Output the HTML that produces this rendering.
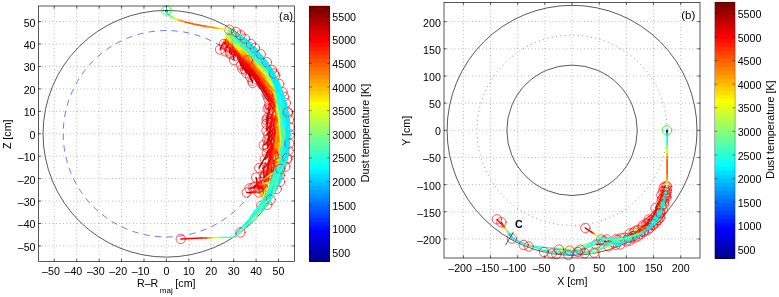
<!DOCTYPE html>
<html><head><meta charset="utf-8"><title>Dust trajectories</title>
<style>html,body{margin:0;padding:0;background:#fff;}svg{display:block}text{font-family:"Liberation Sans",Arial,Helvetica,sans-serif;fill:#000}.j0{stroke:#00008f}.j1{stroke:#00009f}.j2{stroke:#0000af}.j3{stroke:#0000bf}.j4{stroke:#0000cf}.j5{stroke:#0000df}.j6{stroke:#0000ef}.j7{stroke:#0000ff}.j8{stroke:#0010ff}.j9{stroke:#0020ff}.j10{stroke:#0030ff}.j11{stroke:#0040ff}.j12{stroke:#0050ff}.j13{stroke:#0060ff}.j14{stroke:#0070ff}.j15{stroke:#0080ff}.j16{stroke:#008fff}.j17{stroke:#009fff}.j18{stroke:#00afff}.j19{stroke:#00bfff}.j20{stroke:#00cfff}.j21{stroke:#00dfff}.j22{stroke:#00efff}.j23{stroke:#00ffff}.j24{stroke:#10ffef}.j25{stroke:#20ffdf}.j26{stroke:#30ffcf}.j27{stroke:#40ffbf}.j28{stroke:#50ffaf}.j29{stroke:#60ff9f}.j30{stroke:#70ff8f}.j31{stroke:#80ff80}.j32{stroke:#8fff70}.j33{stroke:#9fff60}.j34{stroke:#afff50}.j35{stroke:#bfff40}.j36{stroke:#cfff30}.j37{stroke:#dfff20}.j38{stroke:#efff10}.j39{stroke:#ffff00}.j40{stroke:#ffef00}.j41{stroke:#ffdf00}.j42{stroke:#ffcf00}.j43{stroke:#ffbf00}.j44{stroke:#ffaf00}.j45{stroke:#ff9f00}.j46{stroke:#ff8f00}.j47{stroke:#ff8000}.j48{stroke:#ff7000}.j49{stroke:#ff6000}.j50{stroke:#ff5000}.j51{stroke:#ff4000}.j52{stroke:#ff3000}.j53{stroke:#ff2000}.j54{stroke:#ff1000}.j55{stroke:#ff0000}.j56{stroke:#ef0000}.j57{stroke:#df0000}.j58{stroke:#cf0000}.j59{stroke:#bf0000}.j60{stroke:#af0000}.j61{stroke:#9f0000}.j62{stroke:#8f0000}.j63{stroke:#800000}.rc{stroke:#f00;stroke-width:.65}</style></head><body>
<svg width="779" height="297" viewBox="0 0 779 297">
<rect width="779" height="297" fill="#fff"/>
<rect x="0" y="0" width="1" height="1" fill="#fff" style="mix-blend-mode:multiply"/>
<line x1="54.25" y1="6.00" x2="54.25" y2="261.50" stroke="#000" stroke-width="0.5" stroke-dasharray="0.7 2.8" stroke-opacity="0.8" fill="none"/>
<line x1="76.68" y1="6.00" x2="76.68" y2="261.50" stroke="#000" stroke-width="0.5" stroke-dasharray="0.7 2.8" stroke-opacity="0.8" fill="none"/>
<line x1="99.11" y1="6.00" x2="99.11" y2="261.50" stroke="#000" stroke-width="0.5" stroke-dasharray="0.7 2.8" stroke-opacity="0.8" fill="none"/>
<line x1="121.54" y1="6.00" x2="121.54" y2="261.50" stroke="#000" stroke-width="0.5" stroke-dasharray="0.7 2.8" stroke-opacity="0.8" fill="none"/>
<line x1="143.97" y1="6.00" x2="143.97" y2="261.50" stroke="#000" stroke-width="0.5" stroke-dasharray="0.7 2.8" stroke-opacity="0.8" fill="none"/>
<line x1="166.40" y1="6.00" x2="166.40" y2="261.50" stroke="#000" stroke-width="0.5" stroke-dasharray="0.7 2.8" stroke-opacity="0.8" fill="none"/>
<line x1="188.83" y1="6.00" x2="188.83" y2="261.50" stroke="#000" stroke-width="0.5" stroke-dasharray="0.7 2.8" stroke-opacity="0.8" fill="none"/>
<line x1="211.26" y1="6.00" x2="211.26" y2="261.50" stroke="#000" stroke-width="0.5" stroke-dasharray="0.7 2.8" stroke-opacity="0.8" fill="none"/>
<line x1="233.69" y1="6.00" x2="233.69" y2="261.50" stroke="#000" stroke-width="0.5" stroke-dasharray="0.7 2.8" stroke-opacity="0.8" fill="none"/>
<line x1="256.12" y1="6.00" x2="256.12" y2="261.50" stroke="#000" stroke-width="0.5" stroke-dasharray="0.7 2.8" stroke-opacity="0.8" fill="none"/>
<line x1="278.55" y1="6.00" x2="278.55" y2="261.50" stroke="#000" stroke-width="0.5" stroke-dasharray="0.7 2.8" stroke-opacity="0.8" fill="none"/>
<line x1="38.50" y1="245.90" x2="294.40" y2="245.90" stroke="#000" stroke-width="0.5" stroke-dasharray="0.7 2.8" stroke-opacity="0.8" fill="none"/>
<line x1="38.50" y1="223.47" x2="294.40" y2="223.47" stroke="#000" stroke-width="0.5" stroke-dasharray="0.7 2.8" stroke-opacity="0.8" fill="none"/>
<line x1="38.50" y1="201.04" x2="294.40" y2="201.04" stroke="#000" stroke-width="0.5" stroke-dasharray="0.7 2.8" stroke-opacity="0.8" fill="none"/>
<line x1="38.50" y1="178.61" x2="294.40" y2="178.61" stroke="#000" stroke-width="0.5" stroke-dasharray="0.7 2.8" stroke-opacity="0.8" fill="none"/>
<line x1="38.50" y1="156.18" x2="294.40" y2="156.18" stroke="#000" stroke-width="0.5" stroke-dasharray="0.7 2.8" stroke-opacity="0.8" fill="none"/>
<line x1="38.50" y1="133.75" x2="294.40" y2="133.75" stroke="#000" stroke-width="0.5" stroke-dasharray="0.7 2.8" stroke-opacity="0.8" fill="none"/>
<line x1="38.50" y1="111.32" x2="294.40" y2="111.32" stroke="#000" stroke-width="0.5" stroke-dasharray="0.7 2.8" stroke-opacity="0.8" fill="none"/>
<line x1="38.50" y1="88.89" x2="294.40" y2="88.89" stroke="#000" stroke-width="0.5" stroke-dasharray="0.7 2.8" stroke-opacity="0.8" fill="none"/>
<line x1="38.50" y1="66.46" x2="294.40" y2="66.46" stroke="#000" stroke-width="0.5" stroke-dasharray="0.7 2.8" stroke-opacity="0.8" fill="none"/>
<line x1="38.50" y1="44.03" x2="294.40" y2="44.03" stroke="#000" stroke-width="0.5" stroke-dasharray="0.7 2.8" stroke-opacity="0.8" fill="none"/>
<line x1="38.50" y1="21.60" x2="294.40" y2="21.60" stroke="#000" stroke-width="0.5" stroke-dasharray="0.7 2.8" stroke-opacity="0.8" fill="none"/>
<circle cx="166.4" cy="133.75" r="123.36" fill="none" stroke="#000" stroke-width="0.65"/>
<path d="M269.58 133.75A103.18 103.18 0 1 0 63.22 133.75A103.18 103.18 0 1 0 269.58 133.75" fill="none" stroke="#00f" stroke-width="0.55" stroke-dasharray="6.3 5.27"/>
<g fill="none" stroke-width="1.4" stroke-linecap="round" stroke-linejoin="round">
<circle class="rc" cx="275.2" cy="75.6" r="4.7"/>
<circle class="rc" cx="272.0" cy="69.9" r="4.7"/>
<circle class="rc" cx="279.2" cy="83.9" r="4.7"/>
<circle class="rc" cx="282.5" cy="92.1" r="4.7"/>
<circle class="rc" cx="285.8" cy="102.9" r="4.7"/>
<circle class="rc" cx="288.0" cy="113.2" r="4.7"/>
<circle class="rc" cx="289.6" cy="127.0" r="4.7"/>
<circle class="rc" cx="289.8" cy="134.4" r="4.7"/>
<circle class="rc" cx="289.0" cy="119.7" r="4.7"/>
<circle class="rc" cx="267.3" cy="204.8" r="4.7"/>
<circle class="rc" cx="288.6" cy="150.6" r="4.7"/>
<circle class="rc" cx="285.3" cy="166.7" r="4.7"/>
<circle class="rc" cx="276.7" cy="189.0" r="4.7"/>
<circle class="rc" cx="280.0" cy="181.8" r="4.7"/>
<circle class="rc" cx="261.3" cy="205.7" r="4.7"/>
<circle class="rc" cx="287.1" cy="159.5" r="4.7"/>
<circle class="rc" cx="280.0" cy="175.2" r="4.7"/>
<circle class="rc" cx="284.1" cy="96.9" r="4.7"/>
<path class="j31" d="M229.3 29.7L227 35.8"/>
<path class="j40" d="M227 35.8L226.2 37.9"/>
<path class="j49" d="M226.2 37.9L225.5 39.9"/>
<path class="j55" d="M225.5 39.9L224.7 42"/>
<path class="j58" d="M224.7 42L223.9 44"/>
<path class="j31" d="M229.3 29.7L227.8 35.4"/>
<path class="j34" d="M227.8 35.4L227.3 37.3"/>
<path class="j40" d="M227.3 37.3L226.8 39.2"/>
<path class="j49" d="M226.8 39.2L226.3 41.1"/>
<path class="j55" d="M226.3 41.1L225.8 42.9"/>
<path class="j58" d="M225.8 42.9L225.3 44.8"/>
<path class="j31" d="M229.3 29.7L226.8 35.1"/>
<path class="j34" d="M226.8 35.1L225.9 36.9"/>
<path class="j37" d="M225.9 36.9L225.1 38.7"/>
<path class="j40" d="M225.1 38.7L224.3 40.5"/>
<path class="j46" d="M224.3 40.5L223.4 42.3"/>
<path class="j52" d="M223.4 42.3L222.6 44.1"/>
<path class="j55" d="M222.6 44.1L221.7 45.9"/>
<path class="j58" d="M221.7 45.9L220.9 47.7"/>
<path class="j61" d="M220.9 47.7L220.1 49.5"/>
<path class="j31" d="M229.3 29.7L228.7 35.6"/>
<path class="j34" d="M228.7 35.6L228.5 37.6"/>
<path class="j37" d="M228.5 37.6L228.3 39.6"/>
<path class="j43" d="M228.3 39.6L228.1 41.6"/>
<path class="j52" d="M228.1 41.6L227.9 43.6"/>
<path class="j55" d="M227.9 43.6L227.7 45.5"/>
<path class="j61" d="M227.7 45.5L227.6 47.5"/>
<path class="j31" d="M229.3 29.7L228.2 35.5"/>
<path class="j34" d="M228.2 35.5L227.9 36.9"/>
<path class="j37" d="M227.9 36.9L227.7 38.4"/>
<path class="j40" d="M227.7 38.4L227.4 39.8"/>
<path class="j43" d="M227.4 39.8L227.2 41.2"/>
<path class="j46" d="M227.2 41.2L226.9 42.7"/>
<path class="j49" d="M226.9 42.7L226.5 45.6"/>
<path class="j55" d="M226.5 45.6L226.2 47"/>
<path class="j58" d="M226.2 47L225.8 49.9"/>
<path class="j61" d="M225.8 49.9L225.6 51.4"/>
<path class="j31" d="M229.3 29.7L229.2 32.9M229.1 33.9L229 36"/>
<path class="j28" d="M229.2 32.9L229.1 33.9"/>
<path class="j34" d="M229 36L229 37.1"/>
<path class="j37" d="M229 37.1L229 39.2"/>
<path class="j40" d="M229 39.2L229 40.3"/>
<path class="j43" d="M229 40.3L229 41.3"/>
<path class="j46" d="M229 41.3L229.1 43.4"/>
<path class="j49" d="M229.1 43.4L229.2 45.5"/>
<path class="j52" d="M229.2 45.5L229.3 47.6"/>
<path class="j55" d="M229.3 47.6L229.5 49.8"/>
<path class="j58" d="M229.5 49.8L229.6 50.8"/>
<path class="j61" d="M229.6 50.8L229.8 52.9"/>
<path class="j31" d="M229.3 29.7L229.8 36.8"/>
<path class="j34" d="M229.8 36.8L230 38.5"/>
<path class="j37" d="M230 38.5L230.1 40.3"/>
<path class="j40" d="M230.1 40.3L230.2 42"/>
<path class="j43" d="M230.2 42L230.4 43.8"/>
<path class="j46" d="M230.4 43.8L230.5 45.6"/>
<path class="j49" d="M230.5 45.6L230.7 47.3"/>
<path class="j52" d="M230.7 47.3L230.8 49.1"/>
<path class="j55" d="M230.8 49.1L231 50.9"/>
<path class="j58" d="M231 50.9L231.2 52.6"/>
<path class="j61" d="M231.2 52.6L231.3 54.4"/>
<path class="j31" d="M229.3 29.7L231 37.8"/>
<path class="j34" d="M231 37.8L231.4 39.5"/>
<path class="j37" d="M231.4 39.5L231.7 41.1"/>
<path class="j40" d="M231.7 41.1L232.1 42.7"/>
<path class="j43" d="M232.1 42.7L232.8 46"/>
<path class="j46" d="M232.8 46L233.2 47.6"/>
<path class="j49" d="M233.2 47.6L233.6 49.2"/>
<path class="j52" d="M233.6 49.2L234 50.9"/>
<path class="j55" d="M234 50.9L234.4 52.5"/>
<path class="j58" d="M234.4 52.5L234.8 54.1"/>
<path class="j61" d="M234.8 54.1L235.2 55.7"/>
<path class="j31" d="M229.3 29.7L230.4 37.3"/>
<path class="j34" d="M230.4 37.3L230.7 39.2"/>
<path class="j37" d="M230.7 39.2L231 41.1"/>
<path class="j40" d="M231 41.1L231.3 43"/>
<path class="j43" d="M231.3 43L231.6 44.9"/>
<path class="j46" d="M231.6 44.9L231.9 46.8"/>
<path class="j49" d="M231.9 46.8L232.2 48.7"/>
<path class="j52" d="M232.2 48.7L232.8 52.5"/>
<path class="j55" d="M232.8 52.5L233.1 54.4"/>
<path class="j58" d="M233.1 54.4L233.4 56.3"/>
<path class="j61" d="M233.4 56.3L234 60.1"/>
<path class="j31" d="M229.3 29.7L230.3 33.5M231 36L231.3 37.3"/>
<path class="j28" d="M230.3 33.5L231 36"/>
<path class="j34" d="M231.3 37.3L232.1 39.8"/>
<path class="j37" d="M232.1 39.8L232.4 41.1"/>
<path class="j40" d="M232.4 41.1L232.8 42.3"/>
<path class="j43" d="M232.8 42.3L233.6 44.8"/>
<path class="j46" d="M233.6 44.8L234.4 47.4"/>
<path class="j49" d="M234.4 47.4L234.8 48.6"/>
<path class="j52" d="M234.8 48.6L236.1 52.4"/>
<path class="j55" d="M236.1 52.4L238.4 58.7"/>
<path class="j58" d="M238.4 58.7L240.9 65.1"/>
<path class="j61" d="M240.9 65.1L242.4 68.8"/>
<path class="j31" d="M229.3 29.7L230.1 32.4M231.3 36.5L231.7 37.9"/>
<path class="j28" d="M230.1 32.4L231.3 36.5"/>
<path class="j34" d="M231.7 37.9L232.1 39.2"/>
<path class="j37" d="M232.1 39.2L232.9 42"/>
<path class="j40" d="M232.9 42L233.4 43.3"/>
<path class="j43" d="M233.4 43.3L234.3 46.1"/>
<path class="j46" d="M234.3 46.1L234.7 47.4"/>
<path class="j49" d="M234.7 47.4L235.6 50.2"/>
<path class="j52" d="M235.6 50.2L237.1 54.3"/>
<path class="j55" d="M237.1 54.3L239.1 59.7"/>
<path class="j58" d="M239.1 59.7L240.1 62.4"/>
<path class="j61" d="M240.1 62.4L241.2 65.2"/>
<path class="j31" d="M229.3 29.7L230.6 32.1M233.9 38L235.2 40.3"/>
<path class="j28" d="M230.6 32.1L233.9 38"/>
<path class="j34" d="M235.2 40.3L235.9 41.5"/>
<path class="j37" d="M235.9 41.5L238 45"/>
<path class="j40" d="M238 45L239.5 47.4"/>
<path class="j43" d="M239.5 47.4L240.9 49.7"/>
<path class="j46" d="M240.9 49.7L244 54.5"/>
<path class="j49" d="M244 54.5L244.7 55.6"/>
<path class="j52" d="M244.7 55.6L245.5 56.8"/>
<path class="j55" d="M245.5 56.8L246.3 58"/>
<path class="j58" d="M246.3 58L247.1 59.2"/>
<path class="j61" d="M247.1 59.2L247.9 60.4"/>
<path class="j31" d="M229.3 29.7L230.7 33.7M231.1 35.1L232 37.8"/>
<path class="j28" d="M230.7 33.7L231.1 35.1"/>
<path class="j34" d="M232 37.8L232.5 39.1"/>
<path class="j37" d="M232.5 39.1L233.5 41.8"/>
<path class="j40" d="M233.5 41.8L234 43.2"/>
<path class="j43" d="M234 43.2L235 45.9"/>
<path class="j46" d="M235 45.9L235.5 47.2"/>
<path class="j49" d="M235.5 47.2L236.5 49.9"/>
<path class="j52" d="M236.5 49.9L238.1 54"/>
<path class="j55" d="M238.1 54L240.9 60.7"/>
<path class="j58" d="M240.9 60.7L242.7 64.8"/>
<path class="j61" d="M242.7 64.8L243.9 67.5"/>
<path class="j31" d="M229.3 29.7L231.2 34.7M231.8 36.4L232.4 38"/>
<path class="j28" d="M231.2 34.7L231.8 36.4"/>
<path class="j34" d="M232.4 38L233 39.7"/>
<path class="j37" d="M233 39.7L234.3 43"/>
<path class="j40" d="M234.3 43L234.9 44.7"/>
<path class="j43" d="M234.9 44.7L235.6 46.4"/>
<path class="j46" d="M235.6 46.4L236.9 49.7"/>
<path class="j49" d="M236.9 49.7L237.5 51.4"/>
<path class="j52" d="M237.5 51.4L238.9 54.7"/>
<path class="j55" d="M238.9 54.7L242.2 63.1"/>
<path class="j58" d="M242.2 63.1L244.3 68.1"/>
<path class="j61" d="M244.3 68.1L246.4 73.1"/>
<path class="j31" d="M229.3 29.7L229.7 32.1M230.2 35.4L230.4 36.2"/>
<path class="j28" d="M229.7 32.1L230.2 35.4"/>
<path class="j34" d="M230.4 36.2L230.7 37.8"/>
<path class="j37" d="M230.7 37.8L231.1 39.5"/>
<path class="j40" d="M231.1 39.5L231.5 41.1"/>
<path class="j43" d="M231.5 41.1L232 42.7"/>
<path class="j46" d="M232 42.7L232.5 44.3"/>
<path class="j49" d="M232.5 44.3L233.3 46.8"/>
<path class="j52" d="M233.3 46.8L234.5 50"/>
<path class="j55" d="M234.5 50L238.3 58.2"/>
<path class="j58" d="M238.3 58.2L243.4 67.1"/>
<path class="j61" d="M243.4 67.1L245 69.6"/>
<path class="j31" d="M229.3 29.7L230.5 32.7M232.2 37.1L232.8 38.6"/>
<path class="j28" d="M230.5 32.7L232.2 37.1"/>
<path class="j34" d="M232.8 38.6L233.9 41.5"/>
<path class="j37" d="M233.9 41.5L234.5 43"/>
<path class="j40" d="M234.5 43L235.1 44.5"/>
<path class="j43" d="M235.1 44.5L236.4 47.4"/>
<path class="j46" d="M236.4 47.4L237.6 50.4"/>
<path class="j49" d="M237.6 50.4L238.9 53.4"/>
<path class="j52" d="M238.9 53.4L240.8 57.8"/>
<path class="j55" d="M240.8 57.8L245.5 68.2"/>
<path class="j58" d="M245.5 68.2L250.5 78.5"/>
<path class="j61" d="M250.5 78.5L252.7 82.9"/>
<path class="j31" d="M229.3 29.7L231.4 34.6M232.1 36.3L232.8 37.9"/>
<path class="j28" d="M231.4 34.6L232.1 36.3"/>
<path class="j34" d="M232.8 37.9L234.2 41.2"/>
<path class="j37" d="M234.2 41.2L234.9 42.9"/>
<path class="j40" d="M234.9 42.9L235.7 44.5"/>
<path class="j43" d="M235.7 44.5L237.1 47.8"/>
<path class="j46" d="M237.1 47.8L237.8 49.4"/>
<path class="j49" d="M237.8 49.4L239.3 52.7"/>
<path class="j52" d="M239.3 52.7L241.6 57.7"/>
<path class="j55" d="M241.6 57.7L245.4 65.9"/>
<path class="j58" d="M245.4 65.9L250 75.8"/>
<path class="j61" d="M250 75.8L252.4 80.7"/>
<path class="j31" d="M229.3 29.7L230 32.1M231.1 35.7L231.9 38.1"/>
<path class="j28" d="M230 32.1L231.1 35.7"/>
<path class="j34" d="M231.9 38.1L232.3 39.3"/>
<path class="j37" d="M232.3 39.3L233.1 41.7"/>
<path class="j40" d="M233.1 41.7L233.5 42.9"/>
<path class="j43" d="M233.5 42.9L234.4 45.3"/>
<path class="j46" d="M234.4 45.3L235.3 47.8"/>
<path class="j49" d="M235.3 47.8L236.2 50.2"/>
<path class="j52" d="M236.2 50.2L238.1 55"/>
<path class="j55" d="M238.1 55L241.8 63.4"/>
<path class="j58" d="M241.8 63.4L244 68.2"/>
<path class="j61" d="M244 68.2L245.8 71.8"/>
<path class="j31" d="M229.3 29.7L230.5 32.6M232.2 37.1L232.8 38.6"/>
<path class="j28" d="M230.5 32.6L232.2 37.1"/>
<path class="j34" d="M232.8 38.6L234.1 41.5"/>
<path class="j37" d="M234.1 41.5L234.7 43"/>
<path class="j40" d="M234.7 43L235.3 44.5"/>
<path class="j43" d="M235.3 44.5L236.5 47.4"/>
<path class="j46" d="M236.5 47.4L237.8 50.4"/>
<path class="j49" d="M237.8 50.4L239.1 53.3"/>
<path class="j52" d="M239.1 53.3L241.1 57.8"/>
<path class="j55" d="M241.1 57.8L245.9 68.1"/>
<path class="j58" d="M245.9 68.1L248.8 74"/>
<path class="j61" d="M248.8 74L250.2 77"/>
<path class="j31" d="M229.3 29.7L230.6 32.7M232.6 37.1L233.3 38.6"/>
<path class="j28" d="M230.6 32.7L232.6 37.1"/>
<path class="j34" d="M233.3 38.6L234.6 41.6"/>
<path class="j37" d="M234.6 41.6L235.3 43.1"/>
<path class="j40" d="M235.3 43.1L236.6 46.1"/>
<path class="j43" d="M236.6 46.1L237.3 47.6"/>
<path class="j46" d="M237.3 47.6L238.7 50.5"/>
<path class="j49" d="M238.7 50.5L240.2 53.5"/>
<path class="j52" d="M240.2 53.5L243.1 59.5"/>
<path class="j55" d="M243.1 59.5L248.4 69.9"/>
<path class="j58" d="M248.4 69.9L249.9 72.9"/>
<path class="j61" d="M249.9 72.9L251.5 75.8"/>
<path class="j31" d="M229.3 29.7L230.4 31.3M237 39.8L239 42.2M264.8 67.2L267.6 69.5M271.4 85.2L270.9 86.6"/>
<path class="j28" d="M230.4 31.3L233.9 35.9M235.1 37.5L237 39.8M267.6 69.5L272.4 73.4M272 83.8L271.4 85.2"/>
<path class="j25" d="M233.9 35.9L235.1 37.5M272.4 73.4L275.2 75.6L272 83.8"/>
<path class="j34" d="M239 42.2L242.5 46.1M261.1 64L264.8 67.2M270.9 86.6L270.4 87.9"/>
<path class="j37" d="M242.5 46.1L250.9 54.7L261.1 64M270.4 87.9L269.9 89.3"/>
<path class="j46" d="M269.9 89.3L269.4 90.7"/>
<path class="j52" d="M269.4 90.7L269 92.1"/>
<path class="j55" d="M269 92.1L268.5 93.4"/>
<path class="j58" d="M268.5 93.4L268 94.8"/>
<path class="j31" d="M229.3 29.7L230.8 31.4M242.6 44.1L250.6 51.7L259.1 59.3M269.8 79.7L269.5 81.4"/>
<path class="j28" d="M230.8 31.4L236.1 37.3M238.5 39.8L242.6 44.1M259.1 59.3L266.2 65.2M270.2 78.1L269.8 79.7"/>
<path class="j25" d="M236.1 37.3L238.5 39.8M266.2 65.2L272 69.9L270.2 78.1"/>
<path class="j34" d="M269.5 81.4L269.1 83"/>
<path class="j37" d="M269.1 83L268.8 84.7"/>
<path class="j40" d="M268.8 84.7L268.5 86.3"/>
<path class="j43" d="M268.5 86.3L267.8 89.6"/>
<path class="j49" d="M267.8 89.6L267.5 91.2"/>
<path class="j55" d="M267.5 91.2L267.2 92.8"/>
<path class="j58" d="M267.2 92.8L266.9 94.5"/>
<path class="j61" d="M266.9 94.5L266.6 96.1"/>
<path class="j31" d="M229.3 29.7L230.1 31.7M232.1 36.3L232.8 37.6M274.5 80.5L277.3 82.5M274.8 90.1L274.1 91.1"/>
<path class="j28" d="M230.1 31.7L232.1 36.3M277.3 82.5L279.2 83.9L277.7 85.9M275.5 89L274.8 90.1"/>
<path class="j34" d="M232.8 37.6L233.9 39.6M272.7 79.2L274.5 80.5M274.1 91.1L273.4 92.1"/>
<path class="j37" d="M233.9 39.6L235 41.6M270 77.2L272.7 79.2M273.4 92.1L272.7 93.2"/>
<path class="j40" d="M235 41.6L236.7 44.2M267.4 75.2L270 77.2M272.7 93.2L271.3 95.2"/>
<path class="j43" d="M236.7 44.2L238.6 46.9M264.1 72.6L267.4 75.2"/>
<path class="j46" d="M238.6 46.9L242.2 51.5M259.3 68.6L264.1 72.6"/>
<path class="j49" d="M242.2 51.5L250 60.1L259.3 68.6M271.3 95.2L270.6 96.3"/>
<path class="j25" d="M277.7 85.9L275.5 89"/>
<path class="j52" d="M270.6 96.3L270 97.3"/>
<path class="j58" d="M270 97.3L269.3 98.3"/>
<path class="j61" d="M269.3 98.3L268.7 99.4"/>
<path class="j31" d="M229.3 29.7L230.6 31.9M234.2 37.9L235.3 39.4M272.6 77.6L275.5 79.8M274.1 89L273.4 90.1"/>
<path class="j28" d="M230.6 31.9L234.2 37.9M275.5 79.8L278.5 82.2L277.7 83.3M274.8 87.8L274.1 89"/>
<path class="j34" d="M235.3 39.4L236.8 41.7M269.9 75.4L272.6 77.6M273.4 90.1L272.7 91.2"/>
<path class="j37" d="M236.8 41.7L238.5 43.9M267.2 73.1L269.9 75.4M272.7 91.2L272 92.4"/>
<path class="j40" d="M238.5 43.9L241.5 47.7M262.8 69.4L267.2 73.1M272 92.4L271.3 93.5"/>
<path class="j43" d="M241.5 47.7L248 55.1M254.7 61.9L262.8 69.4M271.3 93.5L270.7 94.6"/>
<path class="j46" d="M248 55.1L254.7 61.9"/>
<path class="j25" d="M277.7 83.3L274.8 87.8"/>
<path class="j49" d="M270.7 94.6L270 95.8"/>
<path class="j52" d="M270 95.8L269.3 96.9"/>
<path class="j58" d="M269.3 96.9L268.7 98"/>
<path class="j61" d="M268.7 98L268 99.1"/>
<path class="j31" d="M229.3 29.7L230 31.5M232.1 36.3L232.7 37.5M272.4 76.2L275.1 78M273.1 85.6L272.4 86.7"/>
<path class="j28" d="M230 31.5L232.1 36.3M275.1 78L277.1 79.3L275.7 81.4M273.7 84.6L273.1 85.6"/>
<path class="j34" d="M232.7 37.5L233.3 38.7M269.7 74.4L272.4 76.2M272.4 86.7L271.8 87.7"/>
<path class="j37" d="M233.3 38.7L234.8 41.2M268 73.1L269.7 74.4M271.8 87.7L270.6 89.8"/>
<path class="j40" d="M234.8 41.2L236.4 43.6M264.6 70.7L268 73.1M270.6 89.8L269.9 90.9"/>
<path class="j43" d="M236.4 43.6L238.6 46.6M260.6 67.7L264.6 70.7"/>
<path class="j46" d="M238.6 46.6L243.2 52M253.9 62.3L260.6 67.7M269.9 90.9L269.3 92"/>
<path class="j49" d="M243.2 52L247.9 56.9L253.9 62.3"/>
<path class="j25" d="M275.7 81.4L273.7 84.6"/>
<path class="j52" d="M269.3 92L268.7 93"/>
<path class="j58" d="M268.7 93L268.1 94.1"/>
<path class="j61" d="M268.1 94.1L267.6 95.1"/>
<path class="j31" d="M229.3 29.7L229.8 30.9M232.1 36.6L232.7 37.8M272.6 77.8L275.3 79.7M274.4 90.6L273.9 91.7"/>
<path class="j28" d="M229.8 30.9L232.1 36.6M275.3 79.7L278.2 81.6M274.8 89.4L274.4 90.6"/>
<path class="j34" d="M232.7 37.8L233.8 39.7M270.8 76.6L272.6 77.8M273.9 91.7L273.5 92.8"/>
<path class="j37" d="M233.8 39.7L234.9 41.6M268.2 74.7L270.8 76.6M273.5 92.8L272.6 95"/>
<path class="j40" d="M234.9 41.6L236.9 44.7M265.7 72.8L268.2 74.7M272.6 95L272.2 96.1"/>
<path class="j43" d="M236.9 44.7L239.2 47.8M260.8 69.1L265.7 72.8M272.2 96.1L271.8 97.3"/>
<path class="j46" d="M239.2 47.8L243.9 53.4M254.1 63.4L260.8 69.1M271.8 97.3L271 99.5"/>
<path class="j49" d="M243.9 53.4L248.7 58.4L254.1 63.4M271 99.5L270.6 100.6"/>
<path class="j25" d="M278.2 81.6L274.8 89.4"/>
<path class="j52" d="M270.6 100.6L270.2 101.7"/>
<path class="j55" d="M270.2 101.7L269.8 102.8"/>
<path class="j58" d="M269.8 102.8L269.5 104"/>
<path class="j61" d="M269.5 104L269.1 105.1"/>
<path class="j31" d="M229.3 29.7L230 31.8M231.7 36.2L232.3 37.6M279.7 90L282.5 92.1M277.1 98L276.1 99.2"/>
<path class="j28" d="M230 31.8L231.7 36.2M282.5 92.1L277.1 98"/>
<path class="j34" d="M232.3 37.6L233 39M276.9 87.9L279.7 90M276.1 99.2L275 100.4"/>
<path class="j37" d="M233 39L233.7 40.5M275.1 86.4L276.9 87.9M275 100.4L273.9 101.6"/>
<path class="j40" d="M233.7 40.5L234.8 42.6M273.3 85L275.1 86.4M273.9 101.6L272.9 102.8"/>
<path class="j43" d="M234.8 42.6L236.5 45.5M270.7 82.8L273.3 85"/>
<path class="j46" d="M236.5 45.5L238.2 48.4M267.2 80L270.7 82.8M272.9 102.8L271.8 104"/>
<path class="j49" d="M238.2 48.4L241.2 52.7M263.1 76.4L267.2 80M271.8 104L270.8 105.2"/>
<path class="j52" d="M241.2 52.7L245.7 58.4L250.7 64.2L256.2 69.9L263.1 76.4"/>
<path class="j55" d="M270.8 105.2L269.8 106.3"/>
<path class="j58" d="M269.8 106.3L268.7 107.5"/>
<path class="j61" d="M268.7 107.5L267.7 108.7"/>
<path class="j31" d="M229.3 29.7L231.1 32.4M235.4 38.6L236.7 40.4M273.4 79.7L277.4 83.2M276.4 93.1L275.2 95.7"/>
<path class="j28" d="M231.1 32.4L235.4 38.6M277.4 83.2L279.9 85.4L278.7 88M276.9 91.8L276.4 93.1"/>
<path class="j34" d="M236.7 40.4L238.8 43.1M271.4 77.9L273.4 79.7M275.2 95.7L274.7 97"/>
<path class="j37" d="M238.8 43.1L240.9 45.8M268.5 75.2L271.4 77.9M274.7 97L274.1 98.2"/>
<path class="j40" d="M240.9 45.8L245.3 51.1M263.8 70.7L268.5 75.2M274.1 98.2L273.6 99.5"/>
<path class="j43" d="M245.3 51.1L254.1 60.9L263.8 70.7M273.6 99.5L273.1 100.8"/>
<path class="j25" d="M278.7 88L276.9 91.8"/>
<path class="j46" d="M273.1 100.8L272 103.4"/>
<path class="j49" d="M272 103.4L271.5 104.6"/>
<path class="j52" d="M271.5 104.6L271 105.9"/>
<path class="j55" d="M271 105.9L270.5 107.2"/>
<path class="j58" d="M270.5 107.2L270 108.5"/>
<path class="j61" d="M270 108.5L269.5 109.8"/>
<path class="j31" d="M229.3 29.7L230.5 31.4M236.1 39.3L237.4 41.1M271.5 76.9L274.4 79.5M275.6 93.4L275 95"/>
<path class="j28" d="M230.5 31.4L236.1 39.3M274.4 79.5L279.1 83.6M276.1 91.8L275.6 93.4"/>
<path class="j34" d="M237.4 41.1L239.4 43.7M269.5 75.2L271.5 76.9M275 95L274.4 96.7"/>
<path class="j37" d="M239.4 43.7L243 48.1M265.7 71.7L269.5 75.2M274.4 96.7L273.8 98.3"/>
<path class="j40" d="M243 48.1L249.2 55M256.7 62.9L265.7 71.7M273.8 98.3L273.3 99.9"/>
<path class="j43" d="M249.2 55L256.7 62.9M273.3 99.9L272.7 101.6"/>
<path class="j25" d="M279.1 83.6L276.1 91.8"/>
<path class="j46" d="M272.7 101.6L271.6 104.9"/>
<path class="j49" d="M271.6 104.9L271.1 106.5"/>
<path class="j52" d="M271.1 106.5L269.5 111.4"/>
<path class="j55" d="M269.5 111.4L268.9 113.1"/>
<path class="j58" d="M268.9 113.1L268.4 114.7"/>
<path class="j61" d="M268.4 114.7L267.4 118"/>
<path class="j31" d="M229.3 29.7L230.7 32.6M232.7 36.4L233.7 38.4M283.9 101L285.8 102.9L284.8 104.2M280.6 109.5L279.6 110.9"/>
<path class="j28" d="M230.7 32.6L232.7 36.4M284.8 104.2L280.6 109.5"/>
<path class="j34" d="M233.7 38.4L234.8 40.3M281.9 99.1L283.9 101M279.6 110.9L278.6 112.2"/>
<path class="j37" d="M234.8 40.3L235.9 42.2M280 97.1L281.9 99.1M278.6 112.2L277.5 113.5"/>
<path class="j40" d="M235.9 42.2L237.6 45.1M278 95.2L280 97.1M277.5 113.5L276.5 114.8"/>
<path class="j43" d="M237.6 45.1L239.4 48M275.2 92.3L278 95.2"/>
<path class="j46" d="M239.4 48L241.2 50.9M272.4 89.4L275.2 92.3M276.5 114.8L275.5 116.2"/>
<path class="j49" d="M241.2 50.9L244.5 55.7M267.9 84.6L272.4 89.4"/>
<path class="j52" d="M244.5 55.7L253.1 67.3M256.9 72.1L267.9 84.6M275.5 116.2L274.5 117.5"/>
<path class="j55" d="M253.1 67.3L256.9 72.1"/>
<path class="j58" d="M274.5 117.5L273.5 118.8"/>
<path class="j61" d="M273.5 118.8L272.5 120.2"/>
<path class="j31" d="M229.3 29.7L230.9 31.7M240.1 42.5L241.9 44.4M265.2 68L268.3 71M273.8 88.6L273.5 90"/>
<path class="j28" d="M230.9 31.7L235.8 37.6M236.7 38.5L240.1 42.5M268.3 71L273.7 75.9M274.2 87.2L273.8 88.6"/>
<path class="j25" d="M235.8 37.6L236.7 38.5M273.7 75.9L276.7 78.6L274.2 87.2"/>
<path class="j34" d="M241.9 44.4L247.3 50.3M260 63.1L265.2 68M273.5 90L272.7 92.9"/>
<path class="j37" d="M247.3 50.3L260 63.1M272.7 92.9L272.3 94.3"/>
<path class="j40" d="M272.3 94.3L272 95.8"/>
<path class="j43" d="M272 95.8L271.6 97.2"/>
<path class="j46" d="M271.6 97.2L270.9 100.1"/>
<path class="j49" d="M270.9 100.1L270.2 102.9"/>
<path class="j52" d="M270.2 102.9L269.2 107.2"/>
<path class="j55" d="M269.2 107.2L267.7 114.4"/>
<path class="j58" d="M267.7 114.4L267.1 117.3"/>
<path class="j61" d="M267.1 117.3L266.6 120.1"/>
<path class="j31" d="M229.3 29.7L230.1 31.9M231.5 35.7L232.1 37.2M281.1 93.4L283.6 95.4M279.4 102.3L278.6 103.7"/>
<path class="j28" d="M230.1 31.9L231.5 35.7M283.6 95.4L279.4 102.3"/>
<path class="j34" d="M232.1 37.2L232.8 38.7M279.2 91.9L281.1 93.4M278.6 103.7L277.7 105.1"/>
<path class="j37" d="M232.8 38.7L233.8 40.9M277.4 90.4L279.2 91.9M277.7 105.1L276.1 107.9"/>
<path class="j40" d="M233.8 40.9L234.6 42.4M275.5 88.9L277.4 90.4M276.1 107.9L275.3 109.2"/>
<path class="j43" d="M234.6 42.4L236.2 45.4M272.8 86.7L275.5 88.9M275.3 109.2L274.4 110.6"/>
<path class="j46" d="M236.2 45.4L237.5 47.7M270.2 84.4L272.8 86.7M274.4 110.6L273.6 112"/>
<path class="j49" d="M237.5 47.7L239.9 51.4M266 80.7L270.2 84.4M273.6 112L272.8 113.4"/>
<path class="j52" d="M239.9 51.4L244.8 58.2M259.6 74.7L266 80.7M272.8 113.4L272 114.8"/>
<path class="j55" d="M244.8 58.2L251.7 66.4L259.6 74.7"/>
<path class="j58" d="M272 114.8L270.5 117.6"/>
<path class="j61" d="M270.5 117.6L269.7 118.9"/>
<path class="j31" d="M229.3 29.7L230.8 32.1M235.2 38.4L236.4 40M270.8 74.9L273.7 77.2M274.8 90.4L274.3 92.1"/>
<path class="j28" d="M230.8 32.1L235.2 38.4M273.7 77.2L277.6 80.4M275.3 88.8L274.8 90.4"/>
<path class="j34" d="M236.4 40L238.3 42.4M268 72.5L270.8 74.9M274.3 92.1L273.9 93.8"/>
<path class="j37" d="M238.3 42.4L240.8 45.5M264.3 69.3L268 72.5M273.9 93.8L273.4 95.5"/>
<path class="j40" d="M240.8 45.5L246.4 51.9M257.4 63L264.3 69.3M273.4 95.5L273 97.1"/>
<path class="j43" d="M246.4 51.9L257.4 63M273 97.1L272.1 100.5"/>
<path class="j25" d="M277.6 80.4L275.3 88.8"/>
<path class="j46" d="M272.1 100.5L271.7 102.1"/>
<path class="j49" d="M271.7 102.1L270.8 105.5"/>
<path class="j52" d="M270.8 105.5L270 108.8"/>
<path class="j55" d="M270 108.8L268.3 115.5"/>
<path class="j58" d="M268.3 115.5L267.5 118.9"/>
<path class="j61" d="M267.5 118.9L266.4 123.9"/>
<path class="j31" d="M229.3 29.7L231 31.6M241.4 43.4L244.2 46.3M262.1 63.9L265.3 66.9M273 88.2L272.7 90"/>
<path class="j28" d="M231 31.6L236.1 37.5M237.8 39.5L241.4 43.4M265.3 66.9L271.8 72.7M273.3 86.5L273 88.2"/>
<path class="j25" d="M236.1 37.5L237.8 39.5M271.8 72.7L275.3 75.8L273.3 86.5"/>
<path class="j34" d="M244.2 46.3L252.9 55.1L262.1 63.9M272.7 90L272.4 91.8"/>
<path class="j37" d="M272.4 91.8L272.1 93.5"/>
<path class="j40" d="M272.1 93.5L271.8 95.3"/>
<path class="j43" d="M271.8 95.3L271.5 97.1"/>
<path class="j46" d="M271.5 97.1L270.9 100.6"/>
<path class="j49" d="M270.9 100.6L270.3 104.2"/>
<path class="j52" d="M270.3 104.2L269.5 109.5"/>
<path class="j55" d="M269.5 109.5L267.9 120.1"/>
<path class="j58" d="M267.9 120.1L267.2 125.4"/>
<path class="j61" d="M267.2 125.4L266.5 130.7"/>
<path class="j31" d="M229.3 29.7L231 33.1M233.4 37.7L234 38.8M287 112L288 113.2L286.9 114.5M282.1 119.6L280.9 120.8"/>
<path class="j28" d="M231 33.1L233.4 37.7M286.9 114.5L282.1 119.6"/>
<path class="j34" d="M234 38.8L235.3 41.1M284.9 109.7L287 112M280.9 120.8L279.8 122.1"/>
<path class="j37" d="M235.3 41.1L236.6 43.4M282.9 107.4L284.9 109.7M279.8 122.1L278.6 123.4"/>
<path class="j40" d="M236.6 43.4L237.9 45.7M281 105.2L282.9 107.4M278.6 123.4L277.4 124.6"/>
<path class="j43" d="M237.9 45.7L239.2 48M279 102.9L281 105.2M277.4 124.6L276.3 125.9"/>
<path class="j46" d="M239.2 48L241.2 51.4M276.1 99.4L279 102.9M276.3 125.9L275.1 127.2"/>
<path class="j49" d="M241.2 51.4L244.1 56M273.3 96L276.1 99.4M275.1 127.2L274 128.4"/>
<path class="j52" d="M244.1 56L248.5 62.9M267.7 89.1L273.3 96M274 128.4L272.8 129.7"/>
<path class="j55" d="M248.5 62.9L257.3 75.4L267.7 89.1M272.8 129.7L271.7 131"/>
<path class="j58" d="M271.7 131L269.4 133.5"/>
<path class="j61" d="M269.4 133.5L268.3 134.8"/>
<path class="j31" d="M229.3 29.7L230.3 32.2M232 36.5L232.4 37.3M283.4 99.9L285.5 101.7M280.5 109.3L279.5 110.8"/>
<path class="j28" d="M230.3 32.2L232 36.5M285.5 101.7L280.5 109.3"/>
<path class="j34" d="M232.4 37.3L233.2 39M281.5 98.2L283.4 99.9M279.5 110.8L278.5 112.3"/>
<path class="j37" d="M233.2 39L234.4 41.5M279.6 96.5L281.5 98.2M278.5 112.3L277.5 113.8"/>
<path class="j40" d="M234.4 41.5L235.3 43.2M277.7 94.8L279.6 96.5M277.5 113.8L276.5 115.3"/>
<path class="j43" d="M235.3 43.2L236.6 45.8M275.9 93.1L277.7 94.8M276.5 115.3L275.5 116.8"/>
<path class="j46" d="M236.6 45.8L238.1 48.3M273.2 90.6L275.9 93.1M275.5 116.8L274.5 118.3"/>
<path class="j49" d="M238.1 48.3L240.1 51.7M269.7 87.2L273.2 90.6M274.5 118.3L273.5 119.8"/>
<path class="j52" d="M240.1 51.7L244.1 57.6M263.8 81.3L269.7 87.2M273.5 119.8L271.6 122.8"/>
<path class="j55" d="M244.1 57.6L253.2 69.5L263.8 81.3M271.6 122.8L270.6 124.3"/>
<path class="j58" d="M270.6 124.3L268.7 127.3"/>
<path class="j61" d="M268.7 127.3L266.8 130.3"/>
<path class="j31" d="M229.3 29.7L230.6 31.9M234.4 38.4L235.8 40.6M282.3 99.6L285.5 102.9M280.6 112L279.7 113.4"/>
<path class="j28" d="M230.6 31.9L234.4 38.4M285.5 102.9L286 103.5L280.6 112"/>
<path class="j34" d="M235.8 40.6L237.2 42.8M280.3 97.4L282.3 99.6M279.7 113.4L278.8 114.8"/>
<path class="j37" d="M237.2 42.8L238.6 45M278.3 95.3L280.3 97.4M278.8 114.8L277.9 116.3"/>
<path class="j40" d="M238.6 45L240.7 48.3M276.3 93.1L278.3 95.3M277.9 116.3L277.1 117.7"/>
<path class="j43" d="M240.7 48.3L243 51.5M273.3 89.8L276.3 93.1M277.1 117.7L276.2 119.1"/>
<path class="j46" d="M243 51.5L246.8 57M268.5 84.3L273.3 89.8M276.2 119.1L274.5 121.9"/>
<path class="j49" d="M246.8 57L256.7 70.1L268.5 84.3M274.5 121.9L273.6 123.4"/>
<path class="j52" d="M273.6 123.4L271.1 127.6"/>
<path class="j55" d="M271.1 127.6L269.4 130.5"/>
<path class="j58" d="M269.4 130.5L268.6 131.9"/>
<path class="j61" d="M268.6 131.9L266.9 134.7"/>
<path class="j31" d="M229.3 29.7L230.7 33M232.2 36.3L233.2 38.5M288.7 117.5L285.5 120.7M283.4 122.8L282.3 123.9"/>
<path class="j28" d="M230.7 33L232.2 36.3M285.5 120.7L283.4 122.8"/>
<path class="j34" d="M233.2 38.5L234.3 40.7M285.7 114.2L288.7 117.5M282.3 123.9L280.3 126"/>
<path class="j37" d="M234.3 40.7L234.8 41.8M284.7 113.1L285.7 114.2M280.3 126L279.2 127.1"/>
<path class="j40" d="M234.8 41.8L235.9 44M282.8 110.9L284.7 113.1M279.2 127.1L278.2 128.1"/>
<path class="j43" d="M235.9 44L237.6 47.3M280.9 108.7L282.8 110.9M278.2 128.1L277.2 129.2"/>
<path class="j46" d="M237.6 47.3L238.8 49.4M279 106.5L280.9 108.7M277.2 129.2L276.2 130.2"/>
<path class="j49" d="M238.8 49.4L240.6 52.7M276.2 103.2L279 106.5M276.2 130.2L274.2 132.4"/>
<path class="j52" d="M240.6 52.7L243.8 58.2M271.7 97.7L276.2 103.2M274.2 132.4L272.2 134.5"/>
<path class="j55" d="M243.8 58.2L249.9 68.1L256.6 78L263.9 87.9L271.7 97.7M272.2 134.5L271.2 135.6"/>
<path class="j58" d="M271.2 135.6L269.2 137.7"/>
<path class="j61" d="M269.2 137.7L267.3 139.8"/>
<path class="j31" d="M229.3 29.7L230.8 31.6M238.7 41.3L240.3 43.2M267.4 71.3L271.6 75.1M275.7 93.7L275.4 95.6"/>
<path class="j28" d="M230.8 31.6L238.7 41.3M271.6 75.1L275.9 79M276 91.9L275.7 93.7"/>
<path class="j34" d="M240.3 43.2L243.7 47.1M264.4 68.4L267.4 71.3M275.4 95.6L275.1 97.5"/>
<path class="j37" d="M243.7 47.1L253.6 57.7L264.4 68.4M275.1 97.5L274.5 101.2"/>
<path class="j25" d="M275.9 79L277.8 80.7L276 91.9"/>
<path class="j40" d="M274.5 101.2L274.3 103"/>
<path class="j43" d="M274.3 103L274 104.9"/>
<path class="j46" d="M274 104.9L273.5 108.6"/>
<path class="j49" d="M273.5 108.6L272.9 112.4"/>
<path class="j52" d="M272.9 112.4L272.2 117.9"/>
<path class="j55" d="M272.2 117.9L270.3 132.8"/>
<path class="j58" d="M270.3 132.8L269.8 136.6"/>
<path class="j61" d="M269.8 136.6L269.4 140.3"/>
<path class="j31" d="M229.3 29.7L230.5 31.4M235.9 39.3L237.2 41M271.8 77.5L274.8 80.1M276.6 95.5L276.2 97.1"/>
<path class="j28" d="M230.5 31.4L235.9 39.3M274.8 80.1L279.3 84M277 93.8L276.6 95.5"/>
<path class="j34" d="M237.2 41L239.2 43.6M269.9 75.8L271.8 77.5M276.2 97.1L275.5 100.3"/>
<path class="j37" d="M239.2 43.6L242 47.1M266.1 72.3L269.9 75.8M275.5 100.3L275.2 102"/>
<path class="j40" d="M242 47.1L247.3 53.2M258.8 65.3L266.1 72.3M275.2 102L274.8 103.6"/>
<path class="j43" d="M247.3 53.2L258.8 65.3M274.8 103.6L274.1 106.9"/>
<path class="j25" d="M279.3 84L277 93.8"/>
<path class="j46" d="M274.1 106.9L273.8 108.5"/>
<path class="j49" d="M273.8 108.5L273.1 111.8"/>
<path class="j52" d="M273.1 111.8L271.9 118.3"/>
<path class="j55" d="M271.9 118.3L269.6 131.4"/>
<path class="j58" d="M269.6 131.4L268 141.2"/>
<path class="j61" d="M268 141.2L267.3 146.1"/>
<path class="j31" d="M229.3 29.7L231.1 33.6M232.4 36.2L233.6 38.9M289.6 127L281.9 132.3"/>
<path class="j28" d="M231.1 33.6L232.4 36.2"/>
<path class="j34" d="M233.6 38.9L234.3 40.2M288.2 125.2L289.6 127M281.9 132.3L280.3 133.4"/>
<path class="j37" d="M234.3 40.2L235.6 42.8M286.2 122.6L288.2 125.2M280.3 133.4L278.8 134.5"/>
<path class="j40" d="M235.6 42.8L236.9 45.4M285.3 121.3L286.2 122.6M278.8 134.5L277.3 135.5"/>
<path class="j43" d="M236.9 45.4L238.3 48M283.3 118.7L285.3 121.3"/>
<path class="j46" d="M238.3 48L239.6 50.6M281.4 116.1L283.3 118.7M277.3 135.5L275.8 136.6"/>
<path class="j49" d="M239.6 50.6L241 53.3M278.5 112.1L281.4 116.1M275.8 136.6L272.7 138.7"/>
<path class="j52" d="M241 53.3L243.9 58.5M275.7 108.2L278.5 112.1M272.7 138.7L271.2 139.8"/>
<path class="j55" d="M243.9 58.5L251.5 71.6M266.6 95.1L275.7 108.2M271.2 139.8L269.7 140.8"/>
<path class="j58" d="M251.5 71.6L258.8 83.4L266.6 95.1M269.7 140.8L266.7 143"/>
<path class="j61" d="M266.7 143L263.7 145.1"/>
<path class="j31" d="M229.3 29.7L231 33M233.3 37.4L234.4 39.6M285.8 108.9L287.6 110.9L286.7 112.5M282.2 120.6L281.3 122.2"/>
<path class="j28" d="M231 33L233.3 37.4M286.7 112.5L282.2 120.6"/>
<path class="j34" d="M234.4 39.6L235 40.7M283.8 106.7L285.8 108.9M281.3 122.2L280.4 123.8"/>
<path class="j37" d="M235 40.7L236.3 42.9M281.8 104.5L283.8 106.7M280.4 123.8L279.5 125.4"/>
<path class="j40" d="M236.3 42.9L238.2 46.2M280.9 103.4L281.8 104.5M279.5 125.4L278.7 127.1"/>
<path class="j43" d="M238.2 46.2L239.5 48.4M277.9 100.1L280.9 103.4M278.7 127.1L276.9 130.3"/>
<path class="j46" d="M239.5 48.4L241.5 51.7M275.1 96.8L277.9 100.1M276.9 130.3L276 131.9"/>
<path class="j49" d="M241.5 51.7L244.3 56.1M271.3 92.4L275.1 96.8M276 131.9L274.3 135.2"/>
<path class="j52" d="M244.3 56.1L249.4 63.8M265 84.7L271.3 92.4M274.3 135.2L272.6 138.4"/>
<path class="j55" d="M249.4 63.8L256.5 73.7L265 84.7M272.6 138.4L270.9 141.6"/>
<path class="j58" d="M270.9 141.6L269.2 144.9"/>
<path class="j61" d="M269.2 144.9L267.5 148.1"/>
<path class="j31" d="M229.3 29.7L230.3 32M232.3 36.6L233.4 39M289.2 122.4L288.3 123.7M283.5 129.8L281.7 132.3"/>
<path class="j28" d="M230.3 32L232.3 36.6M288.3 123.7L283.5 129.8"/>
<path class="j34" d="M233.4 39L233.9 40.1M287.2 120.1L289.2 122.4M281.7 132.3L280.8 133.5"/>
<path class="j37" d="M233.9 40.1L235 42.4M285.3 117.7L287.2 120.1M280.8 133.5L279.8 134.7"/>
<path class="j40" d="M235 42.4L236.1 44.8M283.3 115.4L285.3 117.7M279.8 134.7L278.9 135.9"/>
<path class="j43" d="M236.1 44.8L237.3 47.1M282.4 114.3L283.3 115.4M278.9 135.9L277.1 138.4"/>
<path class="j46" d="M237.3 47.1L238.5 49.4M279.5 110.8L282.4 114.3M277.1 138.4L276.2 139.6"/>
<path class="j49" d="M238.5 49.4L240.3 52.9M276.8 107.3L279.5 110.8M276.2 139.6L274.4 142.1"/>
<path class="j52" d="M240.3 52.9L243.5 58.7M273.1 102.7L276.8 107.3M274.4 142.1L271.8 145.8"/>
<path class="j55" d="M243.5 58.7L249.7 69.1L257.2 80.7L264.4 91.1L273.1 102.7M271.8 145.8L270.1 148.2"/>
<path class="j58" d="M270.1 148.2L268.4 150.7"/>
<path class="j61" d="M268.4 150.7L266.7 153.1"/>
<path class="j31" d="M229.3 29.7L230.5 31.4M236 39L238 41.5M269.4 73.6L273.4 76.9M282.4 141.4L281.4 142.4"/>
<path class="j28" d="M230.5 31.4L236 39M273.4 76.9L277.4 80.3M283.4 140.4L282.4 141.4"/>
<path class="j34" d="M238 41.5L240.1 44M266.6 71L269.4 73.6M281.4 142.4L280.4 143.4"/>
<path class="j37" d="M240.1 44L243.7 48.3M262.9 67.7L266.6 71M280.4 143.4L279.3 144.4"/>
<path class="j40" d="M243.7 48.3L252.4 57.5L262.9 67.7M279.3 144.4L278.3 145.4"/>
<path class="j25" d="M277.4 80.3L277.7 80.6L279.8 94.8L282.7 109L286 121.9L289.8 134.4M286.6 137.4L283.4 140.4"/>
<path class="j22" d="M289.8 134.4L286.6 137.4"/>
<path class="j43" d="M278.3 145.4L276.3 147.4"/>
<path class="j46" d="M276.3 147.4L275.3 148.4"/>
<path class="j49" d="M275.3 148.4L273.4 150.4"/>
<path class="j52" d="M273.4 150.4L271.4 152.4"/>
<path class="j55" d="M271.4 152.4L268.6 155.4"/>
<path class="j58" d="M268.6 155.4L266.7 157.4"/>
<path class="j61" d="M266.7 157.4L264.8 159.4"/>
<path class="j31" d="M229.3 29.7L230.6 31.3M237.9 40.4L240.1 42.8M263.7 65.8L267.6 69.1M283.1 137.8L282 138.9"/>
<path class="j28" d="M230.6 31.3L237.9 40.4M267.6 69.1L272.6 73.2M280.3 101.6L283.5 112.9"/>
<path class="j34" d="M240.1 42.8L243.8 46.9M260 62.6L263.7 65.8M282 138.9L280.9 140"/>
<path class="j37" d="M243.8 46.9L251.2 54.3L260 62.6M280.9 140L278.7 142.3"/>
<path class="j25" d="M272.6 73.2L275 75.2L277.1 87.7L280.3 101.6M283.5 112.9L289.7 131.1L283.1 137.8"/>
<path class="j40" d="M278.7 142.3L277.6 143.4"/>
<path class="j43" d="M277.6 143.4L276.6 144.5"/>
<path class="j46" d="M276.6 144.5L275.5 145.7"/>
<path class="j49" d="M275.5 145.7L273.4 147.9"/>
<path class="j52" d="M273.4 147.9L271.3 150.1"/>
<path class="j55" d="M271.3 150.1L270.3 151.3"/>
<path class="j58" d="M270.3 151.3L269.3 152.4"/>
<path class="j61" d="M269.3 152.4L267.2 154.6"/>
<path class="j31" d="M229.3 29.7L230.9 33.2M232.5 36.6L233.6 39M288.3 118.9L289 119.7L287.9 122.4M283.4 134.8L283 136.2M267.9 199.3L267.4 203.4M265.6 194.9L265.5 193.7"/>
<path class="j28" d="M230.9 33.2L232.5 36.6M287.9 122.4L283.4 134.8M267.4 203.4L267.3 204.8L266.4 199.8M266 197.4L265.6 194.9"/>
<path class="j34" d="M233.6 39L234.7 41.3M286.3 116.6L288.3 118.9M283 136.2L282.1 138.9M268.5 195.2L267.9 199.3M265.5 193.7L265.3 192.4"/>
<path class="j37" d="M234.7 41.3L235.3 42.4M284.3 114.2L286.3 116.6M282.1 138.9L280.7 143M268.9 192.5L268.5 195.2M265.3 192.4L265 189.9"/>
<path class="j40" d="M235.3 42.4L236.5 44.7M283.3 113.1L284.3 114.2M280.7 143L279.5 147.1M269.6 188.3L268.9 192.5M265 189.9L264.9 188.7"/>
<path class="j43" d="M236.5 44.7L237.7 47.1M281.4 110.8L283.3 113.1M279.5 147.1L277.4 154M271.2 180.1L269.6 188.3M264.9 188.7L264.6 186.2"/>
<path class="j46" d="M237.7 47.1L239.6 50.5M278.6 107.3L281.4 110.8M277.4 154L273.9 167.7L271.2 180.1M264.6 186.2L264.5 185"/>
<path class="j49" d="M239.6 50.5L241.5 54M275.8 103.8L278.6 107.3M264.5 185L264.2 181.3"/>
<path class="j52" d="M241.5 54L244.2 58.6M272.1 99.2L275.8 103.8M264.2 181.3L264 178.8"/>
<path class="j55" d="M244.2 58.6L249.9 67.9L256.8 78.3L264.2 88.8L272.1 99.2M264 178.8L263.7 172.6"/>
<path class="j25" d="M266.4 199.8L266 197.4"/>
<path class="j58" d="M263.7 172.6L263.6 170.2"/>
<path class="j61" d="M263.6 170.2L263.6 167.7"/>
<path class="j31" d="M229.3 29.7L231.6 32.8M237.3 40L238.9 42M272.4 78L275.7 81.1M282.2 112.4L285.4 133.8M280.7 155.9L279.4 156.8"/>
<path class="j28" d="M231.6 32.8L237.3 40M275.7 81.1L279.7 84.9L279.8 86.4M281.7 107.8L282.2 112.4M285.4 133.8L287.1 142.9M282 155L280.7 155.9"/>
<path class="j34" d="M238.9 42L241.5 45.1M269.3 74.9L272.4 78M279.4 156.8L278.1 157.6"/>
<path class="j37" d="M241.5 45.1L245.9 50.3M265.1 70.8L269.3 74.9M278.1 157.6L276.8 158.5"/>
<path class="j40" d="M245.9 50.3L255.2 60.5L265.1 70.8M276.8 158.5L275.5 159.4"/>
<path class="j25" d="M279.8 86.4L281.7 107.8M287.1 142.9L288.6 150.6L282 155"/>
<path class="j43" d="M275.5 159.4L274.2 160.3"/>
<path class="j46" d="M274.2 160.3L272.9 161.2"/>
<path class="j49" d="M272.9 161.2L270.3 163"/>
<path class="j52" d="M270.3 163L267.8 164.7"/>
<path class="j55" d="M267.8 164.7L266.6 165.6"/>
<path class="j58" d="M266.6 165.6L265.3 166.5"/>
<path class="j61" d="M265.3 166.5L262.8 168.3"/>
<path class="j31" d="M229.3 29.7L229.8 30.9M232.2 36.6L232.8 37.8M272.1 77.3L274.8 79.2M276.7 94.2L276.5 96.5M283.6 161.2L284.7 164.7M277.3 169.9L275.7 170.5"/>
<path class="j28" d="M229.8 30.9L232.2 36.6M274.8 79.2L278.1 81.5L278 82.6M276.8 93L276.7 94.2M284.7 164.7L285.3 166.7L280.5 168.6M278.9 169.3L277.3 169.9"/>
<path class="j34" d="M232.8 37.8L233.8 39.7M270.3 76.1L272.1 77.3M276.5 96.5L276.4 98.8M283 158.9L283.6 161.2M275.7 170.5L274.2 171.2"/>
<path class="j37" d="M233.8 39.7L235 41.6M268.6 74.8L270.3 76.1M276.4 98.8L276.3 101.1M282.4 156.6L283 158.9M274.2 171.2L272.6 171.8"/>
<path class="j40" d="M235 41.6L237 44.7M265.2 72.3L268.6 74.8M276.3 101.1L276.2 104.6M281.5 153.1L282.4 156.6M272.6 171.8L271 172.5"/>
<path class="j43" d="M237 44.7L239.4 47.9M261.1 69.2L265.2 72.3M276.2 104.6L276.1 109.2M280.4 148.5L281.5 153.1"/>
<path class="j46" d="M239.4 47.9L244.7 54.1M253.7 62.9L261.1 69.2M276.1 109.2L276.2 115M279.3 142.7L280.4 148.5M271 172.5L269.4 173.1"/>
<path class="j49" d="M244.7 54.1L253.7 62.9M276.2 115L277.2 128.8L279.3 142.7"/>
<path class="j25" d="M278 82.6L276.8 93M280.5 168.6L278.9 169.3"/>
<path class="j52" d="M269.4 173.1L267.9 173.8"/>
<path class="j58" d="M267.9 173.8L266.3 174.4"/>
<path class="j61" d="M266.3 174.4L264.8 175.1"/>
<path class="j31" d="M229.3 29.7L231.2 33.3M233.1 37L234.4 39.4M288.3 116L288.5 116.3L286.6 119.5M283.7 124.4L281.8 127.6"/>
<path class="j28" d="M231.2 33.3L233.1 37M286.6 119.5L283.7 124.4"/>
<path class="j34" d="M234.4 39.4L235.1 40.6M286.2 113.6L288.3 116M281.8 127.6L280.9 129.2"/>
<path class="j37" d="M235.1 40.6L236.4 43.1M284.2 111.2L286.2 113.6M280.9 129.2L280 130.9"/>
<path class="j40" d="M236.4 43.1L237.8 45.5M282.2 108.7L284.2 111.2M280 130.9L279 132.5"/>
<path class="j43" d="M237.8 45.5L239.2 47.9M280.2 106.3L282.2 108.7M279 132.5L278.1 134.1"/>
<path class="j46" d="M239.2 47.9L241.4 51.6M278.3 103.9L280.2 106.3M278.1 134.1L276.2 137.3"/>
<path class="j49" d="M241.4 51.6L243.6 55.2M274.4 99L278.3 103.9M276.2 137.3L275.3 138.9"/>
<path class="j52" d="M243.6 55.2L247.4 61.3M269.7 92.9L274.4 99M275.3 138.9L272.5 143.8"/>
<path class="j55" d="M247.4 61.3L258 77.1L269.7 92.9M272.5 143.8L268.9 150.3"/>
<path class="j58" d="M268.9 150.3L261.8 163.2"/>
<path class="j61" d="M261.8 163.2L259.2 168"/>
<path class="j31" d="M229.3 29.7L229.8 31.1M231.5 36.2L232.1 37.6M280 91.5L282.8 93.7M281.5 112.3L281.5 113.6M283 158.3L283.7 163.5M276.6 172.3L275.3 172.8"/>
<path class="j28" d="M229.8 31.1L231.5 36.2M282.8 93.7L283.2 93.9L282.7 97.8M281.8 108.4L281.5 112.3M283.7 163.5L284.5 168.8M277.9 171.8L276.6 172.3"/>
<path class="j34" d="M232.1 37.6L232.7 39M278.1 90.1L280 91.5M281.5 113.6L281.2 118.9M282.7 155.6L283 158.3M275.3 172.8L272.7 173.8"/>
<path class="j37" d="M232.7 39L233.7 41.2M276.3 88.6L278.1 90.1M281.2 118.9L281.1 124.1M282.1 149.1L282.7 155.6M272.7 173.8L271.4 174.3"/>
<path class="j40" d="M233.7 41.2L234.8 43.4M274.5 87.2L276.3 88.6M281.1 124.1L281.3 135.9L282.1 149.1M271.4 174.3L270.2 174.8"/>
<path class="j43" d="M234.8 43.4L236 45.5M271.8 85.1L274.5 87.2M270.2 174.8L268.9 175.3"/>
<path class="j46" d="M236 45.5L237.7 48.4M268.3 82.2L271.8 85.1"/>
<path class="j49" d="M237.7 48.4L240.5 52.7M264.2 78.6L268.3 82.2M268.9 175.3L267.6 175.8"/>
<path class="j52" d="M240.5 52.7L247.2 61.3M253.7 68.5L264.2 78.6"/>
<path class="j55" d="M247.2 61.3L253.7 68.5M267.6 175.8L266.4 176.3"/>
<path class="j25" d="M282.7 97.8L281.8 108.4M284.5 168.8L284.5 169.2L277.9 171.8"/>
<path class="j58" d="M266.4 176.3L265.1 176.8"/>
<path class="j61" d="M265.1 176.8L263.9 177.3"/>
<path class="j31" d="M229.3 29.7L231.1 33.2M232.9 36.7L234.1 39M287.5 113.5L288.2 114.4L287.2 117.5M283.4 129.6L282.9 131.1M267.5 200.9L266.9 205.3M264.5 196.7L264.2 195.5"/>
<path class="j28" d="M231.1 33.2L232.9 36.7M287.2 117.5L283.4 129.6M266.9 205.3L264.5 196.7"/>
<path class="j34" d="M234.1 39L235.4 41.3M285.4 111.2L287.5 113.5M282.9 131.1L282 134.1M268.2 196.3L267.5 200.9M264.2 195.5L263.9 194.3"/>
<path class="j37" d="M235.4 41.3L236.7 43.7M283.4 108.9L285.4 111.2M282 134.1L280.7 138.7M268.6 193.3L268.2 196.3M263.9 194.3L263.6 193"/>
<path class="j40" d="M236.7 43.7L238 46M281.4 106.6L283.4 108.9M280.7 138.7L279.9 141.7M269.1 190.3L268.6 193.3M263.6 193L263 190.6"/>
<path class="j43" d="M238 46L239.4 48.3M279.5 104.2L281.4 106.6M279.9 141.7L278.3 147.8M270.4 182.7L269.1 190.3M263 190.6L262.7 189.3"/>
<path class="j46" d="M239.4 48.3L241.4 51.8M276.6 100.7L279.5 104.2M278.3 147.8L275.6 158.4M272.8 170.6L270.4 182.7M262.7 189.3L262.4 188.1"/>
<path class="j49" d="M241.4 51.8L244.3 56.5M273.7 97.2L276.6 100.7M275.6 158.4L272.8 170.6M262.4 188.1L262.2 186.9"/>
<path class="j52" d="M244.3 56.5L248.8 63.5M268.2 90.3L273.7 97.2M262.2 186.9L261.9 185.7"/>
<path class="j55" d="M248.8 63.5L257.7 76.3L268.2 90.3M261.9 185.7L261.7 184.4"/>
<path class="j58" d="M261.7 184.4L261.4 183.2"/>
<path class="j61" d="M261.4 183.2L261.2 182"/>
<path class="j31" d="M229.3 29.7L230.3 32.5M231.8 36.3L232.6 38.2M286.9 110.6L287.7 111.4L286.6 113.5M282.8 121.1L282.3 122.2M265.7 204.6L265.9 206.7L265.5 205.8M262.7 199.8L262.3 199"/>
<path class="j28" d="M230.3 32.5L231.8 36.3M286.6 113.5L282.8 121.1M265.5 205.8L262.7 199.8"/>
<path class="j34" d="M232.6 38.2L233 39.1M284.9 108.7L286.9 110.6M282.3 122.2L281.3 124.4M265.6 202.5L265.7 204.6M262.3 199L262 198.1"/>
<path class="j37" d="M233 39.1L233.8 41M283 106.8L284.9 108.7M281.3 124.4L280.4 126.5M265.5 200.3L265.6 202.5M262 198.1L261.3 196.4"/>
<path class="j40" d="M233.8 41L235.1 43.8M281.1 104.9L283 106.8M280.4 126.5L279.4 128.7M265.4 198.1L265.5 200.3M261.3 196.4L261 195.5"/>
<path class="j43" d="M235.1 43.8L236 45.7M279.3 103L281.1 104.9M279.4 128.7L278.5 130.9M265.4 196L265.4 198.1M261 195.5L260.3 193.8"/>
<path class="j46" d="M236 45.7L237.5 48.5M277.4 101.2L279.3 103M278.5 130.9L277.7 133M265.4 192.7L265.4 196M260.3 193.8L259.8 192.1"/>
<path class="j49" d="M237.5 48.5L239 51.3M273.8 97.4L277.4 101.2M277.7 133L276 137.4M265.4 189.4L265.4 192.7M259.8 192.1L259.2 190.4"/>
<path class="j52" d="M239 51.3L241.7 56M270.3 93.6L273.8 97.4M276 137.4L274.4 141.7M265.8 182.9L265.4 189.4M259.2 190.4L258.7 188.7"/>
<path class="j55" d="M241.7 56L247.7 65.4L254.5 74.8L262 84.2L270.3 93.6M274.4 141.7L271.1 152.6L268.7 162.3L266.8 173.2L265.8 182.9M258.7 188.7L257.3 183.5"/>
<path class="j58" d="M257.3 183.5L256.6 180.1"/>
<path class="j61" d="M256.6 180.1L256.1 177.5"/>
<path class="j31" d="M229.3 29.7L230.6 31.9M234.5 38.4L235.9 40.6M281.9 98.2L285 101.5M281.6 116.1L281.2 117.6M265.5 204.8L265.3 207.5L265 205.9M263.6 197.9L263.3 196.3"/>
<path class="j28" d="M230.6 31.9L234.5 38.4M285 101.5L285.6 102.1L284.2 106.7M282.5 113L281.6 116.1M265 205.9L263.6 197.9"/>
<path class="j34" d="M235.9 40.6L237.3 42.7M279.9 96L281.9 98.2M281.2 117.6L280.4 120.7M265.8 201.7L265.5 204.8M263.3 196.3L263.1 194.7"/>
<path class="j37" d="M237.3 42.7L238.7 44.9M277.9 93.9L279.9 96M280.4 120.7L280 122.3M266.1 198.5L265.8 201.7M263.1 194.7L262.8 193.1"/>
<path class="j40" d="M238.7 44.9L240.9 48.2M275.8 91.7L277.9 93.9M280 122.3L279.2 125.4M266.3 197L266.1 198.5M262.8 193.1L262.6 191.5"/>
<path class="j43" d="M240.9 48.2L243.9 52.5M271.9 87.3L275.8 91.7M279.2 125.4L278.4 128.5M266.8 192.3L266.3 197"/>
<path class="j46" d="M243.9 52.5L247.9 58M267.1 81.9L271.9 87.3M278.4 128.5L277.2 133.2M267.3 187.6L266.8 192.3M262.6 191.5L262.3 189.9"/>
<path class="j49" d="M247.9 58L257.1 69.9L267.1 81.9M277.2 133.2L275.8 139.4M268.2 181.4L267.3 187.6"/>
<path class="j25" d="M284.2 106.7L282.5 113"/>
<path class="j52" d="M275.8 139.4L273.1 151.9M270.3 167.4L268.2 181.4M262.3 189.9L262.1 188.3"/>
<path class="j55" d="M273.1 151.9L270.3 167.4M262.1 188.3L261.9 186.7"/>
<path class="j61" d="M261.9 186.7L261.6 185.1"/>
<path class="j31" d="M229.3 29.7L230 32M231.2 35.9L231.8 37.4M284.1 99.8L285.3 100.8L284.8 101.8M281.3 110.9L280.9 111.9M276 186.1L276.7 189L275.3 189M269.8 188.6L268.5 188.5"/>
<path class="j28" d="M230 32L231.2 35.9M284.8 101.8L281.3 110.9M275.3 189L269.8 188.6"/>
<path class="j34" d="M231.8 37.4L232.1 38.2M281.2 97.5L284.1 99.8M280.9 111.9L280.2 114M275.6 184.1L276 186.1M268.5 188.5L267.1 188.5"/>
<path class="j37" d="M232.1 38.2L233 40.5M279.3 96L281.2 97.5M280.2 114L279.6 116M275.2 182L275.6 184.1M267.1 188.5L265.8 188.4"/>
<path class="j40" d="M233 40.5L233.7 42M278.4 95.2L279.3 96M279.6 116L278.9 118M274.8 180L275.2 182M265.8 188.4L264.5 188.3"/>
<path class="j43" d="M233.7 42L234.8 44.3M275.7 92.9L278.4 95.2M278.9 118L278 121.1M274.5 178L274.8 180"/>
<path class="j46" d="M234.8 44.3L235.9 46.6M273 90.6L275.7 92.9M278 121.1L277.2 124.1M274 174.9L274.5 178M264.5 188.3L263.1 188.2"/>
<path class="j49" d="M235.9 46.6L237.6 49.7M270.4 88.3L273 90.6M277.2 124.1L276.5 127.2M273.5 170.8L274 174.9"/>
<path class="j52" d="M237.6 49.7L240.4 54.4M265.4 83.6L270.4 88.3M276.5 127.2L275.2 133.3M273 163.7L273.5 170.8M263.1 188.2L261.8 188.1"/>
<path class="j55" d="M240.4 54.4L245.2 61.3L251.4 69L257.7 75.9L265.4 83.6M275.2 133.3L273.9 141.4L273.2 148.5L272.9 156.6L273 163.7"/>
<path class="j58" d="M261.8 188.1L260.5 188"/>
<path class="j61" d="M260.5 188L259.2 188"/>
<path class="j31" d="M229.3 29.7L229.7 31M231.8 36.3L232.4 37.6M275.8 83.3L278.5 85.3M277.8 98.4L277.6 99.6M279.4 178.9L279.9 181.3M271.8 183.5L270.4 183.8"/>
<path class="j28" d="M229.7 31L231.8 36.3M278.5 85.3L280.4 86.6L279.8 88.9M278 97.2L277.8 98.4M279.9 181.3L280 181.8L271.8 183.5"/>
<path class="j34" d="M232.4 37.6L233.4 39.6M273.9 82L275.8 83.3M277.6 99.6L277.2 101.9M278.6 175.4L279.4 178.9M270.4 183.8L269 184.1"/>
<path class="j37" d="M233.4 39.6L234.4 41.6M272.1 80.6L273.9 82M277.2 101.9L276.8 104.3M278.3 174.2L278.6 175.4M269 184.1L267.7 184.4"/>
<path class="j40" d="M234.4 41.6L235.6 43.6M269.5 78.6L272.1 80.6M276.8 104.3L276.4 106.7M277.9 171.8L278.3 174.2M267.7 184.4L266.4 184.7"/>
<path class="j43" d="M235.6 43.6L237.3 46.2M266.1 76L269.5 78.6M276.4 106.7L275.9 110.2M277.2 168.3L277.9 171.8M266.4 184.7L263.7 185.3"/>
<path class="j46" d="M237.3 46.2L240.1 50.2M262.1 72.7L266.1 76M275.9 110.2L275.5 113.8M276.7 164.7L277.2 168.3M263.7 185.3L262.4 185.5"/>
<path class="j49" d="M240.1 50.2L246.1 57.5M252.5 64.1L262.1 72.7M275.5 113.8L275.1 118.5M275.8 158.8L276.7 164.7M262.4 185.5L261.1 185.8"/>
<path class="j52" d="M246.1 57.5L252.5 64.1M275.1 118.5L274.5 128M274.8 148.1L275.8 158.8M261.1 185.8L257.2 186.7"/>
<path class="j25" d="M279.8 88.9L278 97.2"/>
<path class="j55" d="M274.5 128L274.4 137.5L274.8 148.1M257.2 186.7L254.6 187.3"/>
<path class="j58" d="M254.6 187.3L252.1 187.8"/>
<path class="j61" d="M252.1 187.8L249.6 188.4"/>
<path class="j31" d="M229.3 29.7L229.8 31.4M231.5 36.4L231.8 37.2M285.3 105.1L286.7 106.2M282.9 120.6L282.4 123M278 178L278.2 181.6M268.6 188.9L266.9 189.5"/>
<path class="j28" d="M229.8 31.4L231.5 36.4M286.7 106.2L285 112.2M283.5 118.2L282.9 120.6M278.2 181.6L278.5 185.3M270.2 188.3L268.6 188.9"/>
<path class="j34" d="M231.8 37.2L232.5 38.9M282.4 102.6L285.3 105.1M282.4 123L281.9 125.4M277.8 175.6L278 178M266.9 189.5L265.3 190.1"/>
<path class="j37" d="M232.5 38.9L233.5 41.4M281.5 101.7L282.4 102.6M281.9 125.4L281.2 129M277.7 172L277.8 175.6"/>
<path class="j40" d="M233.5 41.4L234.3 43.1M279.6 100L281.5 101.7M281.2 129L280.3 133.7M277.6 167.2L277.7 172"/>
<path class="j43" d="M234.3 43.1L235 44.8M277.8 98.4L279.6 100M280.3 133.7L279.1 142.1M277.9 156.5L277.6 167.2M265.3 190.1L263.6 190.7"/>
<path class="j46" d="M235 44.8L236.3 47.3M275.1 95.9L277.8 98.4M279.1 142.1L277.9 156.5"/>
<path class="j49" d="M236.3 47.3L238 50.6M271.6 92.5L275.1 95.9M263.6 190.7L262 191.3"/>
<path class="j52" d="M238 50.6L241 55.7M267.3 88.3L271.6 92.5"/>
<path class="j55" d="M241 55.7L245.9 63.2L252.3 71.6L259.4 79.9L267.3 88.3M262 191.3L260.4 191.9"/>
<path class="j25" d="M285 112.2L283.5 118.2M278.5 185.3L270.2 188.3"/>
<path class="j58" d="M260.4 191.9L258.8 192.5"/>
<path class="j31" d="M229.3 29.7L230.1 31.3M232.8 36.9L233.7 38.5M277.8 87.9L280.6 90.3M279 101.9L278.3 104.2M274.5 190.4L274.9 192.4L273.4 192.4M267.3 192.4L265.8 192.4"/>
<path class="j28" d="M230.1 31.3L232.8 36.9M280.6 90.3L282.4 91.7L281.2 95.1M279.3 100.8L279 101.9M273.4 192.4L267.3 192.4"/>
<path class="j34" d="M233.7 38.5L235.1 40.9M275.9 86.3L277.8 87.9M278.3 104.2L278 105.3M274 188.1L274.5 190.4M265.8 192.4L264.3 192.4"/>
<path class="j37" d="M235.1 40.9L236.6 43.3M274 84.7L275.9 86.3M278 105.3L277.3 107.6M273.6 185.8L274 188.1M264.3 192.4L262.8 192.4"/>
<path class="j40" d="M236.6 43.3L238.1 45.6M271.3 82.3L274 84.7M277.3 107.6L276.7 109.9M273.2 183.6L273.6 185.8M262.8 192.4L261.4 192.4"/>
<path class="j43" d="M238.1 45.6L240.3 48.8M267.7 79.1L271.3 82.3M276.7 109.9L276.2 112.1M272.9 181.3L273.2 183.6M261.4 192.4L259.9 192.4"/>
<path class="j46" d="M240.3 48.8L243.8 53.6M263.5 75.1L267.7 79.1M276.2 112.1L275.6 114.4M272.5 179L272.9 181.3M259.9 192.4L258.4 192.4"/>
<path class="j49" d="M243.8 53.6L252.6 64L263.5 75.1M275.6 114.4L274.6 118.9M271.9 174.5L272.5 179M258.4 192.4L255.5 192.5"/>
<path class="j25" d="M281.2 95.1L279.3 100.8"/>
<path class="j52" d="M274.6 118.9L273.7 123.5M271.4 168.8L271.9 174.5M255.5 192.5L252.6 192.5"/>
<path class="j55" d="M273.7 123.5L272 134.8L271 146.2L270.8 157.5L271.4 168.8M252.6 192.5L251.1 192.5"/>
<path class="j58" d="M251.1 192.5L249.7 192.5"/>
<path class="j61" d="M249.7 192.5L246.8 192.5"/>
<path class="j31" d="M229.3 29.7L231.3 32.8M234.8 38L236.2 40.1M279.8 91.1L282.9 94.3M282 113L281.9 115.8M283.1 159.3L283.6 165"/>
<path class="j28" d="M231.3 32.8L234.8 38M282.9 94.3L283.4 94.8L282.9 100.4M282.2 110.2L282 113M283.6 165L284.2 170.3L283.4 171.4M270.2 190.9L261.3 205.7"/>
<path class="j34" d="M236.2 40.1L237.6 42.2M276.7 88L279.8 91.1M281.9 115.8L281.8 120M282.7 155.1L283.1 159.3"/>
<path class="j37" d="M237.6 42.2L239.9 45.3M274.6 85.9L276.7 88M281.8 120L281.7 127M282.2 148.1L282.7 155.1"/>
<path class="j40" d="M239.9 45.3L243 49.5M271.6 82.8L274.6 85.9M281.7 127L282.2 148.1"/>
<path class="j43" d="M243 49.5L246.2 53.6M266.7 77.6L271.6 82.8"/>
<path class="j46" d="M246.2 53.6L255.6 65.1L266.7 77.6"/>
<path class="j25" d="M282.9 100.4L282.2 110.2M283.4 171.4L276.2 181.7L270.2 190.9"/>
<path class="j31" d="M229.3 29.7L229.8 31.4M233.2 41.8L233.5 42.7M282.2 106.7L285.1 109.3M280 129.2L279.1 131.5"/>
<path class="j28" d="M229.8 31.4L231.3 36.6M232.5 40.1L233.2 41.8M285.1 109.3L287.8 111.7L286.7 114M280.5 128L280 129.2"/>
<path class="j25" d="M231.3 36.6L232.5 40.1M286.7 114L280.5 128"/>
<path class="j34" d="M233.5 42.7L234.2 44.4M280.4 104.9L282.2 106.7M279.1 131.5L278.6 132.7"/>
<path class="j37" d="M234.2 44.4L235 46.1M278.5 103.2L280.4 104.9M278.6 132.7L277.8 135"/>
<path class="j40" d="M235 46.1L235.8 47.9M276.7 101.5L278.5 103.2M277.8 135L276.9 137.4"/>
<path class="j43" d="M235.8 47.9L236.6 49.6M274.9 99.8L276.7 101.5M276.9 137.4L275.7 140.9"/>
<path class="j46" d="M236.6 49.6L237.5 51.3M273.2 98L274.9 99.8M275.7 140.9L274.9 143.2"/>
<path class="j49" d="M237.5 51.3L238.8 53.9M270.6 95.4L273.2 98M274.9 143.2L273.4 147.9"/>
<path class="j52" d="M238.8 53.9L240.7 57.4M267.3 92L270.6 95.4M273.4 147.9L271.1 156.1M267.7 171.2L267.5 172.4"/>
<path class="j55" d="M240.7 57.4L246.7 66.9M258.7 82.5L267.3 92M271.1 156.1L267.7 171.2"/>
<path class="j58" d="M246.7 66.9L252.4 74.7L258.7 82.5"/>
<path class="j31" d="M229.3 29.7L230.1 31.6M236.2 43.8L237.3 45.7M278.6 97.5L281.5 100.3"/>
<path class="j28" d="M230.1 31.6L232.8 37.2M235.2 41.9L236.2 43.8M281.5 100.3L286.4 105"/>
<path class="j25" d="M232.8 37.2L235.2 41.9"/>
<path class="j34" d="M237.3 45.7L238.4 47.6M275.8 94.6L278.6 97.5"/>
<path class="j37" d="M238.4 47.6L239.5 49.5M274 92.8L275.8 94.6"/>
<path class="j40" d="M239.5 49.5L241.3 52.3M272.1 90.9L274 92.8"/>
<path class="j43" d="M241.3 52.3L243.1 55.1M269.5 88.1L272.1 90.9"/>
<path class="j46" d="M243.1 55.1L245.6 58.9M266 84.3L269.5 88.1"/>
<path class="j49" d="M245.6 58.9L249.7 64.5M260.2 77.7L266 84.3"/>
<path class="j52" d="M249.7 64.5L260.2 77.7"/>
<path class="j31" d="M229.3 29.7L230.7 32.9M235.7 43.4L236.2 44.5M283.1 108.8L286.1 112M280.4 133.5L279.5 136.1"/>
<path class="j28" d="M230.7 32.9L235.7 43.4M286.1 112L288.2 114.3L287.1 116.9M280.9 132.2L280.4 133.5"/>
<path class="j34" d="M236.2 44.5L237.4 46.6M280.2 105.7L283.1 108.8M279.5 136.1L278.6 138.6"/>
<path class="j37" d="M237.4 46.6L238.5 48.7M278.4 103.6L280.2 105.7M278.6 138.6L277.7 141.2"/>
<path class="j40" d="M238.5 48.7L239.7 50.8M276.5 101.5L278.4 103.6M277.7 141.2L276.9 143.7"/>
<path class="j43" d="M239.7 50.8L240.9 52.9M274.7 99.3L276.5 101.5M276.9 143.7L275.6 147.6"/>
<path class="j46" d="M240.9 52.9L242.8 56.1M272.8 97.2L274.7 99.3M275.6 147.6L274.1 152.7"/>
<path class="j49" d="M242.8 56.1L244.7 59.2M270.2 94.1L272.8 97.2M274.1 152.7L270.3 166.7"/>
<path class="j52" d="M244.7 59.2L247.4 63.5M265.8 88.8L270.2 94.1"/>
<path class="j55" d="M247.4 63.5L256.1 76.1L265.8 88.8"/>
<path class="j25" d="M287.1 116.9L280.9 132.2"/>
<path class="j31" d="M229.3 29.7L230 31.6M234.9 42.8L235.8 44.7M280.3 102.6L284.2 106.4M280 128.5L279.5 129.8"/>
<path class="j28" d="M230 31.6L232.7 38.1M234 40.9L234.9 42.8M284.2 106.4L287.3 109.4M280.4 127.2L280 128.5"/>
<path class="j25" d="M232.7 38.1L234 40.9M287.3 109.4L280.4 127.2"/>
<path class="j34" d="M235.8 44.7L236.3 45.6M278.5 100.8L280.3 102.6M279.5 129.8L278.7 132.3"/>
<path class="j37" d="M236.3 45.6L237.8 48.4M276.6 98.9L278.5 100.8M278.7 132.3L277.8 134.9"/>
<path class="j40" d="M237.8 48.4L238.8 50.3M274.8 97L276.6 98.9M277.8 134.9L277 137.4"/>
<path class="j43" d="M238.8 50.3L239.9 52.1M273 95.2L274.8 97M277 137.4L275.8 141.2"/>
<path class="j46" d="M239.9 52.1L241.5 54.9M270.4 92.4L273 95.2M275.8 141.2L274.7 145.1"/>
<path class="j49" d="M241.5 54.9L243.3 57.8M267.8 89.5L270.4 92.4M274.7 145.1L273.3 150.1"/>
<path class="j52" d="M243.3 57.8L247 63.4M262.9 83.9L267.8 89.5M273.3 150.1L272.7 152.7"/>
<path class="j55" d="M247 63.4L254.5 73.6L262.9 83.9"/>
<path class="j31" d="M229.3 29.7L230.5 32.1M236.5 44L237.8 46.4M283.4 111.9L286.4 115.4M279.6 146.3L278.8 149.1"/>
<path class="j28" d="M230.5 32.1L234.6 40.4M235.9 42.8L236.5 44M286.4 115.4L288.8 118.3L288.3 119.7M280.4 143.5L279.6 146.3"/>
<path class="j25" d="M234.6 40.4L235.9 42.8M288.3 119.7L283.9 132.3L280.4 143.5"/>
<path class="j34" d="M237.8 46.4L239.2 48.7M280.5 108.3L283.4 111.9M278.8 149.1L277.7 153.3"/>
<path class="j37" d="M239.2 48.7L239.8 49.9M278.5 105.9L280.5 108.3M277.7 153.3L276.6 157.5"/>
<path class="j40" d="M239.8 49.9L241.2 52.3M277.6 104.7L278.5 105.9"/>
<path class="j43" d="M241.2 52.3L243.3 55.9M275.7 102.3L277.6 104.7"/>
<path class="j46" d="M243.3 55.9L244.7 58.3M272.9 98.8L275.7 102.3"/>
<path class="j49" d="M244.7 58.3L246.9 61.8M270.1 95.2L272.9 98.8"/>
<path class="j52" d="M246.9 61.8L251.5 69M264.8 88L270.1 95.2"/>
<path class="j55" d="M251.5 69L264.8 88"/>
<path class="j31" d="M229.3 29.7L230.3 32.4M234.6 42.4L235.5 44.2M281.2 102.2L284 105M279.8 124.5L279.4 125.7"/>
<path class="j28" d="M230.3 32.4L234.6 42.4M284 105L287 107.7L285.9 110.1M280.3 123.3L279.8 124.5"/>
<path class="j34" d="M235.5 44.2L236 45.1M278.4 99.5L281.2 102.2M279.4 125.7L278.5 128.1"/>
<path class="j37" d="M236 45.1L236.9 46.9M276.5 97.7L278.4 99.5M278.5 128.1L278 129.3"/>
<path class="j40" d="M236.9 46.9L238.4 49.6M274.7 95.9L276.5 97.7M278 129.3L277.2 131.7"/>
<path class="j43" d="M238.4 49.6L239.5 51.5M272.9 94.1L274.7 95.9M277.2 131.7L276.3 134.1"/>
<path class="j46" d="M239.5 51.5L241.1 54.2M270.3 91.4L272.9 94.1M276.3 134.1L275.1 137.7"/>
<path class="j49" d="M241.1 54.2L242.8 56.9M267.7 88.6L270.3 91.4M275.1 137.7L274.4 140.1"/>
<path class="j52" d="M242.8 56.9L245.7 61.4M263.6 84.1L267.7 88.6M274.4 140.1L272.9 144.9"/>
<path class="j55" d="M245.7 61.4L253.7 72.3L263.6 84.1M272.9 144.9L269.2 159.3M268.5 162.9L267.5 167.7"/>
<path class="j25" d="M285.9 110.1L280.3 123.3"/>
<path class="j58" d="M269.2 159.3L268.5 162.9"/>
<path class="j31" d="M229.3 29.7L230.2 31.7M235.8 43.6L236.9 45.6M280.8 103.1L283.7 106.1M280 129.4L279.6 130.6"/>
<path class="j28" d="M230.2 31.7L233.3 38.6M234.8 41.6L235.8 43.6M283.7 106.1L287.4 109.9L286.9 111.1M280.4 128.2L280 129.4"/>
<path class="j25" d="M233.3 38.6L234.8 41.6M286.9 111.1L280.4 128.2"/>
<path class="j34" d="M236.9 45.6L237.4 46.6M277.9 100.1L280.8 103.1M279.6 130.6L278.8 133.1"/>
<path class="j37" d="M237.4 46.6L239.1 49.5M276.1 98.1L277.9 100.1M278.8 133.1L278.1 135.5"/>
<path class="j40" d="M239.1 49.5L240.3 51.5M275.1 97.1L276.1 98.1M278.1 135.5L277 139.2"/>
<path class="j43" d="M240.3 51.5L241.5 53.5M272.4 94.2L275.1 97.1M277 139.2L275.9 142.8"/>
<path class="j46" d="M241.5 53.5L243.3 56.5M269.8 91.2L272.4 94.2M275.9 142.8L274.6 147.7"/>
<path class="j49" d="M243.3 56.5L245.9 60.4M266.3 87.2L269.8 91.2M274.6 147.7L271.7 161.2L269.5 174.6"/>
<path class="j52" d="M245.9 60.4L251.4 68.4M259.7 79.3L266.3 87.2"/>
<path class="j55" d="M251.4 68.4L259.7 79.3"/>
<path class="j31" d="M229.3 29.7L230.9 32.8M237.2 44.2L238.4 46.3M278.7 98L282.7 102.2M280 127.6L279.7 128.9"/>
<path class="j28" d="M230.9 32.8L235.4 41.1M235.9 42.1L237.2 44.2M282.7 102.2L286.7 106.3L286.2 107.6M280.8 124.9L280 127.6"/>
<path class="j25" d="M235.4 41.1L235.9 42.1M286.2 107.6L280.8 124.9"/>
<path class="j34" d="M238.4 46.3L239.7 48.3M275.8 94.9L278.7 98M279.7 128.9L279 131.6"/>
<path class="j37" d="M239.7 48.3L241 50.4M274 92.9L275.8 94.9M279 131.6L278.3 134.3"/>
<path class="j40" d="M241 50.4L243 53.5M272.1 90.8L274 92.9M278.3 134.3L277.3 138.3"/>
<path class="j43" d="M243 53.5L245.1 56.6M269.3 87.7L272.1 90.8M277.3 138.3L276.1 143.6"/>
<path class="j46" d="M245.1 56.6L247.9 60.8M264.9 82.5L269.3 87.7M276.1 143.6L274.7 150.2"/>
<path class="j49" d="M247.9 60.8L255.6 71.1L264.9 82.5M274.7 150.2L273.8 155.6"/>
<path class="j31" d="M229.3 29.7L230.5 32.4M235.3 43L236.6 45.7M286.2 127L289.1 131"/>
<path class="j28" d="M230.5 32.4L235.3 43M289.1 131L289.8 132"/>
<path class="j34" d="M236.6 45.7L237.2 47M284.2 124.4L286.2 127"/>
<path class="j37" d="M237.2 47L238.5 49.7M282.3 121.7L284.2 124.4"/>
<path class="j40" d="M238.5 49.7L239.2 51M281.4 120.4L282.3 121.7"/>
<path class="j43" d="M239.2 51L240.6 53.7M279.5 117.7L281.4 120.4"/>
<path class="j46" d="M240.6 53.7L241.9 56.4M277.6 115L279.5 117.7"/>
<path class="j49" d="M241.9 56.4L243.3 59M275.8 112.4L277.6 115"/>
<path class="j52" d="M243.3 59L245.4 63M273.1 108.4L275.8 112.4"/>
<path class="j55" d="M245.4 63L250.6 72.4M266.9 99L273.1 108.4"/>
<path class="j58" d="M250.6 72.4L258.5 85.7L266.9 99"/>
<path class="j31" d="M229.3 29.7L231 33.5M235.8 43.5L236.5 44.8M286.3 121.5L289.3 125.3"/>
<path class="j28" d="M231 33.5L235.8 43.5M289.3 125.3L289.5 125.6"/>
<path class="j34" d="M236.5 44.8L237.7 47.3M283.4 117.8L286.3 121.5"/>
<path class="j37" d="M237.7 47.3L238.4 48.6M281.4 115.2L283.4 117.8"/>
<path class="j40" d="M238.4 48.6L239.7 51.1M280.5 114L281.4 115.2"/>
<path class="j43" d="M239.7 51.1L241.1 53.6M278.6 111.5L280.5 114"/>
<path class="j46" d="M241.1 53.6L242.4 56.1M276.7 108.9L278.6 111.5"/>
<path class="j49" d="M242.4 56.1L243.8 58.6M274.9 106.4L276.7 108.9"/>
<path class="j52" d="M243.8 58.6L246 62.4M271.2 101.4L274.9 106.4"/>
<path class="j55" d="M246 62.4L251.2 71.2M265.9 93.9L271.2 101.4"/>
<path class="j58" d="M251.2 71.2L258.3 82.5L265.9 93.9"/>
<path class="j31" d="M229.3 29.7L230.5 31.5M248 53.6L259 65.1M278.2 112.1L278.2 115M280.7 150.6L281.4 156.3"/>
<path class="j28" d="M230.5 31.5L234.2 36.8M244.1 49.2L248 53.6M259 65.1L265.4 71.3M278.2 109.3L278.2 112.1M281.4 156.3L282.7 164.8"/>
<path class="j25" d="M234.2 36.8L244.1 49.2M265.4 71.3L279.1 83.6L278.8 89.3M278.6 92.2L278.2 109.3"/>
<path class="j22" d="M278.8 89.3L278.6 92.2"/>
<path class="j34" d="M278.2 115L278.3 119.2M280.2 146.3L280.7 150.6"/>
<path class="j37" d="M278.3 119.2L279 132L280.2 146.3"/>
<path class="j31" d="M229.3 29.7L230.2 31.4M239.4 46.1L240.6 47.9M269.2 79.9L272.9 83.3"/>
<path class="j28" d="M230.2 31.4L234.2 38.3M237.6 43.5L239.4 46.1M272.9 83.3L278.6 88.5"/>
<path class="j25" d="M234.2 38.3L237.6 43.5M278.6 88.5L282.4 91.8L281.6 101L281.2 109.1L281.6 125.2L282.3 133.3L283.6 142.5L285 150.6L287.1 159.5"/>
<path class="j34" d="M240.6 47.9L241.9 49.6M266.5 77.3L269.2 79.9"/>
<path class="j37" d="M241.9 49.6L245.2 53.9M263.9 74.7L266.5 77.3"/>
<path class="j40" d="M245.2 53.9L254 64.3L263.9 74.7"/>
<path class="j31" d="M229.3 29.7L231 32.5M242.1 48.2L243.6 50M266.1 75L269.9 78.7M278.3 111.3L278.1 113.9M278.7 166.3L279.4 171.4"/>
<path class="j28" d="M231 32.5L236.6 40.8M240 45.4L242.1 48.2M269.9 78.7L277.8 86.1M278.5 110L278.3 111.3M279.4 171.4L280 175.2"/>
<path class="j25" d="M236.6 40.8L240 45.4M277.8 86.1L281.6 89.6L279.8 99.8L278.5 110"/>
<path class="j34" d="M243.6 50L245.8 52.8M262.5 71.3L266.1 75M278.1 113.9L277.8 116.4M278.4 163.7L278.7 166.3"/>
<path class="j37" d="M245.8 52.8L253.8 62.1L262.5 71.3M277.8 116.4L277.5 120.3M278 159.9L278.4 163.7"/>
<path class="j40" d="M277.5 120.3L277.3 124.1M277.7 156.1L278 159.9"/>
<path class="j43" d="M277.3 124.1L277 131.8M277.2 147.1L277.7 156.1"/>
<path class="j46" d="M277 131.8L277.2 147.1"/>
<path class="j31" d="M229.3 29.7L230.5 31.9M239.5 45.7L241.3 47.9M262.8 69.7L267.1 73.4M278 108.2L278.2 111.6M281.8 136.3L283.1 141.9"/>
<path class="j28" d="M230.5 31.9L236.3 41.3M237.9 43.5L239.5 45.7M267.1 73.4L275.3 79.9M277.8 104.8L278 108.2M283.1 141.9L286 152"/>
<path class="j25" d="M236.3 41.3L237.9 43.5M275.3 79.9L278.6 82.4L277.8 93.6L277.8 104.8M286 152L287.6 156.9"/>
<path class="j34" d="M241.3 47.9L243.1 50.1M259.5 66.8L262.8 69.7M278.2 111.6L278.6 116.1M280.9 131.8L281.8 136.3"/>
<path class="j37" d="M243.1 50.1L250.4 58.1L259.5 66.8M278.6 116.1L280.9 131.8"/>
<path class="j31" d="M229.3 29.7L231 32.6M238.8 45.4L240.2 47.4M274.8 88.6L279.7 93.5M280.7 127.1L280.4 131.5M279.2 159.1L279.3 167.8"/>
<path class="j28" d="M231 32.6L238.8 45.4M279.7 93.5L284.5 98.1L283.8 102.5M281.5 119.9L280.7 127.1M279.3 167.8L279.4 172.1"/>
<path class="j34" d="M240.2 47.4L240.8 48.3M272 85.7L274.8 88.6M280.4 131.5L280.1 135.8M279.3 153.2L279.2 159.1"/>
<path class="j37" d="M240.8 48.3L242.9 51.3M270.1 83.7L272 85.7M280.1 135.8L279.3 153.2"/>
<path class="j40" d="M242.9 51.3L245.8 55.2M266.4 79.8L270.1 83.7"/>
<path class="j43" d="M245.8 55.2L251.1 62.1M260.2 72.9L266.4 79.8"/>
<path class="j46" d="M251.1 62.1L260.2 72.9"/>
<path class="j25" d="M283.8 102.5L281.5 119.9"/>
<path class="j31" d="M229.3 29.7L231.2 32.8M239.9 46.1L241.3 48.1M274.2 87L279.2 92.1M279.9 119.4L279.5 122.2"/>
<path class="j28" d="M231.2 32.8L239.9 46.1M279.2 92.1L284.1 96.9L281.8 108.2L279.9 119.4"/>
<path class="j34" d="M241.3 48.1L242.8 50.1M270.3 82.9L274.2 87M279.5 122.2L279.1 125M276.1 172.8L276.1 174.2"/>
<path class="j37" d="M242.8 50.1L245.1 53.2M268.4 80.8L270.3 82.9M279.1 125L278.7 127.8M276.1 168.6L276.1 172.8"/>
<path class="j40" d="M245.1 53.2L248.2 57.3M263.7 75.7L268.4 80.8M278.7 127.8L278.1 133.5M276.1 164.4L276.1 168.6"/>
<path class="j43" d="M248.2 57.3L255.7 66.5L263.7 75.7M278.1 133.5L277.2 141.9M276.5 153.1L276.1 164.4"/>
<path class="j46" d="M277.2 141.9L276.5 153.1"/>
<path class="j31" d="M229.3 29.7L231.6 33.3M241.3 47L242.7 48.8M267.7 76.1L273.5 81.6M280.9 124.8L281.9 140.8"/>
<path class="j28" d="M231.6 33.3L235.9 39.7L241.3 47M273.5 81.6L281.2 88.6L280.6 107.4L280.9 124.8M281.9 140.8L283.3 153.8L285.1 167.2"/>
<path class="j34" d="M242.7 48.8L244.9 51.5M264 72.5L267.7 76.1"/>
<path class="j37" d="M244.9 51.5L248.7 56.1M259.6 67.9L264 72.5"/>
<path class="j40" d="M248.7 56.1L259.6 67.9"/>
<path class="j31" d="M229.3 29.7L231 33.2M236.4 42.8L237.4 44.5M276.8 89.8L282.6 95.1M279.9 117.3L279.6 119.8M278.7 170.7L279.5 178.1"/>
<path class="j28" d="M231 33.2L236.4 42.8M282.6 95.1L283.9 96.2L281.5 107.3L279.9 117.3M279.5 178.1L280 181.8"/>
<path class="j34" d="M237.4 44.5L238.6 46.3M273.1 86.3L276.8 89.8M279.6 119.8L279.3 122.2M278.3 165.7L278.7 170.7"/>
<path class="j37" d="M238.6 46.3L239.7 48M271.3 84.6L273.1 86.3M279.3 122.2L279 124.7M278 162L278.3 165.7"/>
<path class="j40" d="M239.7 48L241.5 50.6M268.6 82L271.3 84.6M279 124.7L278.5 129.7M277.8 158.3L278 162"/>
<path class="j43" d="M241.5 50.6L244 54.1M265.1 78.5L268.6 82M278.5 129.7L277.7 144.6L277.8 158.3"/>
<path class="j46" d="M244 54.1L248 59.3M260.1 73.3L265.1 78.5"/>
<path class="j49" d="M248 59.3L253.8 66.3L260.1 73.3"/>
<path class="j31" d="M229.3 29.7L231.4 33.9M236.6 43L237.7 44.7M275.9 87.3L281.7 92.3M279.8 115.7L279.6 118.4M279.8 167.2L280.7 175.1"/>
<path class="j28" d="M231.4 33.9L236.6 43M281.7 92.3L282.9 93.3L281.1 105.2L279.8 115.7"/>
<path class="j34" d="M237.7 44.7L238.8 46.4M272.2 83.9L275.9 87.3M279.6 118.4L279.4 121M279.2 160.6L279.8 167.2"/>
<path class="j37" d="M238.8 46.4L239.9 48M269.5 81.4L272.2 83.9M279.4 121L279.1 125M279 156.6L279.2 160.6"/>
<path class="j40" d="M239.9 48L241.7 50.5M266.9 78.9L269.5 81.4M279.1 125L278.8 130.3M278.8 151.4L279 156.6"/>
<path class="j43" d="M241.7 50.5L244.8 54.7M263.4 75.6L266.9 78.9M278.8 130.3L278.6 140.8L278.8 151.4"/>
<path class="j46" d="M244.8 54.7L250.2 61.4M255.4 67.2L263.4 75.6"/>
<path class="j49" d="M250.2 61.4L255.4 67.2"/>
<path class="j31" d="M229.3 29.7L234.1 36.8M240.7 45.9L243.1 48.9M271.9 81.3L280.2 89.4"/>
<path class="j28" d="M234.1 36.8L240.7 45.9M280.2 89.4L282.3 91.5L281.6 110.5L281.8 129.6L283 148.6L285.1 167.4"/>
<path class="j34" d="M243.1 48.9L244.7 51M267 76.3L271.9 81.3"/>
<path class="j37" d="M244.7 51L247.1 54M263.1 72.2L267 76.3"/>
<path class="j40" d="M247.1 54L254.9 63.1L263.1 72.2"/>
<path class="j31" d="M229.3 29.7L232.5 35.9M235.4 40.7L238.4 44.8M268.6 74.5L276.8 80.7M277.2 101.8L277.1 105.8M282.5 162L283 164.6"/>
<path class="j28" d="M232.5 35.9L235.4 40.7M276.8 80.7L278.3 81.8L277.2 101.8"/>
<path class="j34" d="M238.4 44.8L239.4 46.2M263.4 70.3L268.6 74.5M277.1 105.8L277.1 107.2M281.5 156.6L282.5 162"/>
<path class="j37" d="M239.4 46.2L241 48.3M261 68.3L263.4 70.3M277.1 107.2L277.1 109.8M280.6 151.3L281.5 156.6"/>
<path class="j40" d="M241 48.3L244 51.7M257 64.8L261 68.3M277.1 109.8L277.2 113.8M280.2 148.6L280.6 151.3"/>
<path class="j43" d="M244 51.7L249.8 57.9L257 64.8M277.2 113.8L277.4 120.5M279.3 141.9L280.2 148.6"/>
<path class="j46" d="M277.4 120.5L278.1 131.2L279.3 141.9"/>
<path class="j31" d="M229.3 29.7L232.9 36.5L237.6 44.1M277.7 88.1L282.6 92.3L281.8 96M280.1 105.9L279 114.5"/>
<path class="j34" d="M237.6 44.1L238.8 45.8M272 83L277.7 88.1M279 114.5L278.8 115.7"/>
<path class="j37" d="M238.8 45.8L239.9 47.5M269.3 80.5L272 83M278.8 115.7L278.6 118.2"/>
<path class="j40" d="M239.9 47.5L241.8 50M266.6 77.9L269.3 80.5M278.6 118.2L278.3 121.9M278.5 158.9L278.8 162.6"/>
<path class="j43" d="M241.8 50L245 54.2M264 75.4L266.6 77.9M278.3 121.9L277.9 126.8M278.2 155.2L278.5 158.9"/>
<path class="j46" d="M245 54.2L251.3 61.8M255.1 66.1L264 75.4M277.9 126.8L277.6 136.7M277.6 141.6L278.2 155.2"/>
<path class="j49" d="M251.3 61.8L255.1 66.1M277.6 136.7L277.6 141.6"/>
<path class="j28" d="M281.8 96L280.1 105.9"/>
<circle class="rc" cx="223.9" cy="44.0" r="4.7"/>
<circle class="rc" cx="220.1" cy="49.5" r="4.7"/>
<circle class="rc" cx="227.6" cy="47.5" r="4.7"/>
<circle class="rc" cx="225.6" cy="51.4" r="4.7"/>
<circle class="rc" cx="229.8" cy="52.9" r="4.7"/>
<circle class="rc" cx="231.3" cy="54.4" r="4.7"/>
<circle class="rc" cx="235.2" cy="55.7" r="4.7"/>
<circle class="rc" cx="234.0" cy="60.1" r="4.7"/>
<circle class="rc" cx="242.4" cy="68.8" r="4.7"/>
<circle class="rc" cx="241.2" cy="65.2" r="4.7"/>
<circle class="rc" cx="247.9" cy="60.4" r="4.7"/>
<circle class="rc" cx="246.4" cy="73.1" r="4.7"/>
<circle class="rc" cx="245.0" cy="69.6" r="4.7"/>
<circle class="rc" cx="252.7" cy="82.9" r="4.7"/>
<circle class="rc" cx="252.4" cy="80.7" r="4.7"/>
<circle class="rc" cx="250.2" cy="77.0" r="4.7"/>
<circle class="rc" cx="268.0" cy="94.8" r="4.7"/>
<circle class="rc" cx="268.7" cy="99.4" r="4.7"/>
<circle class="rc" cx="269.1" cy="105.1" r="4.7"/>
<circle class="rc" cx="267.7" cy="108.7" r="4.7"/>
<circle class="rc" cx="269.5" cy="109.8" r="4.7"/>
<circle class="rc" cx="267.4" cy="118.0" r="4.7"/>
<circle class="rc" cx="272.5" cy="120.2" r="4.7"/>
<circle class="rc" cx="266.6" cy="120.1" r="4.7"/>
<circle class="rc" cx="269.7" cy="118.9" r="4.7"/>
<circle class="rc" cx="266.4" cy="123.9" r="4.7"/>
<circle class="rc" cx="266.5" cy="130.7" r="4.7"/>
<circle class="rc" cx="268.3" cy="134.8" r="4.7"/>
<circle class="rc" cx="267.3" cy="139.8" r="4.7"/>
<circle class="rc" cx="269.4" cy="140.3" r="4.7"/>
<circle class="rc" cx="267.3" cy="146.1" r="4.7"/>
<circle class="rc" cx="263.7" cy="145.1" r="4.7"/>
<circle class="rc" cx="267.5" cy="148.1" r="4.7"/>
<circle class="rc" cx="266.7" cy="153.1" r="4.7"/>
<circle class="rc" cx="264.8" cy="159.4" r="4.7"/>
<circle class="rc" cx="263.6" cy="167.7" r="4.7"/>
<circle class="rc" cx="264.8" cy="175.1" r="4.7"/>
<circle class="rc" cx="259.2" cy="168.0" r="4.7"/>
<circle class="rc" cx="263.9" cy="177.3" r="4.7"/>
<circle class="rc" cx="261.2" cy="182.0" r="4.7"/>
<circle class="rc" cx="256.1" cy="177.5" r="4.7"/>
<circle class="rc" cx="261.6" cy="185.1" r="4.7"/>
<circle class="rc" cx="259.2" cy="188.0" r="4.7"/>
<circle class="rc" cx="249.6" cy="188.4" r="4.7"/>
<circle class="rc" cx="258.8" cy="192.5" r="4.7"/>
<circle class="rc" cx="246.8" cy="192.5" r="4.7"/>
<circle class="rc" cx="267.5" cy="172.4" r="4.7"/>
<circle class="rc" cx="270.3" cy="166.7" r="4.7"/>
<circle class="rc" cx="272.7" cy="152.7" r="4.7"/>
<circle class="rc" cx="276.6" cy="157.5" r="4.7"/>
<circle class="rc" cx="267.5" cy="167.7" r="4.7"/>
<circle class="rc" cx="269.5" cy="174.6" r="4.7"/>
<circle class="rc" cx="273.8" cy="155.6" r="4.7"/>
<circle class="rc" cx="278.8" cy="162.6" r="4.7"/>
<path class="j31" d="M229.3 29.7L229.9 30.2"/>
<path class="j34" d="M229.9 30.2L239.5 37.1L251 44L255.6 50.7L260.7 57.4L266.4 64.1L272.4 70.7L274.8 79.6L278.1 89.7M282.9 101.9L288 113.2L285.9 126.4M284.4 165L284.6 168.9L275.6 183.4M264.6 205L261.8 212L262.6 209.4L266.2 200.1M280.7 175.6L283.9 171.2"/>
<path class="j37" d="M278.1 89.7L282.9 101.9M285.9 126.4L284.8 136.1L284.2 145.7L284.1 155.4L284.4 165M275.6 183.4L269.4 194.7L264.6 205M266.2 200.1L269.1 194.2L272.3 188.3L276 182.4L280.7 175.6"/>
<path class="j31" d="M229.3 29.7L230.1 30.2"/>
<path class="j34" d="M230.1 30.2L239.7 36.9L250.6 43.6L255.6 50.8L261.2 58.1L273.4 72.3L276.3 82.5L280 94L283.8 104.2L288.4 115.4L287.5 126.7L286.9 138L287 159.8L280.8 170.2L275.7 179.5M265.4 201.4L261.1 212.8L262.8 206.1L265.3 198.5M283.9 162.2L287.6 156.9L283.3 162.2L279.9 166.9M269 197.4L269.1 202.2"/>
<path class="j37" d="M275.7 179.5L270 191L265.4 201.4M265.3 198.5L268.7 189.9L273.2 180.4L277.9 171.8L283.9 162.2M279.9 166.9L275.2 174.8L272.1 182.1L269.9 190.1L269 197.4"/>
<path class="j31" d="M229.3 29.7L237.1 34.3L244.9 38.6L249.6 44.5L254.8 50.4L260.6 56.3L266.9 62.2L272.2 72.4L279.1 83.6L282.7 97L287.7 111.2L287.1 122.4L286.9 132.3L287.3 143.5L288.2 153.5L281.7 165.9L276.4 178.3L272.1 190.7L269.1 202.1L261 209.5L254.5 216.3L247.9 223.8L242.6 230.8L247.8 223.2L254.1 215.5L261.5 207.9L270.7 199.6L273.2 186L275.1 178.7L277.4 171.3L282.6 157.7L289.4 143.5"/>
<path class="j31" d="M229.3 29.7L230.9 31.1"/>
<path class="j34" d="M230.9 31.1L244.3 42.3L260.8 54.3L265.3 64.3L270.9 75.3L277.3 86.3L284.2 97.3L284 110.8L284.5 124.4L285.9 138L288.3 152.5L280.8 166.3L274.5 180.2M272.8 184.4L268.7 196.1L265.8 206.8L269 195.7L273.8 183.6L280 171.5L286.9 160.2L280.9 167.9L276.2 174.8M264.8 200.8L263.2 210.2L264.3 202.5L266.5 194.8M278.6 173.1L285.9 164.2"/>
<path class="j37" d="M274.5 180.2L272.8 184.4M276.2 174.8L272.2 181.7L269.3 187.8L266.6 194.7L264.8 200.8M266.5 194.8L268.5 189.9L271.3 184.3L274.7 178.7L278.6 173.1"/>
<path class="j31" d="M229.3 29.7L230.8 31.3M272 173.7L271.1 174.3"/>
<path class="j28" d="M230.8 31.3L234.6 35.4M272.9 173.1L272 173.7"/>
<path class="j25" d="M234.6 35.4L243.7 44.4L253.7 53.4M265.6 196.5L258.2 206.3L251.7 216.2M254.9 210.9L259.1 205.8L263.9 200.6M284.3 143.7L282.3 146.4L281 148.7L280.2 151.4L280 153.8L280.2 156.1L281.1 158.8L282.6 161.5L284.7 164.2M278.7 169.5L272.9 173.1"/>
<path class="j22" d="M253.7 53.4L269.8 66.4L273.4 80.1L277.7 93.7L282.9 107.3L289.2 121.5L286 135.6L283.7 149.7L282.1 163.8L281.3 178.6L273.1 187.5L265.6 196.5M251.7 216.2L248.2 222.5L244.9 228.9L246.7 224.4L249 219.9L251.7 215.4L254.9 210.9M263.9 200.6L269.9 194.8L276.7 189L277.8 176.7L280.2 164.4L282.1 157.7L284.3 151.1L289.7 138.6L286.5 141.3L284.3 143.7M284.7 164.2L285.7 165.2L278.7 169.5"/>
<path class="j34" d="M271.1 174.3L269.3 175.5"/>
<path class="j37" d="M269.3 175.5L268.4 176.1"/>
<path class="j40" d="M268.4 176.1L266.6 177.3"/>
<path class="j43" d="M266.6 177.3L265.7 177.9"/>
<path class="j46" d="M265.7 177.9L264 179.1"/>
<path class="j49" d="M264 179.1L262.3 180.3"/>
<path class="j52" d="M262.3 180.3L259.8 182.1"/>
<path class="j55" d="M259.8 182.1L255.1 185.7"/>
<path class="j58" d="M255.1 185.7L252.8 187.6"/>
<path class="j31" d="M229.3 29.7L230.5 31.2M268.9 182.4L267.6 182.7"/>
<path class="j28" d="M230.5 31.2L234.6 36.5M274.1 173.9L270.8 183.3M269.5 182.2L268.9 182.4"/>
<path class="j25" d="M234.6 36.5L242 44.8L251.3 53.9L261.7 63L273.4 72.3L275.3 88.7L278.7 106.3L283.4 124L289.5 142.1L281.1 159.1L273.9 176.1L268.1 193L263.7 209.5L265.1 202.5L267.1 194.5L269.6 186.5L272.6 178.5L275.7 171.5L279.6 163.5L284.1 155.5L289 147.3L284.4 154.2L280.4 161.1L276.8 167.9L274.1 173.9M270.8 183.3L268.1 194.5L266.9 205.3L267.2 199.6L268.3 193.1L269.8 187.4L272.3 180.9L275.4 174.5L279.3 168L286.6 158L287.6 156.8L286.8 158.7M274.2 181.1L269.5 182.2"/>
<path class="j22" d="M286.8 158.7L283.4 169.2L280.9 179.6L274.2 181.1"/>
<path class="j34" d="M267.6 182.7L266.4 183"/>
<path class="j37" d="M266.4 183L265.3 183.3"/>
<path class="j40" d="M265.3 183.3L264.1 183.6"/>
<path class="j43" d="M264.1 183.6L263.1 184"/>
<path class="j46" d="M263.1 184L262 184.3"/>
<path class="j49" d="M262 184.3L260.5 184.8"/>
<path class="j52" d="M260.5 184.8L258.7 185.4"/>
<path class="j55" d="M258.7 185.4L255.5 186.7"/>
<path class="j58" d="M255.5 186.7L254.8 187"/>
<path class="j31" d="M229.3 29.7L230.4 30.5"/>
<path class="j28" d="M230.4 30.5L233.4 32.6"/>
<path class="j25" d="M233.4 32.6L242.8 38.5M285.1 141L283.3 149.6L282.1 157.1L281.1 165.7L280.7 173.2"/>
<path class="j22" d="M242.8 38.5L248.4 41.6L252.3 47.2L257.4 53.5L263.2 59.8L269.2 65.6L272.4 74.3L276.5 84L280.6 92.7L285.6 102.1L287 119.9L289.7 138.1L286.4 149.7L283.8 160L281.5 171.5L279.8 182.4L274.2 190.3L269.1 198.2L264.5 206.1L260.6 213.4L264.8 203.5L270 193.6L276.1 183.7L283 174.1L283.6 162.1L284.8 150.1L286.8 138.1L289.5 125.9L285.1 141M280.7 173.2L280.6 180.3"/>
<path class="j31" d="M229.3 29.7L230.5 31.3"/>
<path class="j28" d="M230.5 31.3L234 36.3"/>
<path class="j25" d="M234 36.3L241.4 45.4L250.6 55.3L262.7 66.8L277 79L277.1 80.3M278.4 91.6L280.3 102.9L282.7 114.1L285.6 125.4L289.1 136.7M284.9 150.3L280.1 163.4L276.3 175.2L272.8 188.3L270.1 200M258.5 210.6L245.7 222.7L235.4 234.1M241 227.7L251 217.9L262.7 208.1M270.5 192.6L273.6 182.9L277.8 172.3L282.1 162.6L287.7 151.9"/>
<path class="j22" d="M277.1 80.3L278.4 91.6M289.1 136.7L289.7 138.5L284.9 150.3M270.1 200L269.9 200.9L258.5 210.6M235.4 234.1L241 227.7M262.7 208.1L267.6 204.3L270.5 192.6M287.7 151.9L288.7 150.1"/>
<path class="j31" d="M229.3 29.7L230.9 31"/>
<path class="j28" d="M230.9 31L235.8 34.8"/>
<path class="j25" d="M235.8 34.8L243.7 40.5L253.2 46.8M263 61.4L268.2 69.1L273.9 76.8M280.6 96.1L284.2 114.4L289.1 132.8M286.2 145.4L282.7 157.1L279.7 168.8L277.2 180.5L275.5 191M267 199.9L260.1 207.4L253.8 214.8L248.2 222.3L243.8 229M246.6 223.3L252.3 214.6L259.3 205.9L267.4 197.2L276.8 188.5"/>
<path class="j22" d="M253.2 46.8L255 47.9L263 61.4M273.9 76.8L278.8 82.9L280.6 96.1M289.1 132.8L289.8 135L286.2 145.4M275.5 191L275.4 191.6L267 199.9M243.8 229L242.9 230.6L243.9 228.4L246.6 223.3M276.8 188.5L277.1 188.3"/>
<path class="j31" d="M229.3 29.7L230.5 30.8"/>
<path class="j28" d="M230.5 30.8L233.5 33.4"/>
<path class="j25" d="M233.5 33.4L241.6 39.9"/>
<path class="j22" d="M241.6 39.9L248.5 44.7L257 50L261 57.4L265.7 64.9L271.1 72.4L277.7 80.5L279.3 90.5L281.7 100.5L284.9 110.4L289.1 121L286.6 132.4L285.4 142.9L285.1 153.4L285.9 164.5"/>
<path class="j31" d="M229.3 29.7L230.9 30.8"/>
<path class="j28" d="M230.9 30.8L236 34.3"/>
<path class="j25" d="M236 34.3L249.9 43L254.8 50L260.2 57L266.1 64L272.8 71.3M276.9 81.9L281.9 92.5"/>
<path class="j22" d="M272.8 71.3L276.9 81.9M281.9 92.5L284.1 96.9"/>
<path class="j31" d="M229.3 29.7L230.5 30.6"/>
<path class="j28" d="M230.5 30.6L233.6 32.9"/>
<path class="j25" d="M233.6 32.9L244.3 39.6"/>
<path class="j22" d="M244.3 39.6L249.3 42.4L254.4 49.9L260.2 57.4L266.6 65L273.2 72.1L278.7 87.4L286 103.3L286.2 113.6L286.8 123.8L287.9 134.1L289.3 144"/>
<path class="j31" d="M229.3 29.7L230.7 30.8"/>
<path class="j28" d="M230.7 30.8L235 33.9"/>
<path class="j25" d="M235 33.9L242.8 39.2L251.6 44.5L256.1 52L261.1 59.5L268.8 69.8L277.6 80.3L277.7 81.5M278.1 84.9L279.8 96.4L282.5 109L285.7 120.5L289.8 132.5L284.2 150.7L281.9 160.4L280.2 168.9"/>
<path class="j22" d="M277.7 81.5L278.1 84.9"/>
<path class="j31" d="M229.3 29.7L230.6 30.8"/>
<path class="j28" d="M230.6 30.8L234 33.6"/>
<path class="j25" d="M234 33.6L243.7 40.9"/>
<path class="j22" d="M243.7 40.9L255.8 48.7L259.9 55.9L265.2 64.1L271.1 72.2L277.6 80.3"/>
<path class="j31" d="M229.3 29.7L230.8 30.6"/>
<path class="j28" d="M230.8 30.6L235.3 33.5"/>
<path class="j25" d="M235.3 33.5L246.2 39.7L247.6 41.3M287 139L285.8 150.8L285.3 161.2"/>
<path class="j22" d="M247.6 41.3L255.7 50.4L265.1 59.8L272.1 73L280.7 87.3L284.2 104.9L289.3 123.4L287 139M285.3 161.2L285.1 167.2"/>
<path class="j31" d="M229.3 29.7L230.8 30.6"/>
<path class="j28" d="M230.8 30.6L235.3 33.4"/>
<path class="j25" d="M235.3 33.4L245.6 39.2L246.9 41M253.7 50.3L261.3 59.6L269.7 68.9M277.7 87L281.9 100.6L287.3 115.5"/>
<path class="j22" d="M246.9 41L253.7 50.3M269.7 68.9L274 73.5L277.7 87M287.3 115.5L289 119.8L287.5 139.8L287.1 159.4L278.8 178.5"/>
<path class="j31" d="M229.3 29.7L230.8 30.9"/>
<path class="j28" d="M230.8 30.9L234.8 34"/>
<path class="j25" d="M234.8 34L244.2 40.8"/>
<path class="j22" d="M244.2 40.8L254.9 47.8L259.4 55.4L265 64L271.2 72.6L278.1 81.5"/>
<path class="j31" d="M229.3 29.7L230.8 30.7"/>
<path class="j28" d="M230.8 30.7L234.7 33.3"/>
<path class="j25" d="M234.7 33.3L247.7 41.1"/>
<path class="j22" d="M247.7 41.1L248.1 41.4L257.5 52.6L267.3 62.8L273.5 75.1L280.8 87.6"/>
<path class="j31" d="M229.3 29.7L230.6 30.7"/>
<path class="j28" d="M230.6 30.7L233.2 32.6"/>
<path class="j25" d="M233.2 32.6L240.5 37.4"/>
<path class="j22" d="M240.5 37.4L249.7 42.7L254.7 50.1L260.9 58.5L267.7 66.8L274.6 74.6L277.3 84L280.4 93.4L284 102.9L287.8 112L287.5 130.7L288.6 150.8L282 169.4"/>
<path class="j31" d="M229.3 29.7L230.7 30.9"/>
<path class="j28" d="M230.7 30.9L234.2 33.8"/>
<path class="j25" d="M234.2 33.8L243.6 40.9"/>
<path class="j22" d="M243.6 40.9L256.3 49.3L261 58.7L267 69.1L273.9 79.4L281.5 89.5L282 102.2L283.5 116.1L286 130.1L289.4 143.4"/>
<path class="j31" d="M229.3 29.7L230.6 31"/>
<path class="j28" d="M230.6 31L234.5 34.8"/>
<path class="j25" d="M234.5 34.8L240.2 39.9L246.4 45L260.5 55.3M266.4 67L270.2 76.2L274.7 85.4L279.7 94.5L285.4 103.7M286.1 119.4L286.7 130.2L288 141.1"/>
<path class="j22" d="M260.5 55.3L262.9 56.9L266.4 67M285.4 103.7L286.4 105.3L286.1 119.4M288 141.1L289.1 147"/>
<path class="j31" d="M229.3 29.7L230.9 30.7"/>
<path class="j28" d="M230.9 30.7L234.1 32.8"/>
<path class="j25" d="M234.1 32.8L242.8 37.9"/>
<path class="j22" d="M242.8 37.9L246.7 40.1L256.2 51.2L266.7 61.9L270.4 70.7L274.6 79.5L279.2 88.3L284.1 96.8L284.4 108.1L285.4 120.7L287 133.2L289.2 145.3"/>
<path class="j31" d="M229.3 29.7L230.8 30.6"/>
<path class="j28" d="M230.8 30.6L234.6 33"/>
<path class="j25" d="M234.6 33L244.5 38.6"/>
<path class="j22" d="M244.5 38.6L245.6 39.2L251.1 46.2L257.3 53.2L268.4 64.4L274.4 77.1L282 90.8L285 106.8L289.4 123.7L288 133.7L287.1 142.5L286.6 152.5L286.4 162.2"/>
<path class="j31" d="M229.3 29.7L230.4 30.7"/>
<path class="j28" d="M230.4 30.7L233.3 33.2"/>
<path class="j25" d="M233.3 33.2L241.8 39.8"/>
<path class="j22" d="M241.8 39.8L248.6 44.4L255.8 48.8L260.5 57.3L266.4 66.8L272.4 75.4L279.5 84.6L281.2 94.9L283.6 106.5L286.5 118.1L289.7 129.1L285.8 142.6L282.8 154.7L280.3 166.9L278.3 179"/>
<path class="j31" d="M229.3 29.7L230.4 31.1"/>
<path class="j28" d="M230.4 31.1L234.4 36"/>
<path class="j25" d="M234.4 36L241.6 43.7L249.8 51.4L260 59.8L270.7 67.8L273.6 78.8L277.7 90.8L282.7 102.9L288.2 114.2"/>
<path class="j31" d="M229.3 29.7L231 30.8"/>
<path class="j28" d="M231 30.8L236.4 34"/>
<path class="j25" d="M236.4 34L245.6 39.2L255.8 51.9L268.1 65.5M273.9 78.1L280.6 98.2L288.8 118.5M287.4 128.5L285.3 148.6L284.3 170"/>
<path class="j22" d="M268.1 65.5L271.3 68.8L273.9 78.1M288.8 118.5L287.4 128.5"/>
<path class="j31" d="M229.3 29.7L230.6 30.5"/>
<path class="j28" d="M230.6 30.5L233.9 32.5"/>
<path class="j25" d="M233.9 32.5L244.2 38M274.4 81.2L279.8 95.8L286.2 110.4"/>
<path class="j22" d="M244.2 38L249.6 45.2L255.8 52.3L262.6 59.5L269.9 66.6L274.4 81.2M286.2 110.4L288.3 114.8"/>
<path class="j31" d="M229.3 29.7L230.8 30.6"/>
<path class="j28" d="M230.8 30.6L234.5 32.9"/>
<path class="j25" d="M234.5 32.9L245.4 39L246.1 39.8"/>
<path class="j22" d="M246.1 39.8L255.8 51L267 62.4L274.7 78.4L283.3 94.2L286 111.8L289.7 130.6"/>
<path class="j31" d="M229.3 29.7L231 31"/>
<path class="j28" d="M231 31L236.2 35"/>
<path class="j25" d="M236.2 35L253.6 47M262.5 61.4L270.2 73.6L278.6 85.9M283.5 105.8L285.6 118.7L288.3 131.7M284.7 156.7L282.7 167.6"/>
<path class="j22" d="M253.6 47L255.1 48L262.5 61.4M278.6 85.9L281.8 90.2L283.5 105.8M288.3 131.7L289.7 137.4L287 147L284.7 156.7M282.7 167.6L282.3 170"/>
<path class="j31" d="M229.3 29.7L230.8 31.1"/>
<path class="j28" d="M230.8 31.1L234.6 34.6"/>
<path class="j25" d="M234.6 34.6L241.9 40.9L250 47.1"/>
<path class="j22" d="M250 47.1L262 55.8L266.5 66.9L272.2 79.2L278.8 91.4L286 103.4L285.6 117.6L285.8 130.3L286.5 143.1L287.7 156.3L282.2 166.9L277.3 177.5L272.9 188.1L269.1 198.7"/>
<path class="j31" d="M229.3 29.7L230.5 30.8"/>
<path class="j28" d="M230.5 30.8L234.1 33.9"/>
<path class="j25" d="M234.1 33.9L240.9 39.2L249.5 45M262.5 62.3L270.7 76.4L280.4 90.6M283.9 110.1L285.4 123.2L287.9 137.5M284.1 155.2L280.1 165.5L277.1 174.7L274.5 184.9L272.9 194.1"/>
<path class="j22" d="M249.5 45L256.2 49.2L262.5 62.3M280.4 90.6L283.4 94.6L283.9 110.1M287.9 137.5L289.3 144L284.1 155.2M272.9 194.1L272.6 196.5"/>
<path class="j31" d="M229.3 29.7L230.9 30.7"/>
<path class="j28" d="M230.9 30.7L235.1 33.2"/>
<path class="j25" d="M235.1 33.2L245.3 38.9"/>
<path class="j22" d="M245.3 38.9L251 46.9L258 55.7L265 63.6L273.4 72.4L279.8 91.4L287.5 110.2L287.3 120.4L287.5 129.4L288.9 148.4"/>
<path class="j31" d="M229.3 29.7L231 30.9"/>
<path class="j28" d="M231 30.9L236.3 34.4"/>
<path class="j25" d="M236.3 34.4L249.1 42.2L258.8 55.6L266.5 65.1L274.3 73.9L274.7 75.2M278.4 85.3L284.6 100.4M287.2 116.1L289 130.4M287.7 143.5L284.3 160.7L281.9 176.5"/>
<path class="j22" d="M274.7 75.2L278.4 85.3M284.6 100.4L286 103.3L287.2 116.1M289 130.4L289.8 134.9L287.7 143.5"/>
<path class="j31" d="M229.3 29.7L230.9 30.8"/>
<path class="j28" d="M230.9 30.8L234.1 33"/>
<path class="j25" d="M234.1 33L242.6 38.6"/>
<path class="j22" d="M242.6 38.6L249.9 42.9L254.6 49.8L260.5 57.6L266.3 64.5L273.4 72.3L276.4 83.2L279.9 94.2L284 105.1L288.4 115.6L287 128L286.2 140.5L285.8 152.9L285.8 164.6L277.2 180.3"/>
<path class="j31" d="M229.3 29.7L230.9 30.7"/>
<path class="j28" d="M230.9 30.7L235.9 33.7"/>
<path class="j25" d="M235.9 33.7L245.3 38.9L250.1 45.4L255.4 51.9L261.3 58.4L267.6 64.8M273.8 78.2L279.9 94.3L287.2 110.4"/>
<path class="j22" d="M267.6 64.8L270.7 67.8L273.8 78.2M287.2 110.4L287.7 111.3"/>
<path class="j31" d="M229.3 29.7L231 30.7"/>
<path class="j28" d="M231 30.7L235.3 33.3"/>
<path class="j25" d="M235.3 33.3L245.5 39.1M278.2 91.3L281.2 100.6L285.1 111.1M285.5 133.7L282.1 149.6L279.5 165.5"/>
<path class="j22" d="M245.5 39.1L251.1 47L258 55.8L265.8 64.5L273.6 72.7L275.7 82L278.2 91.3M285.1 111.1L289.1 120.5L285.5 133.7"/>
<path class="j31" d="M229.3 29.7L230.5 30.5"/>
<path class="j28" d="M230.5 30.5L233.7 32.4"/>
<path class="j25" d="M233.7 32.4L241.4 36.5"/>
<path class="j22" d="M241.4 36.5L243.8 37.7L247.9 43L253.3 49L259.3 55L266.1 61.1L269.6 71.2L274.4 82.4L280 93.6L286.1 104.1L286 114.3L286.4 124.6L287.4 134.9L289.2 145.9L285.7 155.6L282.9 165.3L280.6 175L279 184.1"/>
<path class="j31" d="M229.3 29.7L230.5 31.2"/>
<path class="j28" d="M230.5 31.2L233.5 35"/>
<path class="j25" d="M233.5 35L240.1 42.6L248.4 51L257.7 59.4L267.8 67.7M277.9 93.7L281.2 105.3L285 116.9M283.9 147.5L279.7 162.7L276.2 178"/>
<path class="j22" d="M267.8 67.7L273 71.7L275.1 82.1L277.9 93.7M285 116.9L289.7 129.4L283.9 147.5"/>
<circle class="rc" cx="251.0" cy="44.0" r="4.7"/>
<circle class="rc" cx="244.9" cy="38.6" r="4.7"/>
<circle class="rc" cx="266.9" cy="62.2" r="4.7"/>
<circle class="rc" cx="270.7" cy="199.6" r="4.7"/>
<circle class="rc" cx="289.4" cy="143.5" r="4.7"/>
<circle class="rc" cx="260.8" cy="54.3" r="4.7"/>
<circle class="rc" cx="252.8" cy="187.6" r="4.7"/>
<circle class="rc" cx="254.8" cy="187.0" r="4.7"/>
<circle class="rc" cx="255.0" cy="47.9" r="4.7"/>
<circle class="rc" cx="280.2" cy="168.9" r="4.7"/>
<circle class="rc" cx="274.0" cy="73.4" r="4.7"/>
<circle class="rc" cx="287.8" cy="111.8" r="4.7"/>
<circle class="rc" cx="287.4" cy="158.0" r="4.7"/>
<circle class="rc" cx="240.4" cy="232.4" r="4.7"/>
<circle class="rc" cx="180.8" cy="238.9" r="4.7"/>
<path class="j31" d="M229.3 29.7L230.9 30.7M282.4 167L279.2 174.1L276.9 180.5L275 187.1L273.3 195.2M268.1 200.2L264.2 204.6L261.2 208.5L258.1 213.6L255.3 219.1M247.9 224.3L245 226.9L242.3 229.9M222.3 237.4L219.5 237.5" stroke-width="1.5"/>
<path class="j28" d="M230.9 30.7L234.9 33.1M285.3 161.6L282.4 167M273.3 195.2L268.1 200.2M255.3 219.1L247.9 224.3M242.3 229.9L240.5 232.4L235.1 236.9L222.3 237.4" stroke-width="1.5"/>
<path class="j25" d="M234.9 33.1L244.4 38.4M286.8 158.9L285.3 161.6" stroke-width="1.5"/>
<path class="j22" d="M244.4 38.4L245.1 38.8L252 48.2L259.7 57.6L274 73.4L280.4 93.1L287.8 111.8L286.9 135.6L287.4 158L286.8 158.9" stroke-width="1.5"/>
<path class="j34" d="M219.5 237.5L216.7 237.6" stroke-width="1.5"/>
<path class="j37" d="M216.7 237.6L213.9 237.7" stroke-width="1.5"/>
<path class="j40" d="M213.9 237.7L212.5 237.7" stroke-width="1.5"/>
<path class="j43" d="M212.5 237.7L209.8 237.8" stroke-width="1.5"/>
<path class="j46" d="M209.8 237.8L207 237.9" stroke-width="1.5"/>
<path class="j49" d="M207 237.9L205.7 238" stroke-width="1.5"/>
<path class="j52" d="M205.7 238L201.6 238.1" stroke-width="1.5"/>
<path class="j55" d="M201.6 238.1L180.8 238.9" stroke-width="1.5"/>
<circle class="rc" cx="229.3" cy="29.7" r="4.7"/>
<circle class="rc" cx="236.1" cy="32.0" r="4.7"/>
<circle class="rc" cx="240.6" cy="35.2" r="4.7"/>
<path class="j1" d="M166.4 10.5L166.4 11" stroke-width="1.8"/>
<path class="j4" d="M166.4 11L166.5 11.2" stroke-width="1.8"/>
<path class="j7" d="M166.5 11.2L166.5 11.4" stroke-width="1.8"/>
<path class="j10" d="M166.5 11.4L166.6 11.7" stroke-width="1.8"/>
<path class="j16" d="M166.6 11.7L166.6 11.9" stroke-width="1.8"/>
<path class="j19" d="M166.6 11.9L166.8 12.4" stroke-width="1.8"/>
<path class="j22" d="M166.8 12.4L167 12.8" stroke-width="1.8"/>
<path class="j25" d="M167 12.8L168.5 14.6L170.7 16.3" stroke-width="1.8"/>
<path class="j28" d="M170.7 16.3L171.8 17" stroke-width="1.8"/>
<path class="j31" d="M171.8 17L172.9 17.6M228.2 29.6L229.3 29.7" stroke-width="1.8"/>
<path class="j34" d="M172.9 17.6L174.6 18.4M226 29.3L228.2 29.6" stroke-width="1.8"/>
<path class="j37" d="M174.6 18.4L176 19M221.6 28.7L226 29.3" stroke-width="1.8"/>
<path class="j40" d="M176 19L178.1 19.8M218.4 28.3L221.6 28.7" stroke-width="1.8"/>
<path class="j43" d="M178.1 19.8L180.9 20.7M214.2 27.7L218.4 28.3" stroke-width="1.8"/>
<path class="j46" d="M180.9 20.7L185.3 22M205.5 26.3L214.2 27.7" stroke-width="1.8"/>
<path class="j49" d="M185.3 22L194.2 24.2L205.5 26.3" stroke-width="1.8"/>
<circle cx="166.4" cy="10.5" r="4.7" stroke="#0f0" stroke-width="0.8"/>
</g>
<rect x="38.50" y="6.00" width="255.90" height="255.50" fill="none" stroke="#000" stroke-width="0.65"/>
<line x1="54.25" y1="261.50" x2="54.25" y2="258.90" stroke="#000" stroke-width="0.65"/>
<line x1="54.25" y1="6.00" x2="54.25" y2="8.60" stroke="#000" stroke-width="0.65"/>
<text x="50.95" y="275.20" font-size="10.67" text-anchor="middle">–50</text>
<line x1="76.68" y1="261.50" x2="76.68" y2="258.90" stroke="#000" stroke-width="0.65"/>
<line x1="76.68" y1="6.00" x2="76.68" y2="8.60" stroke="#000" stroke-width="0.65"/>
<text x="73.38" y="275.20" font-size="10.67" text-anchor="middle">–40</text>
<line x1="99.11" y1="261.50" x2="99.11" y2="258.90" stroke="#000" stroke-width="0.65"/>
<line x1="99.11" y1="6.00" x2="99.11" y2="8.60" stroke="#000" stroke-width="0.65"/>
<text x="95.81" y="275.20" font-size="10.67" text-anchor="middle">–30</text>
<line x1="121.54" y1="261.50" x2="121.54" y2="258.90" stroke="#000" stroke-width="0.65"/>
<line x1="121.54" y1="6.00" x2="121.54" y2="8.60" stroke="#000" stroke-width="0.65"/>
<text x="118.24" y="275.20" font-size="10.67" text-anchor="middle">–20</text>
<line x1="143.97" y1="261.50" x2="143.97" y2="258.90" stroke="#000" stroke-width="0.65"/>
<line x1="143.97" y1="6.00" x2="143.97" y2="8.60" stroke="#000" stroke-width="0.65"/>
<text x="140.67" y="275.20" font-size="10.67" text-anchor="middle">–10</text>
<line x1="166.40" y1="261.50" x2="166.40" y2="258.90" stroke="#000" stroke-width="0.65"/>
<line x1="166.40" y1="6.00" x2="166.40" y2="8.60" stroke="#000" stroke-width="0.65"/>
<text x="166.40" y="275.20" font-size="10.67" text-anchor="middle">0</text>
<line x1="188.83" y1="261.50" x2="188.83" y2="258.90" stroke="#000" stroke-width="0.65"/>
<line x1="188.83" y1="6.00" x2="188.83" y2="8.60" stroke="#000" stroke-width="0.65"/>
<text x="188.83" y="275.20" font-size="10.67" text-anchor="middle">10</text>
<line x1="211.26" y1="261.50" x2="211.26" y2="258.90" stroke="#000" stroke-width="0.65"/>
<line x1="211.26" y1="6.00" x2="211.26" y2="8.60" stroke="#000" stroke-width="0.65"/>
<text x="211.26" y="275.20" font-size="10.67" text-anchor="middle">20</text>
<line x1="233.69" y1="261.50" x2="233.69" y2="258.90" stroke="#000" stroke-width="0.65"/>
<line x1="233.69" y1="6.00" x2="233.69" y2="8.60" stroke="#000" stroke-width="0.65"/>
<text x="233.69" y="275.20" font-size="10.67" text-anchor="middle">30</text>
<line x1="256.12" y1="261.50" x2="256.12" y2="258.90" stroke="#000" stroke-width="0.65"/>
<line x1="256.12" y1="6.00" x2="256.12" y2="8.60" stroke="#000" stroke-width="0.65"/>
<text x="256.12" y="275.20" font-size="10.67" text-anchor="middle">40</text>
<line x1="278.55" y1="261.50" x2="278.55" y2="258.90" stroke="#000" stroke-width="0.65"/>
<line x1="278.55" y1="6.00" x2="278.55" y2="8.60" stroke="#000" stroke-width="0.65"/>
<text x="278.55" y="275.20" font-size="10.67" text-anchor="middle">50</text>
<line x1="38.50" y1="245.90" x2="41.10" y2="245.90" stroke="#000" stroke-width="0.65"/>
<line x1="294.40" y1="245.90" x2="291.80" y2="245.90" stroke="#000" stroke-width="0.65"/>
<text x="35.50" y="250.90" font-size="10.67" text-anchor="end">–50</text>
<line x1="38.50" y1="223.47" x2="41.10" y2="223.47" stroke="#000" stroke-width="0.65"/>
<line x1="294.40" y1="223.47" x2="291.80" y2="223.47" stroke="#000" stroke-width="0.65"/>
<text x="35.50" y="228.47" font-size="10.67" text-anchor="end">–40</text>
<line x1="38.50" y1="201.04" x2="41.10" y2="201.04" stroke="#000" stroke-width="0.65"/>
<line x1="294.40" y1="201.04" x2="291.80" y2="201.04" stroke="#000" stroke-width="0.65"/>
<text x="35.50" y="206.04" font-size="10.67" text-anchor="end">–30</text>
<line x1="38.50" y1="178.61" x2="41.10" y2="178.61" stroke="#000" stroke-width="0.65"/>
<line x1="294.40" y1="178.61" x2="291.80" y2="178.61" stroke="#000" stroke-width="0.65"/>
<text x="35.50" y="183.61" font-size="10.67" text-anchor="end">–20</text>
<line x1="38.50" y1="156.18" x2="41.10" y2="156.18" stroke="#000" stroke-width="0.65"/>
<line x1="294.40" y1="156.18" x2="291.80" y2="156.18" stroke="#000" stroke-width="0.65"/>
<text x="35.50" y="161.18" font-size="10.67" text-anchor="end">–10</text>
<line x1="38.50" y1="133.75" x2="41.10" y2="133.75" stroke="#000" stroke-width="0.65"/>
<line x1="294.40" y1="133.75" x2="291.80" y2="133.75" stroke="#000" stroke-width="0.65"/>
<text x="35.50" y="138.75" font-size="10.67" text-anchor="end">0</text>
<line x1="38.50" y1="111.32" x2="41.10" y2="111.32" stroke="#000" stroke-width="0.65"/>
<line x1="294.40" y1="111.32" x2="291.80" y2="111.32" stroke="#000" stroke-width="0.65"/>
<text x="35.50" y="116.32" font-size="10.67" text-anchor="end">10</text>
<line x1="38.50" y1="88.89" x2="41.10" y2="88.89" stroke="#000" stroke-width="0.65"/>
<line x1="294.40" y1="88.89" x2="291.80" y2="88.89" stroke="#000" stroke-width="0.65"/>
<text x="35.50" y="93.89" font-size="10.67" text-anchor="end">20</text>
<line x1="38.50" y1="66.46" x2="41.10" y2="66.46" stroke="#000" stroke-width="0.65"/>
<line x1="294.40" y1="66.46" x2="291.80" y2="66.46" stroke="#000" stroke-width="0.65"/>
<text x="35.50" y="71.46" font-size="10.67" text-anchor="end">30</text>
<line x1="38.50" y1="44.03" x2="41.10" y2="44.03" stroke="#000" stroke-width="0.65"/>
<line x1="294.40" y1="44.03" x2="291.80" y2="44.03" stroke="#000" stroke-width="0.65"/>
<text x="35.50" y="49.03" font-size="10.67" text-anchor="end">40</text>
<line x1="38.50" y1="21.60" x2="41.10" y2="21.60" stroke="#000" stroke-width="0.65"/>
<line x1="294.40" y1="21.60" x2="291.80" y2="21.60" stroke="#000" stroke-width="0.65"/>
<text x="35.50" y="26.60" font-size="10.67" text-anchor="end">50</text>
<text x="286.1" y="19.5" font-size="11.5" text-anchor="middle">(a)</text>
<text transform="translate(10.8,134.3) rotate(-90)" font-size="10.67" text-anchor="middle">Z [cm]</text>
<text x="137.0" y="287.3" font-size="10.67">R–R<tspan x="159.8" y="292.8" font-size="8">maj</tspan><tspan x="172.4" y="287.3"> [cm]</tspan></text>
<rect x="309.20" y="257.70" width="20.50" height="4.60" fill="#00008f" shape-rendering="crispEdges"/>
<rect x="309.20" y="253.71" width="20.50" height="4.60" fill="#00009f" shape-rendering="crispEdges"/>
<rect x="309.20" y="249.71" width="20.50" height="4.60" fill="#0000af" shape-rendering="crispEdges"/>
<rect x="309.20" y="245.72" width="20.50" height="4.60" fill="#0000bf" shape-rendering="crispEdges"/>
<rect x="309.20" y="241.72" width="20.50" height="4.60" fill="#0000cf" shape-rendering="crispEdges"/>
<rect x="309.20" y="237.73" width="20.50" height="4.60" fill="#0000df" shape-rendering="crispEdges"/>
<rect x="309.20" y="233.73" width="20.50" height="4.60" fill="#0000ef" shape-rendering="crispEdges"/>
<rect x="309.20" y="229.74" width="20.50" height="4.60" fill="#0000ff" shape-rendering="crispEdges"/>
<rect x="309.20" y="225.74" width="20.50" height="4.60" fill="#0010ff" shape-rendering="crispEdges"/>
<rect x="309.20" y="221.75" width="20.50" height="4.60" fill="#0020ff" shape-rendering="crispEdges"/>
<rect x="309.20" y="217.75" width="20.50" height="4.60" fill="#0030ff" shape-rendering="crispEdges"/>
<rect x="309.20" y="213.76" width="20.50" height="4.60" fill="#0040ff" shape-rendering="crispEdges"/>
<rect x="309.20" y="209.76" width="20.50" height="4.60" fill="#0050ff" shape-rendering="crispEdges"/>
<rect x="309.20" y="205.77" width="20.50" height="4.60" fill="#0060ff" shape-rendering="crispEdges"/>
<rect x="309.20" y="201.77" width="20.50" height="4.60" fill="#0070ff" shape-rendering="crispEdges"/>
<rect x="309.20" y="197.77" width="20.50" height="4.60" fill="#0080ff" shape-rendering="crispEdges"/>
<rect x="309.20" y="193.78" width="20.50" height="4.60" fill="#008fff" shape-rendering="crispEdges"/>
<rect x="309.20" y="189.78" width="20.50" height="4.60" fill="#009fff" shape-rendering="crispEdges"/>
<rect x="309.20" y="185.79" width="20.50" height="4.60" fill="#00afff" shape-rendering="crispEdges"/>
<rect x="309.20" y="181.79" width="20.50" height="4.60" fill="#00bfff" shape-rendering="crispEdges"/>
<rect x="309.20" y="177.80" width="20.50" height="4.60" fill="#00cfff" shape-rendering="crispEdges"/>
<rect x="309.20" y="173.80" width="20.50" height="4.60" fill="#00dfff" shape-rendering="crispEdges"/>
<rect x="309.20" y="169.81" width="20.50" height="4.60" fill="#00efff" shape-rendering="crispEdges"/>
<rect x="309.20" y="165.81" width="20.50" height="4.60" fill="#00ffff" shape-rendering="crispEdges"/>
<rect x="309.20" y="161.82" width="20.50" height="4.60" fill="#10ffef" shape-rendering="crispEdges"/>
<rect x="309.20" y="157.82" width="20.50" height="4.60" fill="#20ffdf" shape-rendering="crispEdges"/>
<rect x="309.20" y="153.83" width="20.50" height="4.60" fill="#30ffcf" shape-rendering="crispEdges"/>
<rect x="309.20" y="149.83" width="20.50" height="4.60" fill="#40ffbf" shape-rendering="crispEdges"/>
<rect x="309.20" y="145.84" width="20.50" height="4.60" fill="#50ffaf" shape-rendering="crispEdges"/>
<rect x="309.20" y="141.84" width="20.50" height="4.60" fill="#60ff9f" shape-rendering="crispEdges"/>
<rect x="309.20" y="137.85" width="20.50" height="4.60" fill="#70ff8f" shape-rendering="crispEdges"/>
<rect x="309.20" y="133.85" width="20.50" height="4.60" fill="#80ff80" shape-rendering="crispEdges"/>
<rect x="309.20" y="129.85" width="20.50" height="4.60" fill="#8fff70" shape-rendering="crispEdges"/>
<rect x="309.20" y="125.86" width="20.50" height="4.60" fill="#9fff60" shape-rendering="crispEdges"/>
<rect x="309.20" y="121.86" width="20.50" height="4.60" fill="#afff50" shape-rendering="crispEdges"/>
<rect x="309.20" y="117.87" width="20.50" height="4.60" fill="#bfff40" shape-rendering="crispEdges"/>
<rect x="309.20" y="113.87" width="20.50" height="4.60" fill="#cfff30" shape-rendering="crispEdges"/>
<rect x="309.20" y="109.88" width="20.50" height="4.60" fill="#dfff20" shape-rendering="crispEdges"/>
<rect x="309.20" y="105.88" width="20.50" height="4.60" fill="#efff10" shape-rendering="crispEdges"/>
<rect x="309.20" y="101.89" width="20.50" height="4.60" fill="#ffff00" shape-rendering="crispEdges"/>
<rect x="309.20" y="97.89" width="20.50" height="4.60" fill="#ffef00" shape-rendering="crispEdges"/>
<rect x="309.20" y="93.90" width="20.50" height="4.60" fill="#ffdf00" shape-rendering="crispEdges"/>
<rect x="309.20" y="89.90" width="20.50" height="4.60" fill="#ffcf00" shape-rendering="crispEdges"/>
<rect x="309.20" y="85.91" width="20.50" height="4.60" fill="#ffbf00" shape-rendering="crispEdges"/>
<rect x="309.20" y="81.91" width="20.50" height="4.60" fill="#ffaf00" shape-rendering="crispEdges"/>
<rect x="309.20" y="77.92" width="20.50" height="4.60" fill="#ff9f00" shape-rendering="crispEdges"/>
<rect x="309.20" y="73.92" width="20.50" height="4.60" fill="#ff8f00" shape-rendering="crispEdges"/>
<rect x="309.20" y="69.93" width="20.50" height="4.60" fill="#ff8000" shape-rendering="crispEdges"/>
<rect x="309.20" y="65.93" width="20.50" height="4.60" fill="#ff7000" shape-rendering="crispEdges"/>
<rect x="309.20" y="61.93" width="20.50" height="4.60" fill="#ff6000" shape-rendering="crispEdges"/>
<rect x="309.20" y="57.94" width="20.50" height="4.60" fill="#ff5000" shape-rendering="crispEdges"/>
<rect x="309.20" y="53.94" width="20.50" height="4.60" fill="#ff4000" shape-rendering="crispEdges"/>
<rect x="309.20" y="49.95" width="20.50" height="4.60" fill="#ff3000" shape-rendering="crispEdges"/>
<rect x="309.20" y="45.95" width="20.50" height="4.60" fill="#ff2000" shape-rendering="crispEdges"/>
<rect x="309.20" y="41.96" width="20.50" height="4.60" fill="#ff1000" shape-rendering="crispEdges"/>
<rect x="309.20" y="37.96" width="20.50" height="4.60" fill="#ff0000" shape-rendering="crispEdges"/>
<rect x="309.20" y="33.97" width="20.50" height="4.60" fill="#ef0000" shape-rendering="crispEdges"/>
<rect x="309.20" y="29.97" width="20.50" height="4.60" fill="#df0000" shape-rendering="crispEdges"/>
<rect x="309.20" y="25.98" width="20.50" height="4.60" fill="#cf0000" shape-rendering="crispEdges"/>
<rect x="309.20" y="21.98" width="20.50" height="4.60" fill="#bf0000" shape-rendering="crispEdges"/>
<rect x="309.20" y="17.99" width="20.50" height="4.60" fill="#af0000" shape-rendering="crispEdges"/>
<rect x="309.20" y="13.99" width="20.50" height="4.60" fill="#9f0000" shape-rendering="crispEdges"/>
<rect x="309.20" y="10.00" width="20.50" height="4.60" fill="#8f0000" shape-rendering="crispEdges"/>
<rect x="309.20" y="6.00" width="20.50" height="4.60" fill="#800000" shape-rendering="crispEdges"/>
<rect x="309.20" y="6.00" width="20.50" height="255.70" fill="none" stroke="#000" stroke-width="0.5" stroke-opacity="0.65"/>
<line x1="309.20" y1="252.30" x2="311.70" y2="252.30" stroke="#000" stroke-width="0.65" stroke-opacity="0.7"/>
<line x1="329.70" y1="252.30" x2="327.20" y2="252.30" stroke="#000" stroke-width="0.65" stroke-opacity="0.7"/>
<text x="332.30" y="256.90" font-size="10.67">500</text>
<line x1="309.20" y1="228.69" x2="311.70" y2="228.69" stroke="#000" stroke-width="0.65" stroke-opacity="0.7"/>
<line x1="329.70" y1="228.69" x2="327.20" y2="228.69" stroke="#000" stroke-width="0.65" stroke-opacity="0.7"/>
<text x="332.30" y="233.29" font-size="10.67">1000</text>
<line x1="309.20" y1="205.08" x2="311.70" y2="205.08" stroke="#000" stroke-width="0.65" stroke-opacity="0.7"/>
<line x1="329.70" y1="205.08" x2="327.20" y2="205.08" stroke="#000" stroke-width="0.65" stroke-opacity="0.7"/>
<text x="332.30" y="209.68" font-size="10.67">1500</text>
<line x1="309.20" y1="181.47" x2="311.70" y2="181.47" stroke="#000" stroke-width="0.65" stroke-opacity="0.7"/>
<line x1="329.70" y1="181.47" x2="327.20" y2="181.47" stroke="#000" stroke-width="0.65" stroke-opacity="0.7"/>
<text x="332.30" y="186.07" font-size="10.67">2000</text>
<line x1="309.20" y1="157.86" x2="311.70" y2="157.86" stroke="#000" stroke-width="0.65" stroke-opacity="0.7"/>
<line x1="329.70" y1="157.86" x2="327.20" y2="157.86" stroke="#000" stroke-width="0.65" stroke-opacity="0.7"/>
<text x="332.30" y="162.46" font-size="10.67">2500</text>
<line x1="309.20" y1="134.25" x2="311.70" y2="134.25" stroke="#000" stroke-width="0.65" stroke-opacity="0.7"/>
<line x1="329.70" y1="134.25" x2="327.20" y2="134.25" stroke="#000" stroke-width="0.65" stroke-opacity="0.7"/>
<text x="332.30" y="138.85" font-size="10.67">3000</text>
<line x1="309.20" y1="110.64" x2="311.70" y2="110.64" stroke="#000" stroke-width="0.65" stroke-opacity="0.7"/>
<line x1="329.70" y1="110.64" x2="327.20" y2="110.64" stroke="#000" stroke-width="0.65" stroke-opacity="0.7"/>
<text x="332.30" y="115.24" font-size="10.67">3500</text>
<line x1="309.20" y1="87.03" x2="311.70" y2="87.03" stroke="#000" stroke-width="0.65" stroke-opacity="0.7"/>
<line x1="329.70" y1="87.03" x2="327.20" y2="87.03" stroke="#000" stroke-width="0.65" stroke-opacity="0.7"/>
<text x="332.30" y="91.63" font-size="10.67">4000</text>
<line x1="309.20" y1="63.42" x2="311.70" y2="63.42" stroke="#000" stroke-width="0.65" stroke-opacity="0.7"/>
<line x1="329.70" y1="63.42" x2="327.20" y2="63.42" stroke="#000" stroke-width="0.65" stroke-opacity="0.7"/>
<text x="332.30" y="68.02" font-size="10.67">4500</text>
<line x1="309.20" y1="39.81" x2="311.70" y2="39.81" stroke="#000" stroke-width="0.65" stroke-opacity="0.7"/>
<line x1="329.70" y1="39.81" x2="327.20" y2="39.81" stroke="#000" stroke-width="0.65" stroke-opacity="0.7"/>
<text x="332.30" y="44.41" font-size="10.67">5000</text>
<line x1="309.20" y1="16.20" x2="311.70" y2="16.20" stroke="#000" stroke-width="0.65" stroke-opacity="0.7"/>
<line x1="329.70" y1="16.20" x2="327.20" y2="16.20" stroke="#000" stroke-width="0.65" stroke-opacity="0.7"/>
<text x="332.30" y="20.80" font-size="10.67">5500</text>
<text transform="translate(368.50,133.05) rotate(-90)" font-size="10.67" text-anchor="middle">Dust temperature [K]</text>
<line x1="463.39" y1="2.50" x2="463.39" y2="258.00" stroke="#000" stroke-width="0.5" stroke-dasharray="0.7 2.8" stroke-opacity="0.8" fill="none"/>
<line x1="490.55" y1="2.50" x2="490.55" y2="258.00" stroke="#000" stroke-width="0.5" stroke-dasharray="0.7 2.8" stroke-opacity="0.8" fill="none"/>
<line x1="517.72" y1="2.50" x2="517.72" y2="258.00" stroke="#000" stroke-width="0.5" stroke-dasharray="0.7 2.8" stroke-opacity="0.8" fill="none"/>
<line x1="544.88" y1="2.50" x2="544.88" y2="258.00" stroke="#000" stroke-width="0.5" stroke-dasharray="0.7 2.8" stroke-opacity="0.8" fill="none"/>
<line x1="572.05" y1="2.50" x2="572.05" y2="258.00" stroke="#000" stroke-width="0.5" stroke-dasharray="0.7 2.8" stroke-opacity="0.8" fill="none"/>
<line x1="599.21" y1="2.50" x2="599.21" y2="258.00" stroke="#000" stroke-width="0.5" stroke-dasharray="0.7 2.8" stroke-opacity="0.8" fill="none"/>
<line x1="626.38" y1="2.50" x2="626.38" y2="258.00" stroke="#000" stroke-width="0.5" stroke-dasharray="0.7 2.8" stroke-opacity="0.8" fill="none"/>
<line x1="653.54" y1="2.50" x2="653.54" y2="258.00" stroke="#000" stroke-width="0.5" stroke-dasharray="0.7 2.8" stroke-opacity="0.8" fill="none"/>
<line x1="680.71" y1="2.50" x2="680.71" y2="258.00" stroke="#000" stroke-width="0.5" stroke-dasharray="0.7 2.8" stroke-opacity="0.8" fill="none"/>
<line x1="444.00" y1="238.96" x2="700.00" y2="238.96" stroke="#000" stroke-width="0.5" stroke-dasharray="0.7 2.8" stroke-opacity="0.8" fill="none"/>
<line x1="444.00" y1="211.80" x2="700.00" y2="211.80" stroke="#000" stroke-width="0.5" stroke-dasharray="0.7 2.8" stroke-opacity="0.8" fill="none"/>
<line x1="444.00" y1="184.63" x2="700.00" y2="184.63" stroke="#000" stroke-width="0.5" stroke-dasharray="0.7 2.8" stroke-opacity="0.8" fill="none"/>
<line x1="444.00" y1="157.47" x2="700.00" y2="157.47" stroke="#000" stroke-width="0.5" stroke-dasharray="0.7 2.8" stroke-opacity="0.8" fill="none"/>
<line x1="444.00" y1="130.30" x2="700.00" y2="130.30" stroke="#000" stroke-width="0.5" stroke-dasharray="0.7 2.8" stroke-opacity="0.8" fill="none"/>
<line x1="444.00" y1="103.14" x2="700.00" y2="103.14" stroke="#000" stroke-width="0.5" stroke-dasharray="0.7 2.8" stroke-opacity="0.8" fill="none"/>
<line x1="444.00" y1="75.97" x2="700.00" y2="75.97" stroke="#000" stroke-width="0.5" stroke-dasharray="0.7 2.8" stroke-opacity="0.8" fill="none"/>
<line x1="444.00" y1="48.81" x2="700.00" y2="48.81" stroke="#000" stroke-width="0.5" stroke-dasharray="0.7 2.8" stroke-opacity="0.8" fill="none"/>
<line x1="444.00" y1="21.64" x2="700.00" y2="21.64" stroke="#000" stroke-width="0.5" stroke-dasharray="0.7 2.8" stroke-opacity="0.8" fill="none"/>
<circle cx="572.05" cy="130.3" r="124.96" fill="none" stroke="#000" stroke-width="0.65"/>
<circle cx="572.05" cy="130.3" r="65.20" fill="none" stroke="#000" stroke-width="0.65"/>
<circle cx="572.05" cy="130.3" r="95.08" fill="none" stroke="#000" stroke-width="0.55" stroke-dasharray="0.9 3.5" stroke-opacity="0.9"/>
<g fill="none" stroke-width="1.25" stroke-linecap="round" stroke-linejoin="round">
<circle class="rc" cx="659.0" cy="215.1" r="4.7"/>
<circle class="rc" cx="662.8" cy="209.8" r="4.7"/>
<circle class="rc" cx="649.5" cy="225.1" r="4.7"/>
<circle class="rc" cx="655.0" cy="220.1" r="4.7"/>
<circle class="rc" cx="657.6" cy="217.4" r="4.7"/>
<circle class="rc" cx="660.2" cy="217.5" r="4.7"/>
<circle class="rc" cx="656.0" cy="222.5" r="4.7"/>
<circle class="rc" cx="658.3" cy="220.0" r="4.7"/>
<circle class="rc" cx="647.5" cy="229.9" r="4.7"/>
<circle class="rc" cx="633.6" cy="232.7" r="4.7"/>
<circle class="rc" cx="652.8" cy="225.3" r="4.7"/>
<circle class="rc" cx="620.3" cy="244.4" r="4.7"/>
<circle class="rc" cx="626.3" cy="241.5" r="4.7"/>
<circle class="rc" cx="638.0" cy="229.9" r="4.7"/>
<circle class="rc" cx="612.9" cy="242.3" r="4.7"/>
<circle class="rc" cx="608.8" cy="246.4" r="4.7"/>
<circle class="rc" cx="615.8" cy="244.8" r="4.7"/>
<circle class="rc" cx="644.1" cy="230.8" r="4.7"/>
<circle class="rc" cx="629.8" cy="233.3" r="4.7"/>
<circle class="rc" cx="634.7" cy="237.7" r="4.7"/>
<circle class="rc" cx="629.6" cy="240.6" r="4.7"/>
<circle class="rc" cx="641.0" cy="231.5" r="4.7"/>
<circle class="rc" cx="631.5" cy="237.7" r="4.7"/>
<circle class="rc" cx="652.3" cy="222.4" r="4.7"/>
<path class="j31" d="M667.1 186.3L666.5 186.3"/>
<path class="j40" d="M666.5 186.3L666.2 186.3"/>
<path class="j49" d="M666.2 186.3L666 186.3"/>
<path class="j55" d="M666 186.3L665.8 186.3"/>
<path class="j58" d="M665.8 186.3L665.6 186.3"/>
<path class="j31" d="M667.1 186.3L666.4 186.7"/>
<path class="j34" d="M666.4 186.7L666.2 186.9"/>
<path class="j40" d="M666.2 186.9L665.9 187.1"/>
<path class="j49" d="M665.9 187.1L665.7 187.2"/>
<path class="j55" d="M665.7 187.2L665.4 187.4"/>
<path class="j58" d="M665.4 187.4L665.2 187.6"/>
<path class="j31" d="M667.1 186.3L666.2 186.6"/>
<path class="j34" d="M666.2 186.6L665.9 186.7"/>
<path class="j37" d="M665.9 186.7L665.6 186.8"/>
<path class="j40" d="M665.6 186.8L665.3 186.9"/>
<path class="j46" d="M665.3 186.9L665 187"/>
<path class="j52" d="M665 187L664.7 187.1"/>
<path class="j55" d="M664.7 187.1L664.4 187.3"/>
<path class="j58" d="M664.4 187.3L664.1 187.4"/>
<path class="j61" d="M664.1 187.4L663.8 187.5"/>
<path class="j31" d="M667.1 186.3L666.6 186.8"/>
<path class="j34" d="M666.6 186.8L666.4 187"/>
<path class="j37" d="M666.4 187L666.3 187.2"/>
<path class="j43" d="M666.3 187.2L666.1 187.4"/>
<path class="j52" d="M666.1 187.4L665.9 187.6"/>
<path class="j55" d="M665.9 187.6L665.8 187.8"/>
<path class="j61" d="M665.8 187.8L665.6 188"/>
<path class="j31" d="M667.1 186.3L666 187.5"/>
<path class="j34" d="M666 187.5L665.8 187.8"/>
<path class="j37" d="M665.8 187.8L665.5 188.2"/>
<path class="j40" d="M665.5 188.2L665.2 188.5"/>
<path class="j43" d="M665.2 188.5L665 188.8"/>
<path class="j46" d="M665 188.8L664.7 189.1"/>
<path class="j49" d="M664.7 189.1L664.2 189.7"/>
<path class="j55" d="M664.2 189.7L663.9 190.1"/>
<path class="j58" d="M663.9 190.1L663.4 190.7"/>
<path class="j61" d="M663.4 190.7L663.1 191"/>
<path class="j31" d="M667.1 186.3L666.4 187.5M666.1 187.9L665.6 188.7"/>
<path class="j28" d="M666.4 187.5L666.1 187.9"/>
<path class="j34" d="M665.6 188.7L665.3 189.1"/>
<path class="j37" d="M665.3 189.1L664.8 189.9"/>
<path class="j40" d="M664.8 189.9L664.5 190.3"/>
<path class="j43" d="M664.5 190.3L664.3 190.7"/>
<path class="j46" d="M664.3 190.7L663.8 191.5"/>
<path class="j49" d="M663.8 191.5L663.2 192.3"/>
<path class="j52" d="M663.2 192.3L662.7 193.1"/>
<path class="j55" d="M662.7 193.1L662.2 193.9"/>
<path class="j58" d="M662.2 193.9L662 194.3"/>
<path class="j61" d="M662 194.3L661.4 195.1"/>
<path class="j31" d="M667.1 186.3L666.5 187.5"/>
<path class="j34" d="M666.5 187.5L666.4 187.8"/>
<path class="j37" d="M666.4 187.8L666.3 188.1"/>
<path class="j40" d="M666.3 188.1L666.1 188.4"/>
<path class="j43" d="M666.1 188.4L666 188.7"/>
<path class="j46" d="M666 188.7L665.8 189"/>
<path class="j49" d="M665.8 189L665.7 189.3"/>
<path class="j52" d="M665.7 189.3L665.5 189.6"/>
<path class="j55" d="M665.5 189.6L665.4 189.9"/>
<path class="j58" d="M665.4 189.9L665.2 190.2"/>
<path class="j61" d="M665.2 190.2L665.1 190.5"/>
<path class="j31" d="M667.1 186.3L666.5 188"/>
<path class="j34" d="M666.5 188L666.4 188.4"/>
<path class="j37" d="M666.4 188.4L666.3 188.7"/>
<path class="j40" d="M666.3 188.7L666.2 189.1"/>
<path class="j43" d="M666.2 189.1L666 189.8"/>
<path class="j46" d="M666 189.8L665.8 190.2"/>
<path class="j49" d="M665.8 190.2L665.7 190.5"/>
<path class="j52" d="M665.7 190.5L665.6 190.9"/>
<path class="j55" d="M665.6 190.9L665.5 191.2"/>
<path class="j58" d="M665.5 191.2L665.4 191.6"/>
<path class="j61" d="M665.4 191.6L665.2 191.9"/>
<path class="j31" d="M667.1 186.3L666.8 187.4"/>
<path class="j34" d="M666.8 187.4L666.7 187.6"/>
<path class="j37" d="M666.7 187.6L666.6 187.9"/>
<path class="j40" d="M666.6 187.9L666.5 188.2"/>
<path class="j43" d="M666.5 188.2L666.4 188.5"/>
<path class="j46" d="M666.4 188.5L666.3 188.7"/>
<path class="j49" d="M666.3 188.7L666.3 189"/>
<path class="j52" d="M666.3 189L666.1 189.6"/>
<path class="j55" d="M666.1 189.6L666 189.8"/>
<path class="j58" d="M666 189.8L665.9 190.1"/>
<path class="j61" d="M665.9 190.1L665.7 190.7"/>
<path class="j31" d="M667.1 186.3L666.6 187.5M666.3 188.4L666.2 188.8"/>
<path class="j28" d="M666.6 187.5L666.3 188.4"/>
<path class="j34" d="M666.2 188.8L665.9 189.6"/>
<path class="j37" d="M665.9 189.6L665.7 190"/>
<path class="j40" d="M665.7 190L665.5 190.5"/>
<path class="j43" d="M665.5 190.5L665.2 191.3"/>
<path class="j46" d="M665.2 191.3L664.9 192.1"/>
<path class="j49" d="M664.9 192.1L664.7 192.6"/>
<path class="j52" d="M664.7 192.6L664.3 193.8"/>
<path class="j55" d="M664.3 193.8L663.5 195.9"/>
<path class="j58" d="M663.5 195.9L662.7 198"/>
<path class="j61" d="M662.7 198L662.2 199.3"/>
<path class="j31" d="M667.1 186.3L666.9 187.1M666.4 188.3L666.3 188.7"/>
<path class="j28" d="M666.9 187.1L666.4 188.3"/>
<path class="j34" d="M666.3 188.7L666.2 189.1"/>
<path class="j37" d="M666.2 189.1L665.9 189.9"/>
<path class="j40" d="M665.9 189.9L665.8 190.4"/>
<path class="j43" d="M665.8 190.4L665.5 191.2"/>
<path class="j46" d="M665.5 191.2L665.4 191.6"/>
<path class="j49" d="M665.4 191.6L665.1 192.4"/>
<path class="j52" d="M665.1 192.4L664.7 193.6"/>
<path class="j55" d="M664.7 193.6L664.1 195.3"/>
<path class="j58" d="M664.1 195.3L663.9 196.1"/>
<path class="j61" d="M663.9 196.1L663.6 196.9"/>
<path class="j31" d="M667.1 186.3L666.9 187.2M666.5 189.4L666.3 190.3"/>
<path class="j28" d="M666.9 187.2L666.5 189.4"/>
<path class="j34" d="M666.3 190.3L666.2 190.8"/>
<path class="j37" d="M666.2 190.8L665.9 192.1"/>
<path class="j40" d="M665.9 192.1L665.8 193.1"/>
<path class="j43" d="M665.8 193.1L665.6 194"/>
<path class="j46" d="M665.6 194L665.2 195.8"/>
<path class="j49" d="M665.2 195.8L665.1 196.2"/>
<path class="j52" d="M665.1 196.2L665 196.7"/>
<path class="j55" d="M665 196.7L664.9 197.1"/>
<path class="j58" d="M664.9 197.1L664.8 197.6"/>
<path class="j61" d="M664.8 197.6L664.7 198"/>
<path class="j31" d="M667.1 186.3L666.8 187.5M666.6 187.9L666.4 188.8"/>
<path class="j28" d="M666.8 187.5L666.6 187.9"/>
<path class="j34" d="M666.4 188.8L666.3 189.2"/>
<path class="j37" d="M666.3 189.2L666 190"/>
<path class="j40" d="M666 190L665.9 190.4"/>
<path class="j43" d="M665.9 190.4L665.6 191.2"/>
<path class="j46" d="M665.6 191.2L665.5 191.7"/>
<path class="j49" d="M665.5 191.7L665.3 192.5"/>
<path class="j52" d="M665.3 192.5L664.9 193.7"/>
<path class="j55" d="M664.9 193.7L664.3 195.8"/>
<path class="j58" d="M664.3 195.8L663.9 197.1"/>
<path class="j61" d="M663.9 197.1L663.6 197.9"/>
<path class="j31" d="M667.1 186.3L667 187.3M667 187.7L666.9 188.1"/>
<path class="j28" d="M667 187.3L667 187.7"/>
<path class="j34" d="M666.9 188.1L666.9 188.4"/>
<path class="j37" d="M666.9 188.4L666.8 189.1"/>
<path class="j40" d="M666.8 189.1L666.7 189.5"/>
<path class="j43" d="M666.7 189.5L666.7 189.9"/>
<path class="j46" d="M666.7 189.9L666.6 190.6"/>
<path class="j49" d="M666.6 190.6L666.6 190.9"/>
<path class="j52" d="M666.6 190.9L666.5 191.7"/>
<path class="j55" d="M666.5 191.7L666.3 193.5"/>
<path class="j58" d="M666.3 193.5L666.1 194.6"/>
<path class="j61" d="M666.1 194.6L666 195.6"/>
<path class="j31" d="M667.1 186.3L666.4 187.6M665.5 189.4L665.2 189.8"/>
<path class="j28" d="M666.4 187.6L665.5 189.4"/>
<path class="j34" d="M665.2 189.8L664.7 190.7"/>
<path class="j37" d="M664.7 190.7L664.3 191.6"/>
<path class="j40" d="M664.3 191.6L663.8 192.5"/>
<path class="j43" d="M663.8 192.5L663.3 193.4"/>
<path class="j46" d="M663.3 193.4L662.8 194.3"/>
<path class="j49" d="M662.8 194.3L662.1 195.6"/>
<path class="j52" d="M662.1 195.6L661.2 197.4"/>
<path class="j55" d="M661.2 197.4L658.8 201.9"/>
<path class="j58" d="M658.8 201.9L656.2 206.8"/>
<path class="j61" d="M656.2 206.8L655.5 208.2"/>
<path class="j31" d="M667.1 186.3L667 187.1M666.7 188.3L666.6 188.7"/>
<path class="j28" d="M667 187.1L666.7 188.3"/>
<path class="j34" d="M666.6 188.7L666.5 189.5"/>
<path class="j37" d="M666.5 189.5L666.4 189.9"/>
<path class="j40" d="M666.4 189.9L666.3 190.3"/>
<path class="j43" d="M666.3 190.3L666.2 191.1"/>
<path class="j46" d="M666.2 191.1L666 191.9"/>
<path class="j49" d="M666 191.9L665.8 192.7"/>
<path class="j52" d="M665.8 192.7L665.6 193.9"/>
<path class="j55" d="M665.6 193.9L665 196.7"/>
<path class="j58" d="M665 196.7L664.5 199.5"/>
<path class="j61" d="M664.5 199.5L664.2 200.7"/>
<path class="j31" d="M667.1 186.3L667.1 187.4M667 187.7L667 188.1"/>
<path class="j28" d="M667.1 187.4L667 187.7"/>
<path class="j34" d="M667 188.1L667 188.8"/>
<path class="j37" d="M667 188.8L666.9 189.2"/>
<path class="j40" d="M666.9 189.2L666.9 189.6"/>
<path class="j43" d="M666.9 189.6L666.9 190.3"/>
<path class="j46" d="M666.9 190.3L666.8 190.7"/>
<path class="j49" d="M666.8 190.7L666.8 191.4"/>
<path class="j52" d="M666.8 191.4L666.7 192.5"/>
<path class="j55" d="M666.7 192.5L666.6 194.4"/>
<path class="j58" d="M666.6 194.4L666.4 196.6"/>
<path class="j61" d="M666.4 196.6L666.4 197.7"/>
<path class="j31" d="M667.1 186.3L666.8 187.1M666.3 188.4L666 189.3"/>
<path class="j28" d="M666.8 187.1L666.3 188.4"/>
<path class="j34" d="M666 189.3L665.9 189.7"/>
<path class="j37" d="M665.9 189.7L665.6 190.6"/>
<path class="j40" d="M665.6 190.6L665.4 191"/>
<path class="j43" d="M665.4 191L665.1 191.9"/>
<path class="j46" d="M665.1 191.9L664.8 192.7"/>
<path class="j49" d="M664.8 192.7L664.4 193.6"/>
<path class="j52" d="M664.4 193.6L663.8 195.3"/>
<path class="j55" d="M663.8 195.3L662.7 198.3"/>
<path class="j58" d="M662.7 198.3L662.1 200"/>
<path class="j61" d="M662.1 200L661.6 201.3"/>
<path class="j31" d="M667.1 186.3L667 187.1M666.7 188.3L666.7 188.7"/>
<path class="j28" d="M667 187.1L666.7 188.3"/>
<path class="j34" d="M666.7 188.7L666.5 189.5"/>
<path class="j37" d="M666.5 189.5L666.4 189.9"/>
<path class="j40" d="M666.4 189.9L666.4 190.3"/>
<path class="j43" d="M666.4 190.3L666.2 191.1"/>
<path class="j46" d="M666.2 191.1L666.1 191.9"/>
<path class="j49" d="M666.1 191.9L665.9 192.7"/>
<path class="j52" d="M665.9 192.7L665.7 193.9"/>
<path class="j55" d="M665.7 193.9L665.1 196.7"/>
<path class="j58" d="M665.1 196.7L664.8 198.3"/>
<path class="j61" d="M664.8 198.3L664.7 199.1"/>
<path class="j31" d="M667.1 186.3L667 187.1M666.8 188.3L666.8 188.7"/>
<path class="j28" d="M667 187.1L666.8 188.3"/>
<path class="j34" d="M666.8 188.7L666.7 189.5"/>
<path class="j37" d="M666.7 189.5L666.6 189.9"/>
<path class="j40" d="M666.6 189.9L666.5 190.7"/>
<path class="j43" d="M666.5 190.7L666.4 191.1"/>
<path class="j46" d="M666.4 191.1L666.3 191.9"/>
<path class="j49" d="M666.3 191.9L666.2 192.7"/>
<path class="j52" d="M666.2 192.7L666 194.3"/>
<path class="j55" d="M666 194.3L665.6 197.1"/>
<path class="j58" d="M665.6 197.1L665.4 197.9"/>
<path class="j61" d="M665.4 197.9L665.3 198.7"/>
<path class="j31" d="M667.1 186.3L666.9 187.2M665.3 192.6L664.9 194.1M660.5 209.8L660.1 211.3M656.3 216.5L655.9 216.7"/>
<path class="j28" d="M666.9 187.2L666 190.2M665.7 191.2L665.3 192.6M660.1 211.3L659.4 213.7M656.7 216.3L656.3 216.5"/>
<path class="j25" d="M666 190.2L665.7 191.2M659.4 213.7L659 215.1L656.7 216.3"/>
<path class="j34" d="M664.9 194.1L664.2 196.6M661 207.8L660.5 209.8M655.9 216.7L655.6 216.9"/>
<path class="j37" d="M664.2 196.6L661 207.8M655.6 216.9L655.2 217.1"/>
<path class="j46" d="M655.2 217.1L654.8 217.3"/>
<path class="j52" d="M654.8 217.3L654.4 217.5"/>
<path class="j55" d="M654.4 217.5L654 217.7"/>
<path class="j58" d="M654 217.7L653.7 217.9"/>
<path class="j31" d="M667.1 186.3L666.9 187.2M665.6 194.7L663.9 203.6M661 211.1L660.7 211.3"/>
<path class="j28" d="M666.9 187.2L666.3 190.7M666 192.2L665.6 194.7M663.9 203.6L663.3 207M661.3 210.9L661 211.1"/>
<path class="j25" d="M666.3 190.7L666 192.2M663.3 207L662.8 209.8L661.3 210.9"/>
<path class="j34" d="M660.7 211.3L660.4 211.5"/>
<path class="j37" d="M660.4 211.5L660.1 211.7"/>
<path class="j40" d="M660.1 211.7L659.7 211.9"/>
<path class="j43" d="M659.7 211.9L659.1 212.3"/>
<path class="j49" d="M659.1 212.3L658.8 212.5"/>
<path class="j55" d="M658.8 212.5L658.5 212.8"/>
<path class="j58" d="M658.5 212.8L658.2 213"/>
<path class="j61" d="M658.2 213L657.9 213.2"/>
<path class="j31" d="M667.1 186.3L666.5 187.7M665 191L664.6 191.9M650.6 222.7L650 224.1M646.8 225.9L646.3 226.1"/>
<path class="j28" d="M666.5 187.7L665 191M650 224.1L649.5 225.1L648.6 225.3M647.2 225.8L646.8 225.9"/>
<path class="j34" d="M664.6 191.9L663.9 193.4M651 221.7L650.6 222.7M646.3 226.1L645.8 226.2"/>
<path class="j37" d="M663.9 193.4L663.3 194.8M651.7 220.3L651 221.7M645.8 226.2L645.4 226.3"/>
<path class="j40" d="M663.3 194.8L662.4 196.7M652.3 218.9L651.7 220.3M645.4 226.3L644.5 226.6"/>
<path class="j43" d="M662.4 196.7L661.6 198.6M653.2 217L652.3 218.9"/>
<path class="j46" d="M661.6 198.6L660 201.9M654.5 214.2L653.2 217"/>
<path class="j49" d="M660 201.9L654.5 214.2M644.5 226.6L644 226.8"/>
<path class="j25" d="M648.6 225.3L647.2 225.8"/>
<path class="j52" d="M644 226.8L643.5 226.9"/>
<path class="j58" d="M643.5 226.9L643.1 227"/>
<path class="j61" d="M643.1 227L642.6 227.2"/>
<path class="j31" d="M667.1 186.3L666.6 187.7M665.2 191.6L664.9 192.5M656.1 217.1L655.5 218.6M652.4 221L651.9 221.2"/>
<path class="j28" d="M666.6 187.7L665.2 191.6M655.5 218.6L655 220.1L654.6 220.2M652.8 220.9L652.4 221"/>
<path class="j34" d="M664.9 192.5L664.4 194M656.6 215.7L656.1 217.1M651.9 221.2L651.5 221.4"/>
<path class="j37" d="M664.4 194L663.8 195.4M657.1 214.2L656.6 215.7M651.5 221.4L651 221.5"/>
<path class="j40" d="M663.8 195.4L663 197.8M658 211.8L657.1 214.2M651 221.5L650.6 221.7"/>
<path class="j43" d="M663 197.8L661.2 202.7M659.7 207L658 211.8M650.6 221.7L650.2 221.8"/>
<path class="j46" d="M661.2 202.7L659.7 207"/>
<path class="j25" d="M654.6 220.2L652.8 220.9"/>
<path class="j49" d="M650.2 221.8L649.7 222"/>
<path class="j52" d="M649.7 222L649.3 222.2"/>
<path class="j58" d="M649.3 222.2L648.8 222.3"/>
<path class="j61" d="M648.8 222.3L648.4 222.5"/>
<path class="j31" d="M667.1 186.3L666.5 187.7M664.7 191.5L664.2 192.4M649.8 222.7L649.2 224.1M646 226L645.5 226.2"/>
<path class="j28" d="M666.5 187.7L664.7 191.5M649.2 224.1L648.7 225.1L647.8 225.4M646.4 225.9L646 226"/>
<path class="j34" d="M664.2 192.4L663.8 193.3M650.5 221.2L649.8 222.7M645.5 226.2L645 226.3"/>
<path class="j37" d="M663.8 193.3L662.9 195.2M651 220.3L650.5 221.2M645 226.3L644.1 226.6"/>
<path class="j40" d="M662.9 195.2L662 197.1M651.9 218.4L651 220.3M644.1 226.6L643.7 226.8"/>
<path class="j43" d="M662 197.1L660.8 199.5M653 216L651.9 218.4"/>
<path class="j46" d="M660.8 199.5L658.8 203.7M655 211.8L653 216M643.7 226.8L643.2 226.9"/>
<path class="j49" d="M658.8 203.7L655 211.8"/>
<path class="j25" d="M647.8 225.4L646.4 225.9"/>
<path class="j52" d="M643.2 226.9L642.8 227.1"/>
<path class="j58" d="M642.8 227.1L642.3 227.2"/>
<path class="j61" d="M642.3 227.2L641.9 227.4"/>
<path class="j31" d="M667.1 186.3L666.7 187.2M664.7 191.5L664.2 192.4M650 222.6L649.3 224M645.2 227L644.7 227.2"/>
<path class="j28" d="M666.7 187.2L664.7 191.5M649.3 224L648.6 225.5M645.6 226.8L645.2 227"/>
<path class="j34" d="M664.2 192.4L663.6 193.8M650.4 221.7L650 222.6M644.7 227.2L644.3 227.4"/>
<path class="j37" d="M663.6 193.8L662.9 195.2M651.1 220.2L650.4 221.7M644.3 227.4L643.5 227.7"/>
<path class="j40" d="M662.9 195.2L661.8 197.6M651.8 218.8L651.1 220.2M643.5 227.7L643 227.9"/>
<path class="j43" d="M661.8 197.6L660.7 199.9M653.1 216L651.8 218.8M643 227.9L642.6 228.1"/>
<path class="j46" d="M660.7 199.9L658.7 204.2M655.1 211.7L653.1 216M642.6 228.1L641.7 228.5"/>
<path class="j49" d="M658.7 204.2L655.1 211.7M641.7 228.5L641.3 228.7"/>
<path class="j25" d="M648.6 225.5L645.6 226.8"/>
<path class="j52" d="M641.3 228.7L640.9 228.9"/>
<path class="j55" d="M640.9 228.9L640.4 229.1"/>
<path class="j58" d="M640.4 229.1L640 229.3"/>
<path class="j61" d="M640 229.3L639.6 229.5"/>
<path class="j31" d="M667.1 186.3L666.5 187.7M665.2 190.5L664.8 191.4M649.1 225.6L648.5 226.9M646.2 227.1L645.7 227.1"/>
<path class="j28" d="M666.5 187.7L665.2 190.5M648.5 226.9L646.2 227.1"/>
<path class="j34" d="M664.8 191.4L664.3 192.3M649.8 224.2L649.1 225.6M645.7 227.1L645.3 227.1"/>
<path class="j37" d="M664.3 192.3L663.9 193.3M650.2 223.2L649.8 224.2M645.3 227.1L644.8 227.1"/>
<path class="j40" d="M663.9 193.3L663.3 194.7M650.6 222.3L650.2 223.2M644.8 227.1L644.3 227.2"/>
<path class="j43" d="M663.3 194.7L662.4 196.6M651.3 220.9L650.6 222.3"/>
<path class="j46" d="M662.4 196.6L661.6 198.4M652.1 219L651.3 220.9M644.3 227.2L643.9 227.2"/>
<path class="j49" d="M661.6 198.4L660.3 201.2M653.2 216.7L652.1 219M643.9 227.2L643.4 227.2"/>
<path class="j52" d="M660.3 201.2L653.2 216.7"/>
<path class="j55" d="M643.4 227.2L643 227.2"/>
<path class="j58" d="M643 227.2L642.5 227.3"/>
<path class="j61" d="M642.5 227.3L642 227.3"/>
<path class="j31" d="M667.1 186.3L666.8 187.7M665.9 191.1L665.6 192M660.1 213.3L659.6 215.2M656.9 217.6L656.1 218"/>
<path class="j28" d="M666.8 187.7L665.9 191.1M659.6 215.2L659.3 216.4L658.5 216.8M657.3 217.4L656.9 217.6"/>
<path class="j34" d="M665.6 192L665.2 193.5M660.4 212.3L660.1 213.3M656.1 218L655.7 218.2"/>
<path class="j37" d="M665.2 193.5L664.9 194.9M660.7 210.9L660.4 212.3M655.7 218.2L655.3 218.4"/>
<path class="j40" d="M664.9 194.9L664.1 197.8M661.4 208.5L660.7 210.9M655.3 218.4L654.9 218.6"/>
<path class="j43" d="M664.1 197.8L661.4 208.5M654.9 218.6L654.5 218.7"/>
<path class="j25" d="M658.5 216.8L657.3 217.4"/>
<path class="j46" d="M654.5 218.7L653.7 219.1"/>
<path class="j49" d="M653.7 219.1L653.3 219.3"/>
<path class="j52" d="M653.3 219.3L652.9 219.5"/>
<path class="j55" d="M652.9 219.5L652.5 219.7"/>
<path class="j58" d="M652.5 219.7L652.1 219.9"/>
<path class="j61" d="M652.1 219.9L651.7 220.1"/>
<path class="j31" d="M667.1 186.3L666.9 187.2M665.7 191.6L665.5 192.6M660.3 212.4L659.9 213.9M657.3 216.9L656.9 217.1"/>
<path class="j28" d="M666.9 187.2L665.7 191.6M659.9 213.9L659.3 216.1M657.6 216.8L657.3 216.9"/>
<path class="j34" d="M665.5 192.6L665.1 194M660.5 211.4L660.3 212.4M656.9 217.1L656.6 217.2"/>
<path class="j37" d="M665.1 194L664.5 196.4M661 209.5L660.5 211.4M656.6 217.2L656.2 217.4"/>
<path class="j40" d="M664.5 196.4L663.5 200.3M662.3 204.7L661 209.5M656.2 217.4L655.9 217.5"/>
<path class="j43" d="M663.5 200.3L662.3 204.7M655.9 217.5L655.6 217.6"/>
<path class="j25" d="M659.3 216.1L657.6 216.8"/>
<path class="j46" d="M655.6 217.6L654.9 217.9"/>
<path class="j49" d="M654.9 217.9L654.5 218.1"/>
<path class="j52" d="M654.5 218.1L653.5 218.5"/>
<path class="j55" d="M653.5 218.5L653.2 218.6"/>
<path class="j58" d="M653.2 218.6L652.8 218.8"/>
<path class="j61" d="M652.8 218.8L652.1 219.1"/>
<path class="j31" d="M667.1 186.3L666.7 187.7M666.1 189.5L665.8 190.5M656.1 220.8L655.8 221.8L655.4 221.8M653.6 222L653.2 222.1"/>
<path class="j28" d="M666.7 187.7L666.1 189.5M655.4 221.8L653.6 222"/>
<path class="j34" d="M665.8 190.5L665.5 191.4M656.4 219.9L656.1 220.8M653.2 222.1L652.8 222.1"/>
<path class="j37" d="M665.5 191.4L665.2 192.3M656.7 219L656.4 219.9M652.8 222.1L652.3 222.2"/>
<path class="j40" d="M665.2 192.3L664.7 193.7M657 218L656.7 219M652.3 222.2L651.9 222.2"/>
<path class="j43" d="M664.7 193.7L664.3 195.1M657.4 216.6L657 218"/>
<path class="j46" d="M664.3 195.1L663.8 196.5M657.9 215.2L657.4 216.6M651.9 222.2L651.5 222.3"/>
<path class="j49" d="M663.8 196.5L663.1 198.9M658.6 212.9L657.9 215.2"/>
<path class="j52" d="M663.1 198.9L661.3 204.5M660.6 206.8L658.6 212.9M651.5 222.3L651 222.3"/>
<path class="j55" d="M661.3 204.5L660.6 206.8"/>
<path class="j58" d="M651 222.3L650.6 222.4"/>
<path class="j61" d="M650.6 222.4L650.2 222.4"/>
<path class="j31" d="M667.1 186.3L667 187.2M666.3 192.6L666.1 193.5M664.6 205.1L664.4 206.6M661.5 212L661.1 212.2"/>
<path class="j28" d="M667 187.2L666.6 190.1M666.5 190.6L666.3 192.6M664.4 206.6L664 209M661.8 211.8L661.5 212"/>
<path class="j25" d="M666.6 190.1L666.5 190.6M664 209L663.9 210.3L661.8 211.8"/>
<path class="j34" d="M666.1 193.5L665.8 196.4M664.9 202.7L664.6 205.1M661.1 212.2L660.4 212.7"/>
<path class="j37" d="M665.8 196.4L664.9 202.7M660.4 212.7L660.1 212.9"/>
<path class="j40" d="M660.1 212.9L659.7 213.2"/>
<path class="j43" d="M659.7 213.2L659.4 213.4"/>
<path class="j46" d="M659.4 213.4L658.7 213.9"/>
<path class="j49" d="M658.7 213.9L658 214.3"/>
<path class="j52" d="M658 214.3L657 215.1"/>
<path class="j55" d="M657 215.1L655.2 216.2"/>
<path class="j58" d="M655.2 216.2L654.6 216.7"/>
<path class="j61" d="M654.6 216.7L653.9 217.2"/>
<path class="j31" d="M667.1 186.3L666.5 187.7M665.4 190L665 190.9M649.2 225.9L648.6 227.2M646.5 227.5L646.1 227.6"/>
<path class="j28" d="M666.5 187.7L665.4 190M648.6 227.2L646.5 227.5"/>
<path class="j34" d="M665 190.9L664.6 191.9M649.6 225L649.2 225.9M646.1 227.6L645.7 227.6"/>
<path class="j37" d="M664.6 191.9L664 193.3M650 224.1L649.6 225M645.7 227.6L644.8 227.8"/>
<path class="j40" d="M664 193.3L663.5 194.2M650.5 223.1L650 224.1M644.8 227.8L644.4 227.8"/>
<path class="j43" d="M663.5 194.2L662.7 196.1M651.1 221.7L650.5 223.1M644.4 227.8L644 227.9"/>
<path class="j46" d="M662.7 196.1L662.1 197.5M651.7 220.3L651.1 221.7M644 227.9L643.6 228"/>
<path class="j49" d="M662.1 197.5L661 199.8M652.8 218L651.7 220.3M643.6 228L643.2 228"/>
<path class="j52" d="M661 199.8L659.1 204M654.5 214.3L652.8 218M643.2 228L642.7 228.1"/>
<path class="j55" d="M659.1 204L654.5 214.3"/>
<path class="j58" d="M642.7 228.1L641.9 228.2"/>
<path class="j61" d="M641.9 228.2L641.5 228.3"/>
<path class="j31" d="M667.1 186.3L666.7 187.7M665.5 191.6L665.2 192.6M658.6 213.9L658.2 215.4M655.6 218.3L655.3 218.4"/>
<path class="j28" d="M666.7 187.7L665.5 191.6M658.2 215.4L657.6 217.4M655.9 218.1L655.6 218.3"/>
<path class="j34" d="M665.2 192.6L664.7 194M659.1 212.5L658.6 213.9M655.3 218.4L654.9 218.6"/>
<path class="j37" d="M664.7 194L664.1 196M659.6 210.5L659.1 212.5M654.9 218.6L654.6 218.8"/>
<path class="j40" d="M664.1 196L662.9 199.9M660.8 206.7L659.6 210.5M654.6 218.8L654.3 218.9"/>
<path class="j43" d="M662.9 199.9L660.8 206.7M654.3 218.9L653.6 219.2"/>
<path class="j25" d="M657.6 217.4L655.9 218.1"/>
<path class="j46" d="M653.6 219.2L653.3 219.4"/>
<path class="j49" d="M653.3 219.4L652.7 219.7"/>
<path class="j52" d="M652.7 219.7L652 220"/>
<path class="j55" d="M652 220L650.7 220.6"/>
<path class="j58" d="M650.7 220.6L650 220.9"/>
<path class="j61" d="M650 220.9L649.1 221.4"/>
<path class="j31" d="M667.1 186.3L667 187.2M666.3 193.1L666.2 194.5M665.1 203.3L664.9 204.7M662.5 210.5L662.2 210.7"/>
<path class="j28" d="M667 187.2L666.7 190.1M666.6 191.1L666.3 193.1M664.9 204.7L664.6 207.6M662.8 210.3L662.5 210.5"/>
<path class="j25" d="M666.7 190.1L666.6 191.1M664.6 207.6L664.4 209.2L662.8 210.3"/>
<path class="j34" d="M666.2 194.5L665.1 203.3M662.2 210.7L662 210.9"/>
<path class="j37" d="M662 210.9L661.7 211.1"/>
<path class="j40" d="M661.7 211.1L661.4 211.3"/>
<path class="j43" d="M661.4 211.3L661.1 211.5"/>
<path class="j46" d="M661.1 211.5L660.6 211.9"/>
<path class="j49" d="M660.6 211.9L660.1 212.2"/>
<path class="j52" d="M660.1 212.2L659.2 212.8"/>
<path class="j55" d="M659.2 212.8L657.6 214"/>
<path class="j58" d="M657.6 214L656.8 214.6"/>
<path class="j61" d="M656.8 214.6L656 215.1"/>
<path class="j31" d="M667.1 186.3L666.8 187.6M666.4 189.4L666.2 189.9M659.1 219L659 219.4L658.6 219.5M656.8 219.6L656.3 219.6"/>
<path class="j28" d="M666.8 187.6L666.4 189.4M658.6 219.5L656.8 219.6"/>
<path class="j34" d="M666.2 189.9L666 190.8M659.4 218L659.1 219M656.3 219.6L655.9 219.7"/>
<path class="j37" d="M666 190.8L665.8 191.7M659.6 217.1L659.4 218M655.9 219.7L655.5 219.7"/>
<path class="j40" d="M665.8 191.7L665.6 192.6M659.8 216.2L659.6 217.1M655.5 219.7L655 219.7"/>
<path class="j43" d="M665.6 192.6L665.4 193.5M660 215.3L659.8 216.2M655 219.7L654.6 219.7"/>
<path class="j46" d="M665.4 193.5L665 194.9M660.4 214L660 215.3M654.6 219.7L654.1 219.8"/>
<path class="j49" d="M665 194.9L664.6 196.7M660.7 212.6L660.4 214M654.1 219.8L653.7 219.8"/>
<path class="j52" d="M664.6 196.7L663.9 199.4M661.4 209.9L660.7 212.6M653.7 219.8L653.2 219.8"/>
<path class="j55" d="M663.9 199.4L661.4 209.9M653.2 219.8L652.8 219.9"/>
<path class="j58" d="M652.8 219.9L651.9 219.9"/>
<path class="j61" d="M651.9 219.9L651.4 220"/>
<path class="j31" d="M667.1 186.3L666.6 187.7M665.6 190L665.4 190.5M651.3 224.9L650.9 225.9M648.9 226L648.5 226"/>
<path class="j28" d="M666.6 187.7L665.6 190M650.9 225.9L648.9 226"/>
<path class="j34" d="M665.4 190.5L665 191.4M651.7 224L651.3 224.9M648.5 226L648.1 226"/>
<path class="j37" d="M665 191.4L664.5 192.8M652.1 223L651.7 224M648.1 226L647.7 226"/>
<path class="j40" d="M664.5 192.8L664.1 193.7M652.5 222.1L652.1 223M647.7 226L647.3 226"/>
<path class="j43" d="M664.1 193.7L663.5 195.1M652.8 221.2L652.5 222.1M647.3 226L646.9 226"/>
<path class="j46" d="M663.5 195.1L662.9 196.5M653.4 219.8L652.8 221.2M646.9 226L646.5 226"/>
<path class="j49" d="M662.9 196.5L662.2 198.4M654.2 217.9L653.4 219.8M646.5 226L646.1 226.1"/>
<path class="j52" d="M662.2 198.4L660.8 201.6M655.5 214.7L654.2 217.9M646.1 226.1L645.3 226.1"/>
<path class="j55" d="M660.8 201.6L655.5 214.7M645.3 226.1L644.9 226.1"/>
<path class="j58" d="M644.9 226.1L644.1 226.1"/>
<path class="j61" d="M644.1 226.1L643.2 226.1"/>
<path class="j31" d="M667.1 186.3L666.9 187.2M666.3 190L666.1 190.9M660.6 215.9L660.3 217.3M657.8 218.1L657.4 218.2"/>
<path class="j28" d="M666.9 187.2L666.3 190M660.3 217.3L660.2 217.5L657.8 218.1"/>
<path class="j34" d="M666.1 190.9L665.9 191.8M660.8 215L660.6 215.9M657.4 218.2L657 218.3"/>
<path class="j37" d="M665.9 191.8L665.7 192.7M661 214.1L660.8 215M657 218.3L656.6 218.4"/>
<path class="j40" d="M665.7 192.7L665.4 194.1M661.2 213.1L661 214.1M656.6 218.4L656.1 218.5"/>
<path class="j43" d="M665.4 194.1L665.1 195.5M661.5 211.7L661.2 213.1M656.1 218.5L655.7 218.6"/>
<path class="j46" d="M665.1 195.5L664.6 197.8M662 209.4L661.5 211.7M655.7 218.6L654.9 218.8"/>
<path class="j49" d="M664.6 197.8L662 209.4M654.9 218.8L654.5 218.9"/>
<path class="j52" d="M654.5 218.9L653.3 219.2"/>
<path class="j55" d="M653.3 219.2L652.5 219.4"/>
<path class="j58" d="M652.5 219.4L652.1 219.5"/>
<path class="j61" d="M652.1 219.5L651.2 219.7"/>
<path class="j31" d="M667.1 186.3L666.7 187.6M666.3 189L666 189.9M656 222.5L654.6 222.7M653.6 222.9L653.2 223"/>
<path class="j28" d="M666.7 187.6L666.3 189M654.6 222.7L653.6 222.9"/>
<path class="j34" d="M666 189.9L665.7 190.8M656.4 221.1L656 222.5M653.2 223L652.2 223.1"/>
<path class="j37" d="M665.7 190.8L665.6 191.2M656.6 220.7L656.4 221.1M652.2 223.1L651.8 223.2"/>
<path class="j40" d="M665.6 191.2L665.3 192.1M656.8 219.8L656.6 220.7M651.8 223.2L651.3 223.3"/>
<path class="j43" d="M665.3 192.1L664.9 193.5M657.1 218.9L656.8 219.8M651.3 223.3L650.8 223.3"/>
<path class="j46" d="M664.9 193.5L664.6 194.4M657.4 218L657.1 218.9M650.8 223.3L650.3 223.4"/>
<path class="j49" d="M664.6 194.4L664.2 195.8M657.8 216.6L657.4 218M650.3 223.4L649.4 223.6"/>
<path class="j52" d="M664.2 195.8L663.5 198M658.5 214.3L657.8 216.6M649.4 223.6L648.5 223.7"/>
<path class="j55" d="M663.5 198L658.5 214.3M648.5 223.7L648 223.8"/>
<path class="j58" d="M648 223.8L647 224"/>
<path class="j61" d="M647 224L646.1 224.1"/>
<path class="j31" d="M667.1 186.3L667 187.2M666.2 192.1L666 193M663.7 207.1L663.4 209M661.2 213L660.9 213.1"/>
<path class="j28" d="M667 187.2L666.2 192.1M663.4 209L663.1 210.9M661.4 212.8L661.2 213"/>
<path class="j34" d="M666 193L665.7 195M663.9 205.6L663.7 207.1M660.9 213.1L660.7 213.3"/>
<path class="j37" d="M665.7 195L663.9 205.6M660.7 213.3L660.2 213.6"/>
<path class="j25" d="M663.1 210.9L662.9 211.8L661.4 212.8"/>
<path class="j40" d="M660.2 213.6L659.9 213.8"/>
<path class="j43" d="M659.9 213.8L659.7 214"/>
<path class="j46" d="M659.7 214L659.2 214.3"/>
<path class="j49" d="M659.2 214.3L658.6 214.6"/>
<path class="j52" d="M658.6 214.6L657.9 215.1"/>
<path class="j55" d="M657.9 215.1L655.9 216.5"/>
<path class="j58" d="M655.9 216.5L655.4 216.8"/>
<path class="j61" d="M655.4 216.8L654.9 217.2"/>
<path class="j31" d="M667.1 186.3L666.9 187.2M665.7 191.6L665.4 192.5M660 212.9L659.6 214.3M656.7 217.8L656.4 218"/>
<path class="j28" d="M666.9 187.2L665.7 191.6M659.6 214.3L659 216.5M657.1 217.6L656.7 217.8"/>
<path class="j34" d="M665.4 192.5L665 194M660.2 211.9L660 212.9M656.4 218L655.8 218.4"/>
<path class="j37" d="M665 194L664.5 195.9M660.8 210L660.2 211.9M655.8 218.4L655.5 218.5"/>
<path class="j40" d="M664.5 195.9L663.6 199.3M661.8 206.1L660.8 210M655.5 218.5L655.1 218.7"/>
<path class="j43" d="M663.6 199.3L661.8 206.1M655.1 218.7L654.5 219.1"/>
<path class="j25" d="M659 216.5L657.1 217.6"/>
<path class="j46" d="M654.5 219.1L654.2 219.3"/>
<path class="j49" d="M654.2 219.3L653.5 219.7"/>
<path class="j52" d="M653.5 219.7L652.2 220.4"/>
<path class="j55" d="M652.2 220.4L649.7 221.9"/>
<path class="j58" d="M649.7 221.9L647.7 223"/>
<path class="j61" d="M647.7 223L646.8 223.6"/>
<path class="j31" d="M667.1 186.3L666.9 187.6M666.7 188.4L666.5 189.3M660.6 218.4L658.2 218.1"/>
<path class="j28" d="M666.9 187.6L666.7 188.4"/>
<path class="j34" d="M666.5 189.3L666.4 189.7M660.7 217.8L660.6 218.4M658.2 218.1L657.7 218.1"/>
<path class="j37" d="M666.4 189.7L666.2 190.6M660.9 217L660.7 217.8M657.7 218.1L657.3 218"/>
<path class="j40" d="M666.2 190.6L666.1 191.4M661 216.5L660.9 217M657.3 218L656.8 218"/>
<path class="j43" d="M666.1 191.4L665.9 192.3M661.2 215.7L661 216.5"/>
<path class="j46" d="M665.9 192.3L665.7 193.2M661.3 214.8L661.2 215.7M656.8 218L656.3 217.9"/>
<path class="j49" d="M665.7 193.2L665.5 194M661.6 213.5L661.3 214.8M656.3 217.9L655.4 217.8"/>
<path class="j52" d="M665.5 194L665.2 195.8M661.9 212.2L661.6 213.5M655.4 217.8L654.9 217.8"/>
<path class="j55" d="M665.2 195.8L664.3 200.1M662.7 207.9L661.9 212.2M654.9 217.8L654.4 217.7"/>
<path class="j58" d="M664.3 200.1L662.7 207.9M654.4 217.7L653.5 217.6"/>
<path class="j61" d="M653.5 217.6L652.5 217.5"/>
<path class="j31" d="M667.1 186.3L666.8 187.6M666.3 189.5L666 190.4M658.5 219.2L658.3 220L657.9 220.1M656 220.3L655.7 220.4"/>
<path class="j28" d="M666.8 187.6L666.3 189.5M657.9 220.1L656 220.3"/>
<path class="j34" d="M666 190.4L665.9 190.8M658.7 218.3L658.5 219.2M655.7 220.4L655.3 220.4"/>
<path class="j37" d="M665.9 190.8L665.7 191.8M659 217.4L658.7 218.3M655.3 220.4L654.9 220.5"/>
<path class="j40" d="M665.7 191.8L665.3 193.1M659.1 216.9L659 217.4M654.9 220.5L654.5 220.5"/>
<path class="j43" d="M665.3 193.1L665.1 194M659.4 215.6L659.1 216.9M654.5 220.5L653.8 220.7"/>
<path class="j46" d="M665.1 194L664.7 195.4M659.8 214.2L659.4 215.6M653.8 220.7L653.4 220.7"/>
<path class="j49" d="M664.7 195.4L664.2 197.2M660.3 212.4L659.8 214.2M653.4 220.7L652.7 220.8"/>
<path class="j52" d="M664.2 197.2L663.4 200.5M661.1 209.2L660.3 212.4M652.7 220.8L651.9 220.9"/>
<path class="j55" d="M663.4 200.5L661.1 209.2M651.9 220.9L651.2 221"/>
<path class="j58" d="M651.2 221L650.4 221.1"/>
<path class="j61" d="M650.4 221.1L649.7 221.2"/>
<path class="j31" d="M667.1 186.3L666.9 187.2M666.3 188.9L666.1 189.8M656.7 222L656.3 222.1M654.1 222.6L653.2 222.8"/>
<path class="j28" d="M666.9 187.2L666.3 188.9M656.3 222.1L654.1 222.6"/>
<path class="j34" d="M666.1 189.8L666 190.3M657 221.1L656.7 222M653.2 222.8L652.7 222.9"/>
<path class="j37" d="M666 190.3L665.7 191.2M657.3 220.2L657 221.1M652.7 222.9L652.3 222.9"/>
<path class="j40" d="M665.7 191.2L665.4 192.1M657.5 219.3L657.3 220.2M652.3 222.9L651.8 223"/>
<path class="j43" d="M665.4 192.1L665.2 193M657.6 218.9L657.5 219.3M651.8 223L650.9 223.2"/>
<path class="j46" d="M665.2 193L664.9 193.9M658 217.5L657.6 218.9M650.9 223.2L650.5 223.3"/>
<path class="j49" d="M664.9 193.9L664.5 195.2M658.4 216.2L658 217.5M650.5 223.3L649.6 223.5"/>
<path class="j52" d="M664.5 195.2L663.9 197.4M658.9 214.4L658.4 216.2M649.6 223.5L648.3 223.8"/>
<path class="j55" d="M663.9 197.4L658.9 214.4M648.3 223.8L647.4 224"/>
<path class="j58" d="M647.4 224L646.5 224.1"/>
<path class="j61" d="M646.5 224.1L645.6 224.3"/>
<path class="j31" d="M667.1 186.3L666.9 187.2M665.7 191.6L665.3 193.1M660.4 211.6L659.9 213.5M644.1 230.2L643.6 230.2"/>
<path class="j28" d="M666.9 187.2L665.7 191.6M659.9 213.5L659.4 215.5M644.6 230.1L644.1 230.2"/>
<path class="j34" d="M665.3 193.1L664.9 194.5M660.8 210.1L660.4 211.6M643.6 230.2L643.2 230.3"/>
<path class="j37" d="M664.9 194.5L664.3 197M661.3 208.2L660.8 210.1M643.2 230.3L642.7 230.3"/>
<path class="j40" d="M664.3 197L661.3 208.2M642.7 230.3L642.2 230.3"/>
<path class="j25" d="M659.4 215.5L647.5 229.9M646.1 230L644.6 230.1"/>
<path class="j22" d="M647.5 229.9L646.1 230"/>
<path class="j43" d="M642.2 230.3L641.2 230.4"/>
<path class="j46" d="M641.2 230.4L640.7 230.5"/>
<path class="j49" d="M640.7 230.5L639.8 230.6"/>
<path class="j52" d="M639.8 230.6L638.8 230.6"/>
<path class="j55" d="M638.8 230.6L637.3 230.8"/>
<path class="j58" d="M637.3 230.8L636.4 230.8"/>
<path class="j61" d="M636.4 230.8L635.4 230.9"/>
<path class="j31" d="M667.1 186.3L666.9 187.2M665.6 192.6L665.2 194.1M661.8 207.9L661.4 209.8M645.5 229.4L645 229.4"/>
<path class="j28" d="M666.9 187.2L665.6 192.6M661.4 209.8L660.8 212.3M654.7 220.9L652.3 224.1"/>
<path class="j34" d="M665.2 194.1L664.6 196.6M662.3 205.9L661.8 207.9M645 229.4L644.5 229.4"/>
<path class="j37" d="M664.6 196.6L662.3 205.9M644.5 229.4L643.6 229.5"/>
<path class="j25" d="M660.8 212.3L660.5 213.4L654.7 220.9M652.3 224.1L648.3 229.3L645.5 229.4"/>
<path class="j40" d="M643.6 229.5L643.1 229.5"/>
<path class="j43" d="M643.1 229.5L642.6 229.5"/>
<path class="j46" d="M642.6 229.5L642.2 229.5"/>
<path class="j49" d="M642.2 229.5L641.2 229.6"/>
<path class="j52" d="M641.2 229.6L640.3 229.6"/>
<path class="j55" d="M640.3 229.6L639.8 229.6"/>
<path class="j58" d="M639.8 229.6L639.4 229.6"/>
<path class="j61" d="M639.4 229.6L638.4 229.7"/>
<path class="j31" d="M667.1 186.3L666.8 187.6M666.4 189L666.1 189.9M657.7 220.8L657.6 221.1L656.8 221.5M653.3 223.2L652.9 223.4M635.2 232L634 232.5M630.3 234.2L629.9 234.4"/>
<path class="j28" d="M666.8 187.6L666.4 189M656.8 221.5L653.3 223.2M634 232.5L632 233.5M631.1 233.8L630.3 234.2"/>
<path class="j34" d="M666.1 189.9L665.9 190.7M657.9 219.9L657.7 220.8M652.9 223.4L652.2 223.7M636.3 231.4L635.2 232M629.9 234.4L629.5 234.6"/>
<path class="j37" d="M665.9 190.7L665.8 191.2M658.2 219L657.9 219.9M652.2 223.7L651 224.3M637.1 231L636.3 231.4M629.5 234.6L628.7 234.9"/>
<path class="j40" d="M665.8 191.2L665.5 192.1M658.3 218.6L658.2 219M651 224.3L649.9 224.9M638.3 230.5L637.1 231M628.7 234.9L628.2 235.1"/>
<path class="j43" d="M665.5 192.1L665.3 193M658.5 217.7L658.3 218.6M649.9 224.9L647.9 225.8M640.6 229.4L638.3 230.5M628.2 235.1L627.4 235.5"/>
<path class="j46" d="M665.3 193L664.9 194.3M658.9 216.3L658.5 217.7M647.9 225.8L640.6 229.4M627.4 235.5L627 235.7"/>
<path class="j49" d="M664.9 194.3L664.5 195.7M659.3 215L658.9 216.3M627 235.7L625.8 236.2"/>
<path class="j52" d="M664.5 195.7L664.1 197.5M659.8 213.2L659.3 215M625.8 236.2L624.9 236.6"/>
<path class="j55" d="M664.1 197.5L659.8 213.2M624.9 236.6L622.9 237.5"/>
<path class="j25" d="M632 233.5L631.1 233.8"/>
<path class="j58" d="M622.9 237.5L622 237.9"/>
<path class="j61" d="M622 237.9L621.2 238.3"/>
<path class="j31" d="M667.1 186.3L666.9 187.7M666.4 191L666.3 192M663.9 208.7L663.7 210.2M659 217.5L655.5 221.9M649.8 225.3L649.3 225.3"/>
<path class="j28" d="M666.9 187.7L666.4 191M663.7 210.2L663.2 212.2M659.7 216.6L659 217.5M655.5 221.9L654 223.8M650.3 225.3L649.8 225.3"/>
<path class="j34" d="M666.3 192L666.1 193.4M664.1 207.3L663.9 208.7M649.3 225.3L648.8 225.3"/>
<path class="j37" d="M666.1 193.4L665.7 195.8M664.4 205.4L664.1 207.3M648.8 225.3L648.3 225.3"/>
<path class="j40" d="M665.7 195.8L664.4 205.4M648.3 225.3L647.8 225.3"/>
<path class="j25" d="M663.2 212.2L659.7 216.6M654 223.8L652.8 225.3L650.3 225.3"/>
<path class="j43" d="M647.8 225.3L647.3 225.3"/>
<path class="j46" d="M647.3 225.3L646.8 225.3"/>
<path class="j49" d="M646.8 225.3L645.8 225.3"/>
<path class="j52" d="M645.8 225.3L644.8 225.3"/>
<path class="j55" d="M644.8 225.3L644.3 225.3"/>
<path class="j58" d="M644.3 225.3L643.8 225.3"/>
<path class="j61" d="M643.8 225.3L642.8 225.3"/>
<path class="j31" d="M667.1 186.3L666.7 187.2M664.7 191.5L664.2 192.4M650.3 222.2L649.6 223.6M644.6 228.1L643.8 228.7M622.1 243.2L621 243.9M617.9 243.3L617.5 243.1"/>
<path class="j28" d="M666.7 187.2L664.7 191.5M649.6 223.6L648.8 225.3L648.5 225.5M645 227.9L644.6 228.1M621 243.9L620.3 244.4L618.9 243.7M618.4 243.5L617.9 243.3"/>
<path class="j34" d="M664.2 192.4L663.6 193.8M650.7 221.2L650.3 222.2M643.8 228.7L643 229.2M622.9 242.6L622.1 243.2M617.5 243.1L617 242.8"/>
<path class="j37" d="M663.6 193.8L662.9 195.2M651.2 220.3L650.7 221.2M643 229.2L642.3 229.7M623.7 242.1L622.9 242.6M617 242.8L616.5 242.6"/>
<path class="j40" d="M662.9 195.2L661.8 197.6M652.1 218.4L651.2 220.3M642.3 229.7L641.1 230.5M624.8 241.3L623.7 242.1M616.5 242.6L616.1 242.4"/>
<path class="j43" d="M661.8 197.6L660.7 200M653.2 216L652.1 218.4M641.1 230.5L639.5 231.5M626.4 240.3L624.8 241.3"/>
<path class="j46" d="M660.7 200L658.5 204.7M655.4 211.3L653.2 216M639.5 231.5L637.6 232.8M628.3 239L626.4 240.3M616.1 242.4L615.6 242.2"/>
<path class="j49" d="M658.5 204.7L655.4 211.3M637.6 232.8L628.3 239"/>
<path class="j25" d="M648.5 225.5L645 227.9M618.9 243.7L618.4 243.5"/>
<path class="j52" d="M615.6 242.2L615.1 241.9"/>
<path class="j58" d="M615.1 241.9L614.7 241.7"/>
<path class="j61" d="M614.7 241.7L614.2 241.5"/>
<path class="j31" d="M667.1 186.3L666.9 187.6M666.6 188.9L666.4 189.8M660.6 218L659.8 218.2M658.7 218.3L657.9 218.4"/>
<path class="j28" d="M666.9 187.6L666.6 188.9M659.8 218.2L658.7 218.3"/>
<path class="j34" d="M666.4 189.8L666.3 190.3M660.7 217.1L660.6 218M657.9 218.4L657.5 218.5"/>
<path class="j37" d="M666.3 190.3L666.1 191.2M660.9 216.2L660.7 217.1M657.5 218.5L657.2 218.5"/>
<path class="j40" d="M666.1 191.2L665.9 192.1M661.1 215.3L660.9 216.2M657.2 218.5L656.8 218.6"/>
<path class="j43" d="M665.9 192.1L665.7 193M661.3 214.4L661.1 215.3M656.8 218.6L656.4 218.6"/>
<path class="j46" d="M665.7 193L665.5 194.3M661.5 213.5L661.3 214.4M656.4 218.6L655.7 218.7"/>
<path class="j49" d="M665.5 194.3L665.2 195.6M661.9 211.7L661.5 213.5M655.7 218.7L655.3 218.7"/>
<path class="j52" d="M665.2 195.6L664.7 197.9M662.3 209.5L661.9 211.7M655.3 218.7L654.2 218.9"/>
<path class="j55" d="M664.7 197.9L662.3 209.5M654.2 218.9L652.7 219"/>
<path class="j58" d="M652.7 219L649.7 219.4"/>
<path class="j61" d="M649.7 219.4L648.6 219.5"/>
<path class="j31" d="M667.1 186.3L666.7 187.2M665.2 190.5L664.7 191.4M648.3 226.3L647.6 227.7M642.4 231.2L642 231.4M629.4 239.5L627.9 240.4M623.2 240.8L622.7 240.7"/>
<path class="j28" d="M666.7 187.2L665.2 190.5M647.6 227.7L646.4 228.6M643.5 230.5L642.4 231.2M627.9 240.4L626.4 241.4M623.7 240.9L623.2 240.8"/>
<path class="j34" d="M664.7 191.4L664.3 192.3M648.7 225.4L648.3 226.3M642 231.4L640.5 232.4M630.1 239L629.4 239.5M622.7 240.7L621.6 240.5"/>
<path class="j37" d="M664.3 192.3L663.6 193.7M649.2 224.4L648.7 225.4M640.5 232.4L639 233.3M632 237.8L630.1 239M621.6 240.5L621.1 240.4"/>
<path class="j40" d="M663.6 193.7L663 195.1M649.6 223.5L649.2 224.4M639 233.3L632 237.8M621.1 240.4L620.6 240.3"/>
<path class="j43" d="M663 195.1L662.3 196.5M650.3 222.1L649.6 223.5M620.6 240.3L620.1 240.2"/>
<path class="j46" d="M662.3 196.5L661.4 198.4M651.1 220.3L650.3 222.1"/>
<path class="j49" d="M661.4 198.4L660.1 201.2M652.2 217.9L651.1 220.3M620.1 240.2L619.5 240.1"/>
<path class="j52" d="M660.1 201.2L657.5 206.7M655.3 211.4L652.2 217.9"/>
<path class="j55" d="M657.5 206.7L655.3 211.4M619.5 240.1L619 240"/>
<path class="j25" d="M646.4 228.6L643.5 230.5M626.4 241.4L623.7 240.9"/>
<path class="j58" d="M619 240L618.5 239.8"/>
<path class="j61" d="M618.5 239.8L618 239.7"/>
<path class="j31" d="M667.1 186.3L666.8 187.6M666.5 189L666.3 189.9M659.5 218.8L659.4 219.1L658.7 219.5M655.8 220.9L655.5 221.1M639 229.4L638 229.9M635 231.1L634.6 231.3"/>
<path class="j28" d="M666.8 187.6L666.5 189M658.7 219.5L655.8 220.9M638 229.9L635 231.1"/>
<path class="j34" d="M666.3 189.9L666.1 190.8M659.7 217.9L659.5 218.8M655.5 221.1L654.7 221.5M640.1 228.8L639 229.4M634.6 231.3L634.2 231.4"/>
<path class="j37" d="M666.1 190.8L665.9 191.7M659.9 217L659.7 217.9M654.7 221.5L653.7 222M640.8 228.5L640.1 228.8M634.2 231.4L633.8 231.6"/>
<path class="j40" d="M665.9 191.7L665.6 192.6M660.1 216.1L659.9 217M653.7 222L653 222.4M641.5 228.1L640.8 228.5M633.8 231.6L632.9 231.9"/>
<path class="j43" d="M665.6 192.6L665.4 193.5M660.3 215.2L660.1 216.1M653 222.4L651.5 223.1M643.3 227.2L641.5 228.1M632.9 231.9L632.5 232.1"/>
<path class="j46" d="M665.4 193.5L665.1 194.8M660.6 213.8L660.3 215.2M651.5 223.1L649 224.3M646.2 225.8L643.3 227.2M632.5 232.1L632.1 232.3"/>
<path class="j49" d="M665.1 194.8L664.7 196.7M661 212.5L660.6 213.8M649 224.3L646.2 225.8M632.1 232.3L631.6 232.5"/>
<path class="j52" d="M664.7 196.7L664 199.4M661.6 209.8L661 212.5M631.6 232.5L631.2 232.6"/>
<path class="j55" d="M664 199.4L661.6 209.8M631.2 232.6L630.8 232.8"/>
<path class="j58" d="M630.8 232.8L630.4 233"/>
<path class="j61" d="M630.4 233L630 233.2"/>
<path class="j31" d="M667.1 186.3L666.6 187.6M665.9 189.5L665.5 190.4M651.6 225.7L651.5 226.1L650.6 226.5M647.5 227.8L647.1 228M613.7 241.9L612.4 242.3M608.9 242.8L608.4 242.9"/>
<path class="j28" d="M666.6 187.6L665.9 189.5M650.6 226.5L647.5 227.8M612.4 242.3L608.9 242.8"/>
<path class="j34" d="M665.5 190.4L665.3 190.9M652 224.8L651.6 225.7M647.1 228L646.2 228.3M614.6 241.5L613.7 241.9M608.4 242.9L607.9 243"/>
<path class="j37" d="M665.3 190.9L665 191.8M652.3 223.9L652 224.8M646.2 228.3L645.3 228.7M615.5 241.2L614.6 241.5M607.9 243L606.9 243.1"/>
<path class="j40" d="M665 191.8L664.4 193.1M652.7 223L652.3 223.9M645.3 228.7L644.4 229.1M616.4 240.8L615.5 241.2M606.9 243.1L606.4 243.2"/>
<path class="j43" d="M664.4 193.1L664.1 194.1M653.1 222.1L652.7 223M644.4 229.1L643.6 229.4M617.2 240.4L616.4 240.8M606.4 243.2L605.4 243.3"/>
<path class="j46" d="M664.1 194.1L663.5 195.4M653.4 221.2L653.1 222.1M643.6 229.4L642.7 229.8M618.6 239.9L617.2 240.4M605.4 243.3L604.4 243.4"/>
<path class="j49" d="M663.5 195.4L663 196.8M654.1 219.3L653.4 221.2M642.7 229.8L640.9 230.5M619.9 239.3L618.6 239.9M604.4 243.4L603.5 243.6"/>
<path class="j52" d="M663 196.8L662.1 199.1M654.9 217.5L654.1 219.3M640.9 230.5L639.2 231.3M622.5 238.2L619.9 239.3M603.5 243.6L602.5 243.7"/>
<path class="j55" d="M662.1 199.1L654.9 217.5M639.2 231.3L622.5 238.2M602.5 243.7L599.5 244.1"/>
<path class="j58" d="M599.5 244.1L597.5 244.4"/>
<path class="j61" d="M597.5 244.4L596 244.6"/>
<path class="j31" d="M667.1 186.3L666.9 187.2M666.3 190L666.1 190.9M660.8 215.5L660.5 216.9M657.4 218.9L657 219.1M637.8 229.6L636.9 230.1M635.1 230.8L634.7 230.9"/>
<path class="j28" d="M666.9 187.2L666.3 190M660.5 216.9L659.4 217.7M658.1 218.5L657.4 218.9M636.9 230.1L635.1 230.8"/>
<path class="j34" d="M666.1 190.9L665.9 191.8M661 214.6L660.8 215.5M657 219.1L656.3 219.4M638.5 229.2L637.8 229.6M634.7 230.9L634.4 231.1"/>
<path class="j37" d="M665.9 191.8L665.7 192.8M661.2 213.7L661 214.6M656.3 219.4L656 219.6M639.2 228.8L638.5 229.2M634.4 231.1L634 231.2"/>
<path class="j40" d="M665.7 192.8L665.4 194.2M661.4 212.7L661.2 213.7M656 219.6L655.3 220M639.5 228.6L639.2 228.8M634 231.2L633.7 231.4"/>
<path class="j43" d="M665.4 194.2L665 196M661.8 210.9L661.4 212.7M655.3 220L654.6 220.4M640.6 228.1L639.5 228.6"/>
<path class="j46" d="M665 196L664.5 198.3M662.3 208.6L661.8 210.9M654.6 220.4L653.6 220.9M641.6 227.5L640.6 228.1M633.7 231.4L633.3 231.5"/>
<path class="j49" d="M664.5 198.3L662.3 208.6M653.6 220.9L652.2 221.7M643 226.8L641.6 227.5"/>
<path class="j25" d="M659.4 217.7L658.1 218.5"/>
<path class="j52" d="M652.2 221.7L649.5 223.2M646.1 225.1L643 226.8M633.3 231.5L633 231.7"/>
<path class="j55" d="M649.5 223.2L646.1 225.1M633 231.7L632.6 231.8"/>
<path class="j61" d="M632.6 231.8L632.3 231.9"/>
<path class="j31" d="M667.1 186.3L666.5 187.6M665.4 190L665 190.9M647.4 228.3L647.1 228.9L646.7 229.1M642.7 230.9L642.3 231.1M610.1 245.8L608.8 246.4L608.3 246.2M606.3 245.4L605.8 245.3"/>
<path class="j28" d="M666.5 187.6L665.4 190M646.7 229.1L642.7 230.9M608.3 246.2L606.3 245.4"/>
<path class="j34" d="M665 190.9L664.7 191.3M648 226.9L647.4 228.3M642.3 231.1L641.4 231.5M611 245.4L610.1 245.8M605.8 245.3L605.3 245.1"/>
<path class="j37" d="M664.7 191.3L664.1 192.7M648.5 226L648 226.9M641.4 231.5L640.5 231.9M611.9 245L611 245.4M605.3 245.1L604.8 244.9"/>
<path class="j40" d="M664.1 192.7L663.7 193.6M648.7 225.5L648.5 226M640.5 231.9L639.6 232.3M612.8 244.6L611.9 245M604.8 244.9L604.3 244.7"/>
<path class="j43" d="M663.7 193.6L663 195M649.3 224.1L648.7 225.5M639.6 232.3L638.3 232.9M613.6 244.2L612.8 244.6"/>
<path class="j46" d="M663 195L662.4 196.4M650 222.7L649.3 224.1M638.3 232.9L637 233.5M615 243.6L613.6 244.2M604.3 244.7L603.7 244.5"/>
<path class="j49" d="M662.4 196.4L661.5 198.3M650.6 221.4L650 222.7M637 233.5L635.6 234.1M616.7 242.8L615 243.6"/>
<path class="j52" d="M661.5 198.3L660.2 201M651.9 218.6L650.6 221.4M635.6 234.1L633 235.3M619.8 241.4L616.7 242.8M603.7 244.5L603.2 244.3"/>
<path class="j55" d="M660.2 201L651.9 218.6M633 235.3L619.8 241.4"/>
<path class="j58" d="M603.2 244.3L602.7 244.1"/>
<path class="j61" d="M602.7 244.1L602.2 243.9"/>
<path class="j31" d="M667.1 186.3L666.7 187.2M664.9 191L664.5 191.9M649.2 224.3L648.5 225.7M644 228.9L643.6 229.1M616.7 244.3L615.9 244.7M612.7 243.8L612.2 243.7"/>
<path class="j28" d="M666.7 187.2L664.9 191M648.5 225.7L648.1 226.6L647.3 227.1M644.4 228.6L644 228.9M615.9 244.7L612.7 243.8"/>
<path class="j34" d="M664.5 191.9L663.8 193.3M649.6 223.3L649.2 224.3M643.6 229.1L642.8 229.5M617.9 243.6L616.7 244.3M612.2 243.7L611.7 243.5"/>
<path class="j37" d="M663.8 193.3L663.1 194.7M650 222.4L649.6 223.3M642.8 229.5L642 230M618.3 243.4L617.9 243.6M611.7 243.5L611.1 243.3"/>
<path class="j40" d="M663.1 194.7L662.5 196.1M650.7 221L650 222.4M642 230L641.2 230.5M619.1 242.9L618.3 243.4M611.1 243.3L610.6 243.2"/>
<path class="j43" d="M662.5 196.1L661.6 198M651.6 219.1L650.7 221M641.2 230.5L640 231.1M620.3 242.3L619.1 242.9M610.6 243.2L609.6 242.8"/>
<path class="j46" d="M661.6 198L660.3 200.8M652.7 216.8L651.6 219.1M640 231.1L638.8 231.8M621.5 241.6L620.3 242.3M609.6 242.8L609.1 242.7"/>
<path class="j49" d="M660.3 200.8L657.8 206M655.6 210.7L652.7 216.8M638.8 231.8L637.2 232.7M623.6 240.4L621.5 241.6M609.1 242.7L608.6 242.5"/>
<path class="j52" d="M657.8 206L655.6 210.7M637.2 232.7L634 234.5M627.2 238.4L623.6 240.4M608.6 242.5L607 242"/>
<path class="j25" d="M647.3 227.1L644.4 228.6"/>
<path class="j55" d="M634 234.5L627.2 238.4M607 242L606 241.7"/>
<path class="j58" d="M606 241.7L605 241.3"/>
<path class="j61" d="M605 241.3L604 241"/>
<path class="j31" d="M667.1 186.3L666.7 187.2M665.5 189.9L665.3 190.4M648.6 227.7L648.3 228.3M643.4 230.8L642.6 231.2M623.8 240.9L622.6 241.5M618.5 240.7L618.1 240.5"/>
<path class="j28" d="M666.7 187.2L665.5 189.9M648.3 228.3L646.3 229.4M644.3 230.4L643.4 230.8M622.6 241.5L621.3 242.2M619 241L618.5 240.7"/>
<path class="j34" d="M665.3 190.4L664.9 191.3M649.2 226.3L648.6 227.7M642.6 231.2L641.8 231.7M624.6 240.5L623.8 240.9M618.1 240.5L617.6 240.3"/>
<path class="j37" d="M664.9 191.3L664.3 192.7M649.5 225.8L649.2 226.3M641.8 231.7L640.6 232.3M625.9 239.8L624.6 240.5"/>
<path class="j40" d="M664.3 192.7L663.8 193.6M649.9 224.9L649.5 225.8M640.6 232.3L638.9 233.1M627.5 239L625.9 239.8"/>
<path class="j43" d="M663.8 193.6L663.4 194.5M650.3 224L649.9 224.9M638.9 233.1L636.1 234.6M631.2 237.1L627.5 239M617.6 240.3L617.1 240"/>
<path class="j46" d="M663.4 194.5L662.8 195.9M650.9 222.6L650.3 224M636.1 234.6L631.2 237.1"/>
<path class="j49" d="M662.8 195.9L662 197.8M651.7 220.8L650.9 222.6M617.1 240L616.7 239.8"/>
<path class="j52" d="M662 197.8L660.8 200.5M652.7 218.5L651.7 220.8"/>
<path class="j55" d="M660.8 200.5L652.7 218.5M616.7 239.8L616.2 239.6"/>
<path class="j25" d="M646.3 229.4L644.3 230.4M621.3 242.2L619 241"/>
<path class="j58" d="M616.2 239.6L615.7 239.3"/>
<path class="j31" d="M667.1 186.3L666.8 187.2M665.5 190.5L665.1 191.5M653.9 220.9L653.3 222.3M649.3 225.2L648.5 225.6M617.3 242.8L616.5 243.2L616 243M614 242.2L613.5 242"/>
<path class="j28" d="M666.8 187.2L665.5 190.5M653.3 222.3L653 223.1L651.8 223.8M649.7 225L649.3 225.2M616 243L614 242.2"/>
<path class="j34" d="M665.1 191.5L664.6 192.9M654.2 219.9L653.9 220.9M648.5 225.6L648.1 225.9M618.1 242.4L617.3 242.8M613.5 242L613 241.8"/>
<path class="j37" d="M664.6 192.9L664 194.3M654.6 219L654.2 219.9M648.1 225.9L647.2 226.3M618.9 241.9L618.1 242.4M613 241.8L612.5 241.6"/>
<path class="j40" d="M664 194.3L663.5 195.7M655.1 217.6L654.6 219M647.2 226.3L646.4 226.8M619.7 241.5L618.9 241.9M612.5 241.6L612 241.4"/>
<path class="j43" d="M663.5 195.7L662.8 197.6M655.9 215.7L655.1 217.6M646.4 226.8L645.6 227.2M620.5 241L619.7 241.5M612 241.4L611.5 241.2"/>
<path class="j46" d="M662.8 197.6L661.7 200.5M656.8 213.3L655.9 215.7M645.6 227.2L644.8 227.7M621.4 240.6L620.5 241M611.5 241.2L611 241"/>
<path class="j49" d="M661.7 200.5L656.8 213.3M644.8 227.7L643.1 228.6M623 239.7L621.4 240.6M611 241L610 240.6"/>
<path class="j25" d="M651.8 223.8L649.7 225"/>
<path class="j52" d="M643.1 228.6L641.5 229.5M625.1 238.5L623 239.7M610 240.6L608.9 240.2"/>
<path class="j55" d="M641.5 229.5L625.1 238.5M608.9 240.2L608.4 240"/>
<path class="j58" d="M608.4 240L607.9 239.8"/>
<path class="j61" d="M607.9 239.8L606.9 239.4"/>
<path class="j31" d="M667.1 186.3L666.8 187.7M666.4 190L666.2 191M661.5 214.1L661.2 215.5M657 219.4L656.4 219.9M646.5 228.6L645.3 229.7"/>
<path class="j28" d="M666.8 187.7L666.4 190M661.2 215.5L659.9 216.8M657.6 218.8L657 219.4M645.3 229.7L644.1 230.8L643.6 230.9M635.8 232.2L629.8 233.3"/>
<path class="j34" d="M666.2 191L666 191.9M661.8 212.7L661.5 214.1M656.4 219.9L655.4 220.8M647.5 227.8L646.5 228.6"/>
<path class="j37" d="M666 191.9L665.7 193.3M662 211.7L661.8 212.7M655.4 220.8L653.8 222.2M649.1 226.4L647.5 227.8"/>
<path class="j40" d="M665.7 193.3L665.3 195.2M662.2 210.3L662 211.7M653.8 222.2L649.1 226.4"/>
<path class="j43" d="M665.3 195.2L664.9 197.1M662.7 208L662.2 210.3"/>
<path class="j46" d="M664.9 197.1L662.7 208"/>
<path class="j25" d="M659.9 216.8L657.6 218.8M643.6 230.9L635.8 232.2"/>
<path class="j31" d="M667.1 186.3L666.7 187.2M664.2 192.6L664 193.1M648.5 226.8L647.9 228.2M640.8 231.8L639.9 232.1"/>
<path class="j28" d="M666.7 187.2L665.5 189.9M664.6 191.7L664.2 192.6M647.9 228.2L647.3 229.5L646.4 229.8M641.2 231.7L640.8 231.8"/>
<path class="j25" d="M665.5 189.9L664.6 191.7M646.4 229.8L641.2 231.7"/>
<path class="j34" d="M664 193.1L663.6 194M648.9 225.9L648.5 226.8M639.9 232.1L639.5 232.3"/>
<path class="j37" d="M663.6 194L663.2 194.9M649.4 225L648.9 225.9M639.5 232.3L638.6 232.6"/>
<path class="j40" d="M663.2 194.9L662.7 195.8M649.8 224.1L649.4 225M638.6 232.6L637.7 232.9"/>
<path class="j43" d="M662.7 195.8L662.3 196.7M650.2 223.2L649.8 224.1M637.7 232.9L636.4 233.4"/>
<path class="j46" d="M662.3 196.7L661.9 197.6M650.6 222.3L650.2 223.2M636.4 233.4L635.5 233.7"/>
<path class="j49" d="M661.9 197.6L661.3 199M651.2 220.9L650.6 222.3M635.5 233.7L633.8 234.4"/>
<path class="j52" d="M661.3 199L660.4 200.8M652.1 219.1L651.2 220.9M633.8 234.4L630.7 235.5M625.1 237.5L624.6 237.7"/>
<path class="j55" d="M660.4 200.8L658.1 205.9M654.4 214.1L652.1 219.1M630.7 235.5L625.1 237.5"/>
<path class="j58" d="M658.1 205.9L654.4 214.1"/>
<path class="j31" d="M667.1 186.3L666.8 187.2M664.7 193.2L664.4 194.2M655.4 219.8L654.9 221.2"/>
<path class="j28" d="M666.8 187.2L665.8 190M665 192.3L664.7 193.2M654.9 221.2L654.1 223.5"/>
<path class="j25" d="M665.8 190L665 192.3"/>
<path class="j34" d="M664.4 194.2L664 195.1M655.9 218.4L655.4 219.8"/>
<path class="j37" d="M664 195.1L663.7 196M656.2 217.4L655.9 218.4"/>
<path class="j40" d="M663.7 196L663.2 197.4M656.5 216.5L656.2 217.4"/>
<path class="j43" d="M663.2 197.4L662.7 198.8M657 215.1L656.5 216.5"/>
<path class="j46" d="M662.7 198.8L662.1 200.7M657.7 213.2L657 215.1"/>
<path class="j49" d="M662.1 200.7L661.1 203.5M658.8 210L657.7 213.2"/>
<path class="j52" d="M661.1 203.5L658.8 210"/>
<path class="j31" d="M667.1 186.3L666.7 187.6M665.2 192.2L665.1 192.7M656.2 220.5L655.7 221.9M649.3 225.6L648.5 226"/>
<path class="j28" d="M666.7 187.6L665.2 192.2M655.7 221.9L655.4 222.9L654.6 223.2M649.7 225.4L649.3 225.6"/>
<path class="j34" d="M665.1 192.7L664.8 193.6M656.6 219.1L656.2 220.5M648.5 226L647.7 226.3"/>
<path class="j37" d="M664.8 193.6L664.5 194.5M656.9 218.2L656.6 219.1M647.7 226.3L646.9 226.7"/>
<path class="j40" d="M664.5 194.5L664.2 195.4M657.2 217.3L656.9 218.2M646.9 226.7L646.1 227.1"/>
<path class="j43" d="M664.2 195.4L663.9 196.3M657.5 216.4L657.2 217.3M646.1 227.1L644.8 227.6"/>
<path class="j46" d="M663.9 196.3L663.5 197.7M657.8 215.5L657.5 216.4M644.8 227.6L643.2 228.4"/>
<path class="j49" d="M663.5 197.7L663 199M658.2 214.1L657.8 215.5M643.2 228.4L638.7 230.4"/>
<path class="j52" d="M663 199L662.5 200.9M659 211.8L658.2 214.1"/>
<path class="j55" d="M662.5 200.9L659 211.8"/>
<path class="j25" d="M654.6 223.2L649.7 225.4"/>
<path class="j31" d="M667.1 186.3L666.8 187.2M664.6 192.7L664.3 193.6M653.3 222.2L652.6 224.1M645.8 228.2L645.4 228.4"/>
<path class="j28" d="M666.8 187.2L665.5 190.4M665 191.8L664.6 192.7M652.6 224.1L652 225.6M646.2 228L645.8 228.2"/>
<path class="j25" d="M665.5 190.4L665 191.8M652 225.6L646.2 228"/>
<path class="j34" d="M664.3 193.6L664.1 194.1M653.7 221.3L653.3 222.2M645.4 228.4L644.6 228.7"/>
<path class="j37" d="M664.1 194.1L663.6 195.5M654 220.4L653.7 221.3M644.6 228.7L643.8 229.1"/>
<path class="j40" d="M663.6 195.5L663.2 196.4M654.4 219.4L654 220.4M643.8 229.1L643 229.4"/>
<path class="j43" d="M663.2 196.4L662.9 197.3M654.7 218.5L654.4 219.4M643 229.4L641.7 229.9"/>
<path class="j46" d="M662.9 197.3L662.3 198.7M655.3 217.1L654.7 218.5M641.7 229.9L640.5 230.5"/>
<path class="j49" d="M662.3 198.7L661.8 200.1M655.8 215.8L655.3 217.1M640.5 230.5L638.8 231.2"/>
<path class="j52" d="M661.8 200.1L660.7 202.9M656.8 213L655.8 215.8M638.8 231.2L638 231.5"/>
<path class="j55" d="M660.7 202.9L656.8 213"/>
<path class="j31" d="M667.1 186.3L666.9 187.2M665.8 191.6L665.6 192.5M659.7 217.2L659.4 218.5M651.6 223.4L650.9 223.8"/>
<path class="j28" d="M666.9 187.2L666.2 190.3M665.9 191.2L665.8 191.6M659.4 218.5L659.2 219.6L658.8 219.8M652.4 223.1L651.6 223.4"/>
<path class="j25" d="M666.2 190.3L665.9 191.2M658.8 219.8L652.4 223.1"/>
<path class="j34" d="M665.6 192.5L665.4 193.4M660.1 215.8L659.7 217.2M650.9 223.8L649.7 224.4"/>
<path class="j37" d="M665.4 193.4L665.3 193.9M660.3 214.9L660.1 215.8M649.7 224.4L648.6 225"/>
<path class="j40" d="M665.3 193.9L665.1 194.8M660.4 214.5L660.3 214.9"/>
<path class="j43" d="M665.1 194.8L664.8 196.1M660.6 213.6L660.4 214.5"/>
<path class="j46" d="M664.8 196.1L664.6 197M660.9 212.2L660.6 213.6"/>
<path class="j49" d="M664.6 197L664.2 198.3M661.2 210.9L660.9 212.2"/>
<path class="j52" d="M664.2 198.3L663.6 201M661.9 208.2L661.2 210.9"/>
<path class="j55" d="M663.6 201L661.9 208.2"/>
<path class="j31" d="M667.1 186.3L666.6 187.6M664.6 192.7L664.2 193.6M652.5 223.2L651.9 224.6M645.4 228.5L645 228.6"/>
<path class="j28" d="M666.6 187.6L664.6 192.7M651.9 224.6L651.4 226L650.5 226.3M645.8 228.3L645.4 228.5"/>
<path class="j34" d="M664.2 193.6L664 194.1M653 221.8L652.5 223.2M645 228.6L644.2 229"/>
<path class="j37" d="M664 194.1L663.6 195M653.4 220.9L653 221.8M644.2 229L643.7 229.2"/>
<path class="j40" d="M663.6 195L663.1 196.4M653.7 220L653.4 220.9M643.7 229.2L642.9 229.5"/>
<path class="j43" d="M663.1 196.4L662.7 197.3M654.1 219.1L653.7 220M642.9 229.5L642 229.9"/>
<path class="j46" d="M662.7 197.3L662.2 198.7M654.7 217.7L654.1 219.1M642 229.9L640.8 230.4"/>
<path class="j49" d="M662.2 198.7L661.6 200.1M655.2 216.3L654.7 217.7M640.8 230.4L639.9 230.8"/>
<path class="j52" d="M661.6 200.1L660.7 202.4M656.1 214L655.2 216.3M639.9 230.8L638.2 231.5"/>
<path class="j55" d="M660.7 202.4L656.1 214M638.2 231.5L633.1 233.6M631.9 234.1L630.2 234.8"/>
<path class="j25" d="M650.5 226.3L645.8 228.3"/>
<path class="j58" d="M633.1 233.6L631.9 234.1"/>
<path class="j31" d="M667.1 186.3L666.8 187.2M664.9 192.7L664.6 193.6M655.5 220.4L655 221.8M647.8 226.7L647.4 226.9"/>
<path class="j28" d="M666.8 187.2L665.7 190.4M665.2 191.8L664.9 192.7M655 221.8L654.4 223.5L654 223.7M648.2 226.5L647.8 226.7"/>
<path class="j25" d="M665.7 190.4L665.2 191.8M654 223.7L648.2 226.5"/>
<path class="j34" d="M664.6 193.6L664.4 194.1M655.9 219L655.5 220.4M647.4 226.9L646.6 227.3"/>
<path class="j37" d="M664.4 194.1L664 195.5M656.3 218.1L655.9 219M646.6 227.3L645.8 227.7"/>
<path class="j40" d="M664 195.5L663.7 196.4M656.4 217.6L656.3 218.1M645.8 227.7L644.5 228.3"/>
<path class="j43" d="M663.7 196.4L663.3 197.3M656.9 216.2L656.4 217.6M644.5 228.3L643.3 228.9"/>
<path class="j46" d="M663.3 197.3L662.9 198.7M657.4 214.9L656.9 216.2M643.3 228.9L641.7 229.6"/>
<path class="j49" d="M662.9 198.7L662.2 200.6M658 213L657.4 214.9M641.7 229.6L632.6 234"/>
<path class="j52" d="M662.2 200.6L661 204.2M659.3 209.3L658 213"/>
<path class="j55" d="M661 204.2L659.3 209.3"/>
<path class="j31" d="M667.1 186.3L666.7 187.7M665.3 192.8L665 193.7M658.4 216.9L657.9 218.7M651.2 223.9L650.8 224.1"/>
<path class="j28" d="M666.7 187.7L665.7 191.4M665.5 191.8L665.3 192.8M657.9 218.7L657.4 220.6L657 220.8M652 223.5L651.2 223.9"/>
<path class="j25" d="M665.7 191.4L665.5 191.8M657 220.8L652 223.5"/>
<path class="j34" d="M665 193.7L664.8 194.6M658.8 215.5L658.4 216.9M650.8 224.1L650.1 224.5"/>
<path class="j37" d="M664.8 194.6L664.5 195.5M659.1 214.5L658.8 215.5M650.1 224.5L649.3 225"/>
<path class="j40" d="M664.5 195.5L664.1 196.9M659.4 213.6L659.1 214.5M649.3 225L648.2 225.6"/>
<path class="j43" d="M664.1 196.9L663.7 198.3M659.8 212.2L659.4 213.6M648.2 225.6L646.6 226.4"/>
<path class="j46" d="M663.7 198.3L663.2 200.2M660.4 209.9L659.8 212.2M646.6 226.4L644.7 227.5"/>
<path class="j49" d="M663.2 200.2L660.4 209.9M644.7 227.5L643.2 228.3"/>
<path class="j31" d="M667.1 186.3L666.9 187.1M666.2 190.5L666 191.4M660.4 217.4L660.1 218.7"/>
<path class="j28" d="M666.9 187.1L666.2 190.5M660.1 218.7L660.1 219"/>
<path class="j34" d="M666 191.4L665.9 191.8M660.6 216.6L660.4 217.4"/>
<path class="j37" d="M665.9 191.8L665.7 192.7M660.8 215.7L660.6 216.6"/>
<path class="j40" d="M665.7 192.7L665.7 193.1M660.9 215.3L660.8 215.7"/>
<path class="j43" d="M665.7 193.1L665.5 193.9M661 214.4L660.9 215.3"/>
<path class="j46" d="M665.5 193.9L665.3 194.8M661.2 213.6L661 214.4"/>
<path class="j49" d="M665.3 194.8L665.1 195.7M661.4 212.7L661.2 213.6"/>
<path class="j52" d="M665.1 195.7L664.8 196.9M661.7 211.5L661.4 212.7"/>
<path class="j55" d="M664.8 196.9L664.2 199.9M662.3 208.5L661.7 211.5"/>
<path class="j58" d="M664.2 199.9L662.3 208.5"/>
<path class="j31" d="M667.1 186.3L666.8 187.6M666 191.1L665.9 191.5M659.6 218.2L659.3 219.5"/>
<path class="j28" d="M666.8 187.6L666 191.1M659.3 219.5L659.3 219.6"/>
<path class="j34" d="M665.9 191.5L665.7 192.4M660 216.9L659.6 218.2"/>
<path class="j37" d="M665.7 192.4L665.6 192.8M660.2 216L660 216.9"/>
<path class="j40" d="M665.6 192.8L665.4 193.7M660.3 215.6L660.2 216"/>
<path class="j43" d="M665.4 193.7L665.2 194.6M660.5 214.7L660.3 215.6"/>
<path class="j46" d="M665.2 194.6L665 195.5M660.7 213.9L660.5 214.7"/>
<path class="j49" d="M665 195.5L664.8 196.3M660.9 213L660.7 213.9"/>
<path class="j52" d="M664.8 196.3L664.5 197.6M661.3 211.2L660.9 213"/>
<path class="j55" d="M664.5 197.6L663.7 200.7M661.9 208.6L661.3 211.2"/>
<path class="j58" d="M663.7 200.7L661.9 208.6"/>
<path class="j31" d="M667.1 186.3L666.9 187.2M663.8 199.3L662.2 205.6M653.5 221.4L652.9 221.9M645.1 229L643.8 230.1"/>
<path class="j28" d="M666.9 187.2L666.2 190.1M664.4 196.9L663.8 199.3M662.2 205.6L661.4 209M654.1 220.8L653.5 221.4M643.8 230.1L642 231.8"/>
<path class="j25" d="M666.2 190.1L664.4 196.9M661.4 209L659.7 215.7L658.5 216.8M657.8 217.4L654.1 220.8"/>
<path class="j22" d="M658.5 216.8L657.8 217.4"/>
<path class="j34" d="M652.9 221.9L651.9 222.8M646 228.1L645.1 229"/>
<path class="j37" d="M651.9 222.8L646 228.1"/>
<path class="j31" d="M667.1 186.3L666.8 187.2M664.2 195.3L663.9 196.3M658.1 213.9L657.5 215.8"/>
<path class="j28" d="M666.8 187.2L665.6 191M664.6 193.9L664.2 195.3M657.5 215.8L656.6 218.7"/>
<path class="j25" d="M665.6 191L664.6 193.9M656.6 218.7L656 220.5L634.7 237.7"/>
<path class="j34" d="M663.9 196.3L663.6 197.2M658.6 212.5L658.1 213.9"/>
<path class="j37" d="M663.6 197.2L662.8 199.6M659 211L658.6 212.5"/>
<path class="j40" d="M662.8 199.6L659 211"/>
<path class="j31" d="M667.1 186.3L666.8 187.7M664.6 195.8L664.4 196.8M661 209.7L660.5 211.6M653 221.9L652.3 222.4M637.7 233.5L636.3 234.6"/>
<path class="j28" d="M666.8 187.7L665.6 192M665 194.4L664.6 195.8M660.5 211.6L659.5 215.5M653.3 221.6L653 221.9M636.3 234.6L635.2 235.4"/>
<path class="j25" d="M665.6 192L665 194.4M659.5 215.5L659 217.3L653.3 221.6"/>
<path class="j34" d="M664.4 196.8L664 198.2M661.5 207.8L661 209.7M652.3 222.4L651.5 222.9M638.4 232.9L637.7 233.5"/>
<path class="j37" d="M664 198.2L661.5 207.8M651.5 222.9L650.5 223.7M639.5 232.1L638.4 232.9"/>
<path class="j40" d="M650.5 223.7L649.4 224.6M640.5 231.3L639.5 232.1"/>
<path class="j43" d="M649.4 224.6L647.3 226.2M643 229.4L640.5 231.3"/>
<path class="j46" d="M647.3 226.2L643 229.4"/>
<path class="j31" d="M667.1 186.3L666.6 187.7M663.1 196.8L662.6 198.3M657.1 212.7L656.2 215.1M645.5 227.8L644.4 228.7M636.4 235.2L634.5 236.7"/>
<path class="j28" d="M666.6 187.7L664.2 193.9M663.7 195.4L663.1 196.8M656.2 215.1L654.6 219.4M646.6 226.9L645.5 227.8M634.5 236.7L631.2 239.3"/>
<path class="j25" d="M664.2 193.9L663.7 195.4M654.6 219.4L654 221L646.6 226.9M631.2 239.3L629.6 240.6"/>
<path class="j34" d="M662.6 198.3L662 199.7M657.9 210.8L657.1 212.7M644.4 228.7L643 229.9M637.8 234L636.4 235.2"/>
<path class="j37" d="M662 199.7L657.9 210.8M643 229.9L637.8 234"/>
<path class="j31" d="M667.1 186.3L666.7 187.7M665.1 193.8L664.8 194.7M659.4 214.5L658.7 216.9M651.4 224L650.4 224.7M644 229.3L642 230.8"/>
<path class="j28" d="M666.7 187.7L665.1 193.8M658.7 216.9L658.1 219.1L657.1 219.8M653.1 222.7L651.4 224M642 230.8L641 231.5"/>
<path class="j34" d="M664.8 194.7L664.7 195.2M659.8 213.1L659.4 214.5M650.4 224.7L649.4 225.4M645.4 228.3L644 229.3"/>
<path class="j37" d="M664.7 195.2L664.3 196.6M660 212.2L659.8 213.1M649.4 225.4L645.4 228.3"/>
<path class="j40" d="M664.3 196.6L663.8 198.5M660.6 210.3L660 212.2"/>
<path class="j43" d="M663.8 198.5L662.9 201.8M661.5 207L660.6 210.3"/>
<path class="j46" d="M662.9 201.8L661.5 207"/>
<path class="j25" d="M657.1 219.8L653.1 222.7"/>
<path class="j31" d="M667.1 186.3L666.8 187.7M665.4 193.8L665.2 194.7M661 212.6L660.4 215M654.4 221.1L653.7 221.6"/>
<path class="j28" d="M666.8 187.7L665.4 193.8M660.4 215L659.9 217.2L654.4 221.1"/>
<path class="j34" d="M665.2 194.7L664.9 195.7M661.4 210.7L661 212.6M653.7 221.6L653 222.1M641.2 230.4L640.9 230.6"/>
<path class="j37" d="M664.9 195.7L664.6 197.1M661.6 209.8L661.4 210.7M653 222.1L652.3 222.6M642.2 229.6L641.2 230.4"/>
<path class="j40" d="M664.6 197.1L664.2 199M662.2 207.5L661.6 209.8M652.3 222.6L650.9 223.6M643.3 228.9L642.2 229.6"/>
<path class="j43" d="M664.2 199L662.2 207.5M650.9 223.6L648.8 225M646.1 227L643.3 228.9"/>
<path class="j46" d="M648.8 225L646.1 227"/>
<path class="j31" d="M667.1 186.3L666.6 188.2M664.7 195.4L664.4 196.3M660.6 210.7L659.8 213.6M651.2 224.2L647.8 227.3"/>
<path class="j28" d="M666.6 188.2L664.7 195.4M659.8 213.6L658.9 217.3L651.2 224.2M647.8 227.3L642.2 232.4"/>
<path class="j34" d="M664.4 196.3L664.1 197.8M661.1 208.8L660.6 210.7"/>
<path class="j37" d="M664.1 197.8L663.4 200.2M661.8 206.4L661.1 208.8"/>
<path class="j40" d="M663.4 200.2L661.8 206.4"/>
<path class="j31" d="M667.1 186.3L666.5 188.1M664.6 193.3L664.3 194.3M655.7 218.9L654.7 221.7M648 226.5L647.3 227M631.7 237L629.4 238.5"/>
<path class="j28" d="M666.5 188.1L664.6 193.3M654.7 221.7L654.5 222.3L648 226.5M629.4 238.5L628.3 239.2"/>
<path class="j34" d="M664.3 194.3L664 195.2M656.4 217L655.7 218.9M647.3 227L646.5 227.5M633.2 236.1L631.7 237"/>
<path class="j37" d="M664 195.2L663.7 196.2M656.7 216L656.4 217M646.5 227.5L645.8 227.9M634.4 235.3L633.2 236.1"/>
<path class="j40" d="M663.7 196.2L663.2 197.6M657.2 214.6L656.7 216M645.8 227.9L644.2 228.9M635.5 234.6L634.4 235.3"/>
<path class="j43" d="M663.2 197.6L662.5 199.5M657.9 212.7L657.2 214.6M644.2 228.9L635.5 234.6"/>
<path class="j46" d="M662.5 199.5L661.5 202.3M658.9 209.9L657.9 212.7"/>
<path class="j49" d="M661.5 202.3L658.9 209.9"/>
<path class="j31" d="M667.1 186.3L666.3 188.6M664.4 193.8L664 194.8M655.3 219L654.2 221.8M647.8 226.6L647.1 227.1M633.7 236.2L631.5 237.7"/>
<path class="j28" d="M666.3 188.6L664.4 193.8M654.2 221.8L654 222.4L647.8 226.6"/>
<path class="j34" d="M664 194.8L663.7 195.7M656 217.1L655.3 219M647.1 227.1L646.4 227.6M635.5 235L633.7 236.2"/>
<path class="j37" d="M663.7 195.7L663.3 196.7M656.5 215.7L656 217.1M646.4 227.6L645.3 228.3M636.6 234.3L635.5 235"/>
<path class="j40" d="M663.3 196.7L662.8 198.1M657 214.2L656.5 215.7M645.3 228.3L643.8 229.3M638 233.3L636.6 234.3"/>
<path class="j43" d="M662.8 198.1L662 200.5M657.7 212.3L657 214.2M643.8 229.3L638 233.3"/>
<path class="j46" d="M662 200.5L660.6 204.3M659.4 207.6L657.7 212.3"/>
<path class="j49" d="M660.6 204.3L659.4 207.6"/>
<path class="j31" d="M667.1 186.3L666.4 189.6M665.6 193.9L665.3 195.3M662.2 210.5L661.4 214.3"/>
<path class="j28" d="M666.4 189.6L665.6 193.9M661.4 214.3L661.2 215.2L645.7 229.9"/>
<path class="j34" d="M665.3 195.3L665.1 196.2M662.7 208.1L662.2 210.5"/>
<path class="j37" d="M665.1 196.2L664.8 197.7M663.1 206.2L662.7 208.1"/>
<path class="j40" d="M664.8 197.7L663.1 206.2"/>
<path class="j31" d="M667.1 186.3L665.4 190.6M664 193.9L662.8 196.8M654.4 217.4L652.6 221.7M647.1 226.4L646 227.2M631.4 238.2L630.7 238.8"/>
<path class="j28" d="M665.4 190.6L664 193.9M652.6 221.7L652.3 222.4L647.1 226.4"/>
<path class="j34" d="M662.8 196.8L662.4 197.7M655.6 214.5L654.4 217.4M646 227.2L645.7 227.4M632.8 237.2L631.4 238.2"/>
<path class="j37" d="M662.4 197.7L661.8 199.2M656.1 213.1L655.6 214.5M645.7 227.4L645 228M634.2 236.1L632.8 237.2"/>
<path class="j40" d="M661.8 199.2L660.9 201.6M657.1 210.7L656.1 213.1M645 228L644 228.7M634.9 235.6L634.2 236.1"/>
<path class="j43" d="M660.9 201.6L657.1 210.7M644 228.7L642.2 230.1M636.7 234.3L634.9 235.6"/>
<path class="j46" d="M642.2 230.1L636.7 234.3"/>
<path class="j31" d="M667.1 186.3L664.3 194.3M655.8 219.1L655 221.5L653.8 222.2M650.8 224.3L648.2 226"/>
<path class="j34" d="M664.3 194.3L664 195.3M656.8 216.2L655.8 219.1M648.2 226L647.8 226.3"/>
<path class="j37" d="M664 195.3L663.7 196.2M657.3 214.8L656.8 216.2M647.8 226.3L647.1 226.8"/>
<path class="j40" d="M663.7 196.2L663.2 197.7M657.8 213.4L657.3 214.8M647.1 226.8L646 227.6M634.7 235.2L633.6 236"/>
<path class="j43" d="M663.2 197.7L662.4 200.1M658.3 211.9L657.8 213.4M646 227.6L644.5 228.6M635.8 234.5L634.7 235.2"/>
<path class="j46" d="M662.4 200.1L660.9 204.3M660.1 206.7L658.3 211.9M644.5 228.6L641.5 230.6M640 231.7L635.8 234.5"/>
<path class="j49" d="M660.9 204.3L660.1 206.7M641.5 230.6L640 231.7"/>
<path class="j28" d="M653.8 222.2L650.8 224.3"/>
<circle class="rc" cx="665.6" cy="186.3" r="4.7"/>
<circle class="rc" cx="663.8" cy="187.5" r="4.7"/>
<circle class="rc" cx="663.1" cy="191.0" r="4.7"/>
<circle class="rc" cx="661.4" cy="195.1" r="4.7"/>
<circle class="rc" cx="665.1" cy="190.5" r="4.7"/>
<circle class="rc" cx="662.2" cy="199.3" r="4.7"/>
<circle class="rc" cx="663.6" cy="196.9" r="4.7"/>
<circle class="rc" cx="666.0" cy="195.6" r="4.7"/>
<circle class="rc" cx="655.5" cy="208.2" r="4.7"/>
<circle class="rc" cx="664.2" cy="200.7" r="4.7"/>
<circle class="rc" cx="666.4" cy="197.7" r="4.7"/>
<circle class="rc" cx="661.6" cy="201.3" r="4.7"/>
<circle class="rc" cx="653.7" cy="217.9" r="4.7"/>
<circle class="rc" cx="657.9" cy="213.2" r="4.7"/>
<circle class="rc" cx="642.6" cy="227.2" r="4.7"/>
<circle class="rc" cx="648.4" cy="222.5" r="4.7"/>
<circle class="rc" cx="651.7" cy="220.1" r="4.7"/>
<circle class="rc" cx="656.0" cy="215.1" r="4.7"/>
<circle class="rc" cx="646.1" cy="224.1" r="4.7"/>
<circle class="rc" cx="649.7" cy="221.2" r="4.7"/>
<circle class="rc" cx="635.4" cy="230.9" r="4.7"/>
<circle class="rc" cx="621.2" cy="238.3" r="4.7"/>
<circle class="rc" cx="642.8" cy="225.3" r="4.7"/>
<circle class="rc" cx="648.6" cy="219.5" r="4.7"/>
<circle class="rc" cx="618.0" cy="239.7" r="4.7"/>
<circle class="rc" cx="596.0" cy="244.6" r="4.7"/>
<circle class="rc" cx="602.2" cy="243.9" r="4.7"/>
<circle class="rc" cx="604.0" cy="241.0" r="4.7"/>
<circle class="rc" cx="615.7" cy="239.3" r="4.7"/>
<circle class="rc" cx="606.9" cy="239.4" r="4.7"/>
<circle class="rc" cx="624.6" cy="237.7" r="4.7"/>
<circle class="rc" cx="633.6" cy="236.0" r="4.7"/>
<path class="j31" d="M667.1 186.3L667 186.8"/>
<path class="j34" d="M667 186.8L662.7 202L656.4 216.7L651.5 223.1M648.3 227.2L645.4 230.9L641 233.4M628.2 240.5L626.9 241.2L620.2 241.9M610.1 242.9L606.8 243.3L600.4 246.1M587.1 252.1L584.7 253.2"/>
<path class="j37" d="M651.5 223.1L648.3 227.2M641 233.4L628.2 240.5M620.2 241.9L610.1 242.9M600.4 246.1L587.1 252.1"/>
<path class="j31" d="M667.1 186.3L667 186.8"/>
<path class="j34" d="M667 186.8L664.7 199.2L659.4 214L651.1 226.7L640.2 234.2L632.4 235.8M623.7 237.6L619.2 238.5L612.8 242.1M596.6 251.4L594.2 252.7L586.5 252M562.7 249.9L559 249.5"/>
<path class="j37" d="M632.4 235.8L623.7 237.6M612.8 242.1L596.6 251.4M586.5 252L562.7 249.9"/>
<path class="j31" d="M667.1 186.3L665.1 196.3L659.5 211.7L653.6 221.5L646 230.4L633.1 238.9L611 243.8L591.4 242.2L569.7 250.6L544 252"/>
<path class="j31" d="M667.1 186.3L667 187.3"/>
<path class="j34" d="M667 187.3L664.1 204.1L656.3 220.7L641 234.1L629 237.3M627.1 237.8L617.4 240.5L595.6 252.3L586 251.2M568.7 249.2L562.5 248.4L551.1 247.8M535.2 246.9L528.7 246.5"/>
<path class="j37" d="M629 237.3L627.1 237.8M586 251.2L568.7 249.2M551.1 247.8L535.2 246.9"/>
<path class="j31" d="M667.1 186.3L666.9 187.3M507.8 232.5L507.6 232"/>
<path class="j28" d="M666.9 187.3L666.5 189.7M508.1 232.9L507.8 232.5"/>
<path class="j25" d="M666.5 189.7L664.5 200.7M625.3 236.8L614.5 238M594.1 244.7L586.5 248.1M544.1 250.7L513.3 239.2M509.8 235.5L508.1 232.9"/>
<path class="j22" d="M664.5 200.7L663.1 208.7L652.4 225.8L635.3 235.7L625.3 236.8M614.5 238L607.4 238.8L594.1 244.7M586.5 248.1L577.9 252L551.7 253.6L544.1 250.7M513.3 239.2L511.8 238.6L509.8 235.5"/>
<path class="j34" d="M507.6 232L507 231.1"/>
<path class="j37" d="M507 231.1L506.7 230.7"/>
<path class="j40" d="M506.7 230.7L506.2 229.8"/>
<path class="j43" d="M506.2 229.8L505.9 229.4"/>
<path class="j46" d="M505.9 229.4L505.3 228.5"/>
<path class="j49" d="M505.3 228.5L504.7 227.6"/>
<path class="j52" d="M504.7 227.6L503.9 226.3"/>
<path class="j55" d="M503.9 226.3L502.2 223.6"/>
<path class="j58" d="M502.2 223.6L501.4 222.3"/>
<path class="j31" d="M667.1 186.3L666.9 187.2M507.4 231.3L506.7 230.5"/>
<path class="j28" d="M666.9 187.2L665.9 190.7M576.6 251.4L571.1 250.7M507.8 231.7L507.4 231.3"/>
<path class="j25" d="M665.9 190.7L659.4 214L643.3 232.9L618.7 239.4L592 253.5L576.6 251.4M571.1 250.7L558.3 248.9L523.7 245L522.9 244.4M510.3 234.6L507.8 231.7"/>
<path class="j22" d="M522.9 244.4L513.6 238.3L510.3 234.6"/>
<path class="j34" d="M506.7 230.5L506 229.6"/>
<path class="j37" d="M506 229.6L505.3 228.8"/>
<path class="j40" d="M505.3 228.8L504.5 228"/>
<path class="j43" d="M504.5 228L503.8 227.2"/>
<path class="j46" d="M503.8 227.2L503.1 226.3"/>
<path class="j49" d="M503.1 226.3L502 225.1"/>
<path class="j52" d="M502 225.1L500.5 223.4"/>
<path class="j55" d="M500.5 223.4L497.6 220.1"/>
<path class="j58" d="M497.6 220.1L496.9 219.3"/>
<path class="j31" d="M667.1 186.3L666.8 187.3"/>
<path class="j28" d="M666.8 187.3L666.1 189.8"/>
<path class="j25" d="M666.1 189.8L664 197M561.9 253.7L547.9 250.7"/>
<path class="j22" d="M664 197L662.9 200.7L655.3 216.7L646 229.8L636 237.6L621.5 242.4L606.2 243.2L586.7 252.7L568.4 255.1L561.9 253.7M547.9 250.7L544.8 250"/>
<path class="j31" d="M667.1 186.3L666.9 187.2"/>
<path class="j28" d="M666.9 187.2L666.1 190.2"/>
<path class="j25" d="M666.1 190.2L659.3 215.4L659 215.8M656.3 218.8L645.7 231.1M641.5 232.8L625.5 237.9M619.2 237.8L604.5 237.3M595.2 241L582.7 248.2M575.1 250.6L557.2 253.9"/>
<path class="j22" d="M659 215.8L656.3 218.8M645.7 231.1L645.2 231.6L641.5 232.8M625.5 237.9L619.2 237.8M604.5 237.3L602 237.2L595.2 241M582.7 248.2L580.3 249.6L575.1 250.6M557.2 253.9L556.4 254"/>
<path class="j31" d="M667.1 186.3L667 187.3"/>
<path class="j28" d="M667 187.3L666.4 190.4"/>
<path class="j25" d="M666.4 190.4L664.8 200.1M662 207.4L659 214.7M654.9 220.9L646.8 230.2M643 232.1L628.6 237.8M623.4 238.2L605.7 239M600.1 241.3L577.9 252"/>
<path class="j22" d="M664.8 200.1L664.6 201.1L662 207.4M659 214.7L657.7 217.6L654.9 220.9M646.8 230.2L646.3 230.8L643 232.1M628.6 237.8L623.4 238.2M605.7 239L604.8 239.1L600.1 241.3M577.9 252L577.7 252.1"/>
<path class="j31" d="M667.1 186.3L666.8 187.3"/>
<path class="j28" d="M666.8 187.3L666.1 189.8"/>
<path class="j25" d="M666.1 189.8L664.4 195.9"/>
<path class="j22" d="M664.4 195.9L661.7 205.5L652.8 221.8L638.8 235.8L618.4 245.3"/>
<path class="j31" d="M667.1 186.3L667 187.3"/>
<path class="j28" d="M667 187.3L666.5 190.4"/>
<path class="j25" d="M666.5 190.4L665.2 198.2L659.7 213.5M657.2 217.5L654.6 221.5"/>
<path class="j22" d="M659.7 213.5L657.2 217.5M654.6 221.5L653.5 223.2"/>
<path class="j31" d="M667.1 186.3L666.8 187.3"/>
<path class="j28" d="M666.8 187.3L666.1 189.9"/>
<path class="j25" d="M666.1 189.9L664 197.6"/>
<path class="j22" d="M664 197.6L663.2 200.7L656.2 217.1L648.3 228.1L637.1 236.9"/>
<path class="j31" d="M667.1 186.3L666.9 187.3"/>
<path class="j28" d="M666.9 187.3L666.2 190.4"/>
<path class="j25" d="M666.2 190.4L663.9 200.7L656.4 218.5M655.4 219.5L642.2 233.7L629.4 238.7"/>
<path class="j22" d="M656.4 218.5L655.4 219.5"/>
<path class="j31" d="M667.1 186.3L666.9 187.3"/>
<path class="j28" d="M666.9 187.3L666.3 189.8"/>
<path class="j25" d="M666.3 189.8L664.6 196.5"/>
<path class="j22" d="M664.6 196.5L662.9 203.6L655.5 219.3"/>
<path class="j31" d="M667.1 186.3L666.9 187.3"/>
<path class="j28" d="M666.9 187.3L666.3 190.4"/>
<path class="j25" d="M666.3 190.4L664.6 198.1M643.4 232.1L636.9 235.8"/>
<path class="j22" d="M664.6 198.1L661.3 208.9L656.3 219.6L648 229.4L643.4 232.1M636.9 235.8L635.1 236.9"/>
<path class="j31" d="M667.1 186.3L666.9 187.3"/>
<path class="j28" d="M666.9 187.3L666.3 190.4"/>
<path class="j25" d="M666.3 190.4L664.7 197.7M663.2 202.4L660.2 211.9M657.1 217.8L652.2 225.4"/>
<path class="j22" d="M664.7 197.7L663.2 202.4M660.2 211.9L659.5 214.2L657.1 217.8M652.2 225.4L651.4 226.6L641.8 233.2L635.4 234.9"/>
<path class="j31" d="M667.1 186.3L666.9 187.3"/>
<path class="j28" d="M666.9 187.3L666.5 189.9"/>
<path class="j25" d="M666.5 189.9L665.4 195.5"/>
<path class="j22" d="M665.4 195.5L664.4 201.4L657.7 217.3"/>
<path class="j31" d="M667.1 186.3L666.9 187.3"/>
<path class="j28" d="M666.9 187.3L666.4 189.9"/>
<path class="j25" d="M666.4 189.9L664.9 197.7"/>
<path class="j22" d="M664.9 197.7L660.4 210.8L654.7 221.1"/>
<path class="j31" d="M667.1 186.3L666.9 187.3"/>
<path class="j28" d="M666.9 187.3L666.4 189.3"/>
<path class="j25" d="M666.4 189.3L665.1 194.5"/>
<path class="j22" d="M665.1 194.5L663.6 200.3L657.6 216.2L649.1 228.1L638.9 235.6L633 237.2"/>
<path class="j31" d="M667.1 186.3L666.9 187.3"/>
<path class="j28" d="M666.9 187.3L666.3 189.8"/>
<path class="j25" d="M666.3 189.8L664.9 196"/>
<path class="j22" d="M664.9 196L663.3 203.3L653.8 222.1L637.7 236.5"/>
<path class="j31" d="M667.1 186.3L666.9 187.3"/>
<path class="j28" d="M666.9 187.3L666.1 190.3"/>
<path class="j25" d="M666.1 190.3L662 206.5M659.2 211.8L650 226.6M644.6 231L636.9 236.6"/>
<path class="j22" d="M662 206.5L661.7 207.7L659.2 211.8M650 226.6L649.6 227.3L644.6 231M636.9 236.6L634.8 238.1"/>
<path class="j31" d="M667.1 186.3L666.9 187.3"/>
<path class="j28" d="M666.9 187.3L666.6 189.4"/>
<path class="j25" d="M666.6 189.4L665.7 194.6"/>
<path class="j22" d="M665.7 194.6L665.3 196.8L661.7 209.1L654.6 222.3L641.7 233.9"/>
<path class="j31" d="M667.1 186.3L666.9 187.3"/>
<path class="j28" d="M666.9 187.3L666.4 189.9"/>
<path class="j25" d="M666.4 189.9L665.1 196.2"/>
<path class="j22" d="M665.1 196.2L659.4 212.3L653.5 222.6L645.2 231.5L633.2 238.4"/>
<path class="j31" d="M667.1 186.3L666.8 187.3"/>
<path class="j28" d="M666.8 187.3L666.1 189.8"/>
<path class="j25" d="M666.1 189.8L664.1 196.4"/>
<path class="j22" d="M664.1 196.4L661.4 205.4L653.2 222L642.8 233.3L627.8 239"/>
<path class="j31" d="M667.1 186.3L666.8 187.3"/>
<path class="j28" d="M666.8 187.3L665.8 190.7"/>
<path class="j25" d="M665.8 190.7L659.2 213.2L647.4 229.5"/>
<path class="j31" d="M667.1 186.3L667 187.3"/>
<path class="j28" d="M667 187.3L666.6 190.4"/>
<path class="j25" d="M666.6 190.4L665.9 195.5L662.8 208.4M660.9 212.6L654.3 224.1M651.9 225.7L641.8 232.4"/>
<path class="j22" d="M662.8 208.4L662.4 210L660.9 212.6M654.3 224.1L651.9 225.7"/>
<path class="j31" d="M667.1 186.3L666.9 187.3"/>
<path class="j28" d="M666.9 187.3L666.2 189.9"/>
<path class="j25" d="M666.2 189.9L664.5 196.9M655.2 218.6L649 227.6"/>
<path class="j22" d="M664.5 196.9L658.2 214L655.2 218.6M649 227.6L648.1 229"/>
<path class="j31" d="M667.1 186.3L666.9 187.3"/>
<path class="j28" d="M666.9 187.3L666.4 189.9"/>
<path class="j25" d="M666.4 189.9L664.8 197.2"/>
<path class="j22" d="M664.8 197.2L661.2 209.8L656.3 220.4L649.7 228.2"/>
<path class="j31" d="M667.1 186.3L667 187.3"/>
<path class="j28" d="M667 187.3L666.6 190.4"/>
<path class="j25" d="M666.6 190.4L665.3 199.6M663.3 205.7L659.8 215.5M655.6 221.2L649.7 227.8M641.8 232.5L638.2 234.3"/>
<path class="j22" d="M665.3 199.6L663.3 205.7M659.8 215.5L659.2 217.2L655.6 221.2M649.7 227.8L648.4 229.2L641.8 232.5M638.2 234.3L637.3 234.7"/>
<path class="j31" d="M667.1 186.3L666.9 187.3"/>
<path class="j28" d="M666.9 187.3L666.5 189.8"/>
<path class="j25" d="M666.5 189.8L664.7 198.9"/>
<path class="j22" d="M664.7 198.9L663.5 205.2L654.3 223.1L642.2 233.1L626.1 237.4"/>
<path class="j31" d="M667.1 186.3L666.8 187.3"/>
<path class="j28" d="M666.8 187.3L666 190.3"/>
<path class="j25" d="M666 190.3L663 201M659 210.6L652.8 222.7M647.3 228.3L639.3 235.1M632.2 238.2L614.6 243.4"/>
<path class="j22" d="M663 201L661.9 205L659 210.6M652.8 222.7L651.9 224.4L647.3 228.3M639.3 235.1L637.3 236.7L632.2 238.2M614.6 243.4L613.5 243.8"/>
<path class="j31" d="M667.1 186.3L667 187.3"/>
<path class="j28" d="M667 187.3L666.5 189.9"/>
<path class="j25" d="M666.5 189.9L665.5 195.9"/>
<path class="j22" d="M665.5 195.9L659.6 213.9L652.5 225.2L642.1 233.5"/>
<path class="j31" d="M667.1 186.3L667 187.3"/>
<path class="j28" d="M667 187.3L666.5 190.4"/>
<path class="j25" d="M666.5 190.4L665.6 197.4L660.4 213.4M658.7 216.5L656 221.2M652.8 224.8L649.9 227.8M646.7 229.9L638.1 234.1"/>
<path class="j22" d="M660.4 213.4L658.7 216.5M656 221.2L655.5 222.1L652.8 224.8M649.9 227.8L649 228.8L646.7 229.9"/>
<path class="j31" d="M667.1 186.3L666.9 187.3"/>
<path class="j28" d="M666.9 187.3L666.6 189.4"/>
<path class="j25" d="M666.6 189.4L665.7 194.6"/>
<path class="j22" d="M665.7 194.6L664.9 198.6L658.9 214.6L649.6 227.9L636.8 236.1L630.9 237"/>
<path class="j31" d="M667.1 186.3L666.9 187.3"/>
<path class="j28" d="M666.9 187.3L666.4 190.4"/>
<path class="j25" d="M666.4 190.4L665.5 195.9L660.1 211.2M657.1 216.5L649.9 227.3"/>
<path class="j22" d="M660.1 211.2L659.5 213L657.1 216.5M649.9 227.3L649.7 227.6"/>
<path class="j31" d="M667.1 186.3L667 187.3"/>
<path class="j28" d="M667 187.3L666.6 189.9"/>
<path class="j25" d="M666.6 189.9L665.7 195.7M655.2 219.8L650.5 226.1M644.3 231L634.8 235.5"/>
<path class="j22" d="M665.7 195.7L659.6 213.8L655.2 219.8M650.5 226.1L648.3 229.1L644.3 231"/>
<path class="j31" d="M667.1 186.3L666.8 187.3"/>
<path class="j28" d="M666.8 187.3L666.1 189.9"/>
<path class="j25" d="M666.1 189.9L664.6 195.6"/>
<path class="j22" d="M664.6 195.6L664.2 197.2L657 213.9L645.2 230.6L631 240.3L614.8 245"/>
<path class="j31" d="M667.1 186.3L666.9 187.2"/>
<path class="j28" d="M666.9 187.2L666.2 189.7"/>
<path class="j25" d="M666.2 189.7L660.5 210.9M655.3 219.6L650.5 226.1M642.8 231.5L634.1 235"/>
<path class="j22" d="M660.5 210.9L659.7 213.5L655.3 219.6M650.5 226.1L648 229.5L642.8 231.5"/>
<circle class="rc" cx="584.7" cy="253.2" r="4.7"/>
<circle class="rc" cx="640.2" cy="234.2" r="4.7"/>
<circle class="rc" cx="594.2" cy="252.7" r="4.7"/>
<circle class="rc" cx="559.0" cy="249.5" r="4.7"/>
<circle class="rc" cx="569.7" cy="250.6" r="4.7"/>
<circle class="rc" cx="544.0" cy="252.0" r="4.7"/>
<circle class="rc" cx="664.1" cy="204.1" r="4.7"/>
<circle class="rc" cx="528.7" cy="246.5" r="4.7"/>
<circle class="rc" cx="577.9" cy="252.0" r="4.7"/>
<circle class="rc" cx="551.7" cy="253.6" r="4.7"/>
<circle class="rc" cx="511.8" cy="238.6" r="4.7"/>
<circle class="rc" cx="501.4" cy="222.3" r="4.7"/>
<circle class="rc" cx="523.7" cy="245.0" r="4.7"/>
<circle class="rc" cx="496.9" cy="219.3" r="4.7"/>
<circle class="rc" cx="568.4" cy="255.1" r="4.7"/>
<circle class="rc" cx="580.3" cy="249.6" r="4.7"/>
<circle class="rc" cx="556.4" cy="254.0" r="4.7"/>
<circle class="rc" cx="628.4" cy="237.9" r="4.7"/>
<circle class="rc" cx="661.7" cy="205.5" r="4.7"/>
<circle class="rc" cx="637.7" cy="236.5" r="4.7"/>
<circle class="rc" cx="649.7" cy="228.2" r="4.7"/>
<circle class="rc" cx="660.7" cy="213.0" r="4.7"/>
<circle class="rc" cx="665.3" cy="196.1" r="4.7"/>
<circle class="rc" cx="660.2" cy="213.4" r="4.7"/>
<circle class="rc" cx="653.5" cy="224.4" r="4.7"/>
<circle class="rc" cx="643.5" cy="232.1" r="4.7"/>
<circle class="rc" cx="601.3" cy="239.5" r="4.7"/>
<circle class="rc" cx="585.3" cy="228.0" r="4.7"/>
<path class="j31" d="M667.1 186.3L666.9 187.3M638.9 233.7L625.8 238.7M622.3 238.9L611.6 240M607.3 239.6L603.6 239.3M597.4 235.9L596.6 235.4" stroke-width="1.5"/>
<path class="j28" d="M666.9 187.3L666.5 189.9M641.7 232.8L638.9 233.7M625.8 238.7L622.3 238.9M611.6 240L607.3 239.6M603.6 239.3L602.3 239.2L597.4 235.9" stroke-width="1.5"/>
<path class="j25" d="M666.5 189.9L665.4 195.7M643 232.3L641.7 232.8" stroke-width="1.5"/>
<path class="j22" d="M665.4 195.7L660.2 213.4L653.5 224.4L643 232.3" stroke-width="1.5"/>
<path class="j34" d="M596.6 235.4L595.9 234.9" stroke-width="1.5"/>
<path class="j37" d="M595.9 234.9L595.1 234.4" stroke-width="1.5"/>
<path class="j40" d="M595.1 234.4L594.7 234.1" stroke-width="1.5"/>
<path class="j43" d="M594.7 234.1L593.9 233.6" stroke-width="1.5"/>
<path class="j46" d="M593.9 233.6L593.1 233.1" stroke-width="1.5"/>
<path class="j49" d="M593.1 233.1L592.7 232.8" stroke-width="1.5"/>
<path class="j52" d="M592.7 232.8L591.5 232.1" stroke-width="1.5"/>
<path class="j55" d="M591.5 232.1L585.3 228" stroke-width="1.5"/>
<circle class="rc" cx="667.1" cy="186.3" r="4.7"/>
<circle class="rc" cx="666.8" cy="190.0" r="4.7"/>
<circle class="rc" cx="666.4" cy="192.5" r="4.7"/>
<path class="j1" d="M667.1 130.3L667.1 131.4" stroke-width="1.8"/>
<path class="j4" d="M667.1 131.4L667.1 131.9" stroke-width="1.8"/>
<path class="j7" d="M667.1 131.9L667.1 132.5" stroke-width="1.8"/>
<path class="j10" d="M667.1 132.5L667.1 133" stroke-width="1.8"/>
<path class="j16" d="M667.1 133L667.1 133.6" stroke-width="1.8"/>
<path class="j19" d="M667.1 133.6L667.1 134.6" stroke-width="1.8"/>
<path class="j22" d="M667.1 134.6L667.1 135.7" stroke-width="1.8"/>
<path class="j25" d="M667.1 135.7L667.1 144.4" stroke-width="1.8"/>
<path class="j28" d="M667.1 144.4L667.1 146.1" stroke-width="1.8"/>
<path class="j31" d="M667.1 146.1L667.1 147.7M667.1 185.7L667.1 186.3" stroke-width="1.8"/>
<path class="j34" d="M667.1 147.7L667.1 149.9M667.1 184.6L667.1 185.7" stroke-width="1.8"/>
<path class="j37" d="M667.1 149.9L667.1 151.5M667.1 182.5L667.1 184.6" stroke-width="1.8"/>
<path class="j40" d="M667.1 151.5L667.1 153.7M667.1 180.8L667.1 182.5" stroke-width="1.8"/>
<path class="j43" d="M667.1 153.7L667.1 156.4M667.1 178.7L667.1 180.8" stroke-width="1.8"/>
<path class="j46" d="M667.1 156.4L667.1 160.2M667.1 173.8L667.1 178.7" stroke-width="1.8"/>
<path class="j49" d="M667.1 160.2L667.1 173.8" stroke-width="1.8"/>
<circle cx="667.1" cy="130.3" r="4.7" stroke="#0f0" stroke-width="0.8"/>
</g>
<rect x="444.00" y="2.50" width="256.00" height="255.50" fill="none" stroke="#000" stroke-width="0.65"/>
<line x1="463.39" y1="258.00" x2="463.39" y2="255.40" stroke="#000" stroke-width="0.65"/>
<line x1="463.39" y1="2.50" x2="463.39" y2="5.10" stroke="#000" stroke-width="0.65"/>
<text x="460.09" y="272.40" font-size="10.67" text-anchor="middle">–200</text>
<line x1="490.55" y1="258.00" x2="490.55" y2="255.40" stroke="#000" stroke-width="0.65"/>
<line x1="490.55" y1="2.50" x2="490.55" y2="5.10" stroke="#000" stroke-width="0.65"/>
<text x="487.25" y="272.40" font-size="10.67" text-anchor="middle">–150</text>
<line x1="517.72" y1="258.00" x2="517.72" y2="255.40" stroke="#000" stroke-width="0.65"/>
<line x1="517.72" y1="2.50" x2="517.72" y2="5.10" stroke="#000" stroke-width="0.65"/>
<text x="514.42" y="272.40" font-size="10.67" text-anchor="middle">–100</text>
<line x1="544.88" y1="258.00" x2="544.88" y2="255.40" stroke="#000" stroke-width="0.65"/>
<line x1="544.88" y1="2.50" x2="544.88" y2="5.10" stroke="#000" stroke-width="0.65"/>
<text x="541.59" y="272.40" font-size="10.67" text-anchor="middle">–50</text>
<line x1="572.05" y1="258.00" x2="572.05" y2="255.40" stroke="#000" stroke-width="0.65"/>
<line x1="572.05" y1="2.50" x2="572.05" y2="5.10" stroke="#000" stroke-width="0.65"/>
<text x="572.05" y="272.40" font-size="10.67" text-anchor="middle">0</text>
<line x1="599.21" y1="258.00" x2="599.21" y2="255.40" stroke="#000" stroke-width="0.65"/>
<line x1="599.21" y1="2.50" x2="599.21" y2="5.10" stroke="#000" stroke-width="0.65"/>
<text x="599.21" y="272.40" font-size="10.67" text-anchor="middle">50</text>
<line x1="626.38" y1="258.00" x2="626.38" y2="255.40" stroke="#000" stroke-width="0.65"/>
<line x1="626.38" y1="2.50" x2="626.38" y2="5.10" stroke="#000" stroke-width="0.65"/>
<text x="626.38" y="272.40" font-size="10.67" text-anchor="middle">100</text>
<line x1="653.54" y1="258.00" x2="653.54" y2="255.40" stroke="#000" stroke-width="0.65"/>
<line x1="653.54" y1="2.50" x2="653.54" y2="5.10" stroke="#000" stroke-width="0.65"/>
<text x="653.54" y="272.40" font-size="10.67" text-anchor="middle">150</text>
<line x1="680.71" y1="258.00" x2="680.71" y2="255.40" stroke="#000" stroke-width="0.65"/>
<line x1="680.71" y1="2.50" x2="680.71" y2="5.10" stroke="#000" stroke-width="0.65"/>
<text x="680.71" y="272.40" font-size="10.67" text-anchor="middle">200</text>
<line x1="444.00" y1="238.96" x2="446.60" y2="238.96" stroke="#000" stroke-width="0.65"/>
<line x1="700.00" y1="238.96" x2="697.40" y2="238.96" stroke="#000" stroke-width="0.65"/>
<text x="440.90" y="243.96" font-size="10.67" text-anchor="end">–200</text>
<line x1="444.00" y1="211.80" x2="446.60" y2="211.80" stroke="#000" stroke-width="0.65"/>
<line x1="700.00" y1="211.80" x2="697.40" y2="211.80" stroke="#000" stroke-width="0.65"/>
<text x="440.90" y="216.80" font-size="10.67" text-anchor="end">–150</text>
<line x1="444.00" y1="184.63" x2="446.60" y2="184.63" stroke="#000" stroke-width="0.65"/>
<line x1="700.00" y1="184.63" x2="697.40" y2="184.63" stroke="#000" stroke-width="0.65"/>
<text x="440.90" y="189.63" font-size="10.67" text-anchor="end">–100</text>
<line x1="444.00" y1="157.47" x2="446.60" y2="157.47" stroke="#000" stroke-width="0.65"/>
<line x1="700.00" y1="157.47" x2="697.40" y2="157.47" stroke="#000" stroke-width="0.65"/>
<text x="440.90" y="162.47" font-size="10.67" text-anchor="end">–50</text>
<line x1="444.00" y1="130.30" x2="446.60" y2="130.30" stroke="#000" stroke-width="0.65"/>
<line x1="700.00" y1="130.30" x2="697.40" y2="130.30" stroke="#000" stroke-width="0.65"/>
<text x="440.90" y="135.30" font-size="10.67" text-anchor="end">0</text>
<line x1="444.00" y1="103.14" x2="446.60" y2="103.14" stroke="#000" stroke-width="0.65"/>
<line x1="700.00" y1="103.14" x2="697.40" y2="103.14" stroke="#000" stroke-width="0.65"/>
<text x="440.90" y="108.14" font-size="10.67" text-anchor="end">50</text>
<line x1="444.00" y1="75.97" x2="446.60" y2="75.97" stroke="#000" stroke-width="0.65"/>
<line x1="700.00" y1="75.97" x2="697.40" y2="75.97" stroke="#000" stroke-width="0.65"/>
<text x="440.90" y="80.97" font-size="10.67" text-anchor="end">100</text>
<line x1="444.00" y1="48.81" x2="446.60" y2="48.81" stroke="#000" stroke-width="0.65"/>
<line x1="700.00" y1="48.81" x2="697.40" y2="48.81" stroke="#000" stroke-width="0.65"/>
<text x="440.90" y="53.81" font-size="10.67" text-anchor="end">150</text>
<line x1="444.00" y1="21.64" x2="446.60" y2="21.64" stroke="#000" stroke-width="0.65"/>
<line x1="700.00" y1="21.64" x2="697.40" y2="21.64" stroke="#000" stroke-width="0.65"/>
<text x="440.90" y="26.64" font-size="10.67" text-anchor="end">200</text>
<text x="688.3" y="19.3" font-size="11.5" text-anchor="middle">(b)</text>
<text transform="translate(410.3,130.8) rotate(-90)" font-size="10.67" text-anchor="middle">Y [cm]</text>
<text x="572.3" y="284.6" font-size="10.67" text-anchor="middle">X [cm]</text>
<text x="518.8" y="228.2" font-size="10.67" font-weight="bold" text-anchor="middle">C</text>
<line x1="505.5" y1="245" x2="513.6" y2="231.8" stroke="#000" stroke-width="0.65"/>
<rect x="714.80" y="254.69" width="20.30" height="4.61" fill="#00008f" shape-rendering="crispEdges"/>
<rect x="714.80" y="250.68" width="20.30" height="4.61" fill="#00009f" shape-rendering="crispEdges"/>
<rect x="714.80" y="246.68" width="20.30" height="4.61" fill="#0000af" shape-rendering="crispEdges"/>
<rect x="714.80" y="242.67" width="20.30" height="4.61" fill="#0000bf" shape-rendering="crispEdges"/>
<rect x="714.80" y="238.66" width="20.30" height="4.61" fill="#0000cf" shape-rendering="crispEdges"/>
<rect x="714.80" y="234.65" width="20.30" height="4.61" fill="#0000df" shape-rendering="crispEdges"/>
<rect x="714.80" y="230.65" width="20.30" height="4.61" fill="#0000ef" shape-rendering="crispEdges"/>
<rect x="714.80" y="226.64" width="20.30" height="4.61" fill="#0000ff" shape-rendering="crispEdges"/>
<rect x="714.80" y="222.63" width="20.30" height="4.61" fill="#0010ff" shape-rendering="crispEdges"/>
<rect x="714.80" y="218.62" width="20.30" height="4.61" fill="#0020ff" shape-rendering="crispEdges"/>
<rect x="714.80" y="214.61" width="20.30" height="4.61" fill="#0030ff" shape-rendering="crispEdges"/>
<rect x="714.80" y="210.61" width="20.30" height="4.61" fill="#0040ff" shape-rendering="crispEdges"/>
<rect x="714.80" y="206.60" width="20.30" height="4.61" fill="#0050ff" shape-rendering="crispEdges"/>
<rect x="714.80" y="202.59" width="20.30" height="4.61" fill="#0060ff" shape-rendering="crispEdges"/>
<rect x="714.80" y="198.58" width="20.30" height="4.61" fill="#0070ff" shape-rendering="crispEdges"/>
<rect x="714.80" y="194.57" width="20.30" height="4.61" fill="#0080ff" shape-rendering="crispEdges"/>
<rect x="714.80" y="190.57" width="20.30" height="4.61" fill="#008fff" shape-rendering="crispEdges"/>
<rect x="714.80" y="186.56" width="20.30" height="4.61" fill="#009fff" shape-rendering="crispEdges"/>
<rect x="714.80" y="182.55" width="20.30" height="4.61" fill="#00afff" shape-rendering="crispEdges"/>
<rect x="714.80" y="178.54" width="20.30" height="4.61" fill="#00bfff" shape-rendering="crispEdges"/>
<rect x="714.80" y="174.54" width="20.30" height="4.61" fill="#00cfff" shape-rendering="crispEdges"/>
<rect x="714.80" y="170.53" width="20.30" height="4.61" fill="#00dfff" shape-rendering="crispEdges"/>
<rect x="714.80" y="166.52" width="20.30" height="4.61" fill="#00efff" shape-rendering="crispEdges"/>
<rect x="714.80" y="162.51" width="20.30" height="4.61" fill="#00ffff" shape-rendering="crispEdges"/>
<rect x="714.80" y="158.50" width="20.30" height="4.61" fill="#10ffef" shape-rendering="crispEdges"/>
<rect x="714.80" y="154.50" width="20.30" height="4.61" fill="#20ffdf" shape-rendering="crispEdges"/>
<rect x="714.80" y="150.49" width="20.30" height="4.61" fill="#30ffcf" shape-rendering="crispEdges"/>
<rect x="714.80" y="146.48" width="20.30" height="4.61" fill="#40ffbf" shape-rendering="crispEdges"/>
<rect x="714.80" y="142.47" width="20.30" height="4.61" fill="#50ffaf" shape-rendering="crispEdges"/>
<rect x="714.80" y="138.47" width="20.30" height="4.61" fill="#60ff9f" shape-rendering="crispEdges"/>
<rect x="714.80" y="134.46" width="20.30" height="4.61" fill="#70ff8f" shape-rendering="crispEdges"/>
<rect x="714.80" y="130.45" width="20.30" height="4.61" fill="#80ff80" shape-rendering="crispEdges"/>
<rect x="714.80" y="126.44" width="20.30" height="4.61" fill="#8fff70" shape-rendering="crispEdges"/>
<rect x="714.80" y="122.43" width="20.30" height="4.61" fill="#9fff60" shape-rendering="crispEdges"/>
<rect x="714.80" y="118.43" width="20.30" height="4.61" fill="#afff50" shape-rendering="crispEdges"/>
<rect x="714.80" y="114.42" width="20.30" height="4.61" fill="#bfff40" shape-rendering="crispEdges"/>
<rect x="714.80" y="110.41" width="20.30" height="4.61" fill="#cfff30" shape-rendering="crispEdges"/>
<rect x="714.80" y="106.40" width="20.30" height="4.61" fill="#dfff20" shape-rendering="crispEdges"/>
<rect x="714.80" y="102.40" width="20.30" height="4.61" fill="#efff10" shape-rendering="crispEdges"/>
<rect x="714.80" y="98.39" width="20.30" height="4.61" fill="#ffff00" shape-rendering="crispEdges"/>
<rect x="714.80" y="94.38" width="20.30" height="4.61" fill="#ffef00" shape-rendering="crispEdges"/>
<rect x="714.80" y="90.37" width="20.30" height="4.61" fill="#ffdf00" shape-rendering="crispEdges"/>
<rect x="714.80" y="86.36" width="20.30" height="4.61" fill="#ffcf00" shape-rendering="crispEdges"/>
<rect x="714.80" y="82.36" width="20.30" height="4.61" fill="#ffbf00" shape-rendering="crispEdges"/>
<rect x="714.80" y="78.35" width="20.30" height="4.61" fill="#ffaf00" shape-rendering="crispEdges"/>
<rect x="714.80" y="74.34" width="20.30" height="4.61" fill="#ff9f00" shape-rendering="crispEdges"/>
<rect x="714.80" y="70.33" width="20.30" height="4.61" fill="#ff8f00" shape-rendering="crispEdges"/>
<rect x="714.80" y="66.32" width="20.30" height="4.61" fill="#ff8000" shape-rendering="crispEdges"/>
<rect x="714.80" y="62.32" width="20.30" height="4.61" fill="#ff7000" shape-rendering="crispEdges"/>
<rect x="714.80" y="58.31" width="20.30" height="4.61" fill="#ff6000" shape-rendering="crispEdges"/>
<rect x="714.80" y="54.30" width="20.30" height="4.61" fill="#ff5000" shape-rendering="crispEdges"/>
<rect x="714.80" y="50.29" width="20.30" height="4.61" fill="#ff4000" shape-rendering="crispEdges"/>
<rect x="714.80" y="46.29" width="20.30" height="4.61" fill="#ff3000" shape-rendering="crispEdges"/>
<rect x="714.80" y="42.28" width="20.30" height="4.61" fill="#ff2000" shape-rendering="crispEdges"/>
<rect x="714.80" y="38.27" width="20.30" height="4.61" fill="#ff1000" shape-rendering="crispEdges"/>
<rect x="714.80" y="34.26" width="20.30" height="4.61" fill="#ff0000" shape-rendering="crispEdges"/>
<rect x="714.80" y="30.25" width="20.30" height="4.61" fill="#ef0000" shape-rendering="crispEdges"/>
<rect x="714.80" y="26.25" width="20.30" height="4.61" fill="#df0000" shape-rendering="crispEdges"/>
<rect x="714.80" y="22.24" width="20.30" height="4.61" fill="#cf0000" shape-rendering="crispEdges"/>
<rect x="714.80" y="18.23" width="20.30" height="4.61" fill="#bf0000" shape-rendering="crispEdges"/>
<rect x="714.80" y="14.22" width="20.30" height="4.61" fill="#af0000" shape-rendering="crispEdges"/>
<rect x="714.80" y="10.22" width="20.30" height="4.61" fill="#9f0000" shape-rendering="crispEdges"/>
<rect x="714.80" y="6.21" width="20.30" height="4.61" fill="#8f0000" shape-rendering="crispEdges"/>
<rect x="714.80" y="2.20" width="20.30" height="4.61" fill="#800000" shape-rendering="crispEdges"/>
<rect x="714.80" y="2.20" width="20.30" height="256.50" fill="none" stroke="#000" stroke-width="0.5" stroke-opacity="0.65"/>
<line x1="714.80" y1="249.40" x2="717.30" y2="249.40" stroke="#000" stroke-width="0.65" stroke-opacity="0.7"/>
<line x1="735.10" y1="249.40" x2="732.60" y2="249.40" stroke="#000" stroke-width="0.65" stroke-opacity="0.7"/>
<text x="737.70" y="254.00" font-size="10.67">500</text>
<line x1="714.80" y1="225.79" x2="717.30" y2="225.79" stroke="#000" stroke-width="0.65" stroke-opacity="0.7"/>
<line x1="735.10" y1="225.79" x2="732.60" y2="225.79" stroke="#000" stroke-width="0.65" stroke-opacity="0.7"/>
<text x="737.70" y="230.39" font-size="10.67">1000</text>
<line x1="714.80" y1="202.18" x2="717.30" y2="202.18" stroke="#000" stroke-width="0.65" stroke-opacity="0.7"/>
<line x1="735.10" y1="202.18" x2="732.60" y2="202.18" stroke="#000" stroke-width="0.65" stroke-opacity="0.7"/>
<text x="737.70" y="206.78" font-size="10.67">1500</text>
<line x1="714.80" y1="178.57" x2="717.30" y2="178.57" stroke="#000" stroke-width="0.65" stroke-opacity="0.7"/>
<line x1="735.10" y1="178.57" x2="732.60" y2="178.57" stroke="#000" stroke-width="0.65" stroke-opacity="0.7"/>
<text x="737.70" y="183.17" font-size="10.67">2000</text>
<line x1="714.80" y1="154.96" x2="717.30" y2="154.96" stroke="#000" stroke-width="0.65" stroke-opacity="0.7"/>
<line x1="735.10" y1="154.96" x2="732.60" y2="154.96" stroke="#000" stroke-width="0.65" stroke-opacity="0.7"/>
<text x="737.70" y="159.56" font-size="10.67">2500</text>
<line x1="714.80" y1="131.35" x2="717.30" y2="131.35" stroke="#000" stroke-width="0.65" stroke-opacity="0.7"/>
<line x1="735.10" y1="131.35" x2="732.60" y2="131.35" stroke="#000" stroke-width="0.65" stroke-opacity="0.7"/>
<text x="737.70" y="135.95" font-size="10.67">3000</text>
<line x1="714.80" y1="107.74" x2="717.30" y2="107.74" stroke="#000" stroke-width="0.65" stroke-opacity="0.7"/>
<line x1="735.10" y1="107.74" x2="732.60" y2="107.74" stroke="#000" stroke-width="0.65" stroke-opacity="0.7"/>
<text x="737.70" y="112.34" font-size="10.67">3500</text>
<line x1="714.80" y1="84.13" x2="717.30" y2="84.13" stroke="#000" stroke-width="0.65" stroke-opacity="0.7"/>
<line x1="735.10" y1="84.13" x2="732.60" y2="84.13" stroke="#000" stroke-width="0.65" stroke-opacity="0.7"/>
<text x="737.70" y="88.73" font-size="10.67">4000</text>
<line x1="714.80" y1="60.52" x2="717.30" y2="60.52" stroke="#000" stroke-width="0.65" stroke-opacity="0.7"/>
<line x1="735.10" y1="60.52" x2="732.60" y2="60.52" stroke="#000" stroke-width="0.65" stroke-opacity="0.7"/>
<text x="737.70" y="65.12" font-size="10.67">4500</text>
<line x1="714.80" y1="36.91" x2="717.30" y2="36.91" stroke="#000" stroke-width="0.65" stroke-opacity="0.7"/>
<line x1="735.10" y1="36.91" x2="732.60" y2="36.91" stroke="#000" stroke-width="0.65" stroke-opacity="0.7"/>
<text x="737.70" y="41.51" font-size="10.67">5000</text>
<line x1="714.80" y1="13.30" x2="717.30" y2="13.30" stroke="#000" stroke-width="0.65" stroke-opacity="0.7"/>
<line x1="735.10" y1="13.30" x2="732.60" y2="13.30" stroke="#000" stroke-width="0.65" stroke-opacity="0.7"/>
<text x="737.70" y="17.90" font-size="10.67">5500</text>
<text transform="translate(774.00,129.65) rotate(-90)" font-size="10.67" text-anchor="middle">Dust temperature [K]</text>
</svg></body></html>
